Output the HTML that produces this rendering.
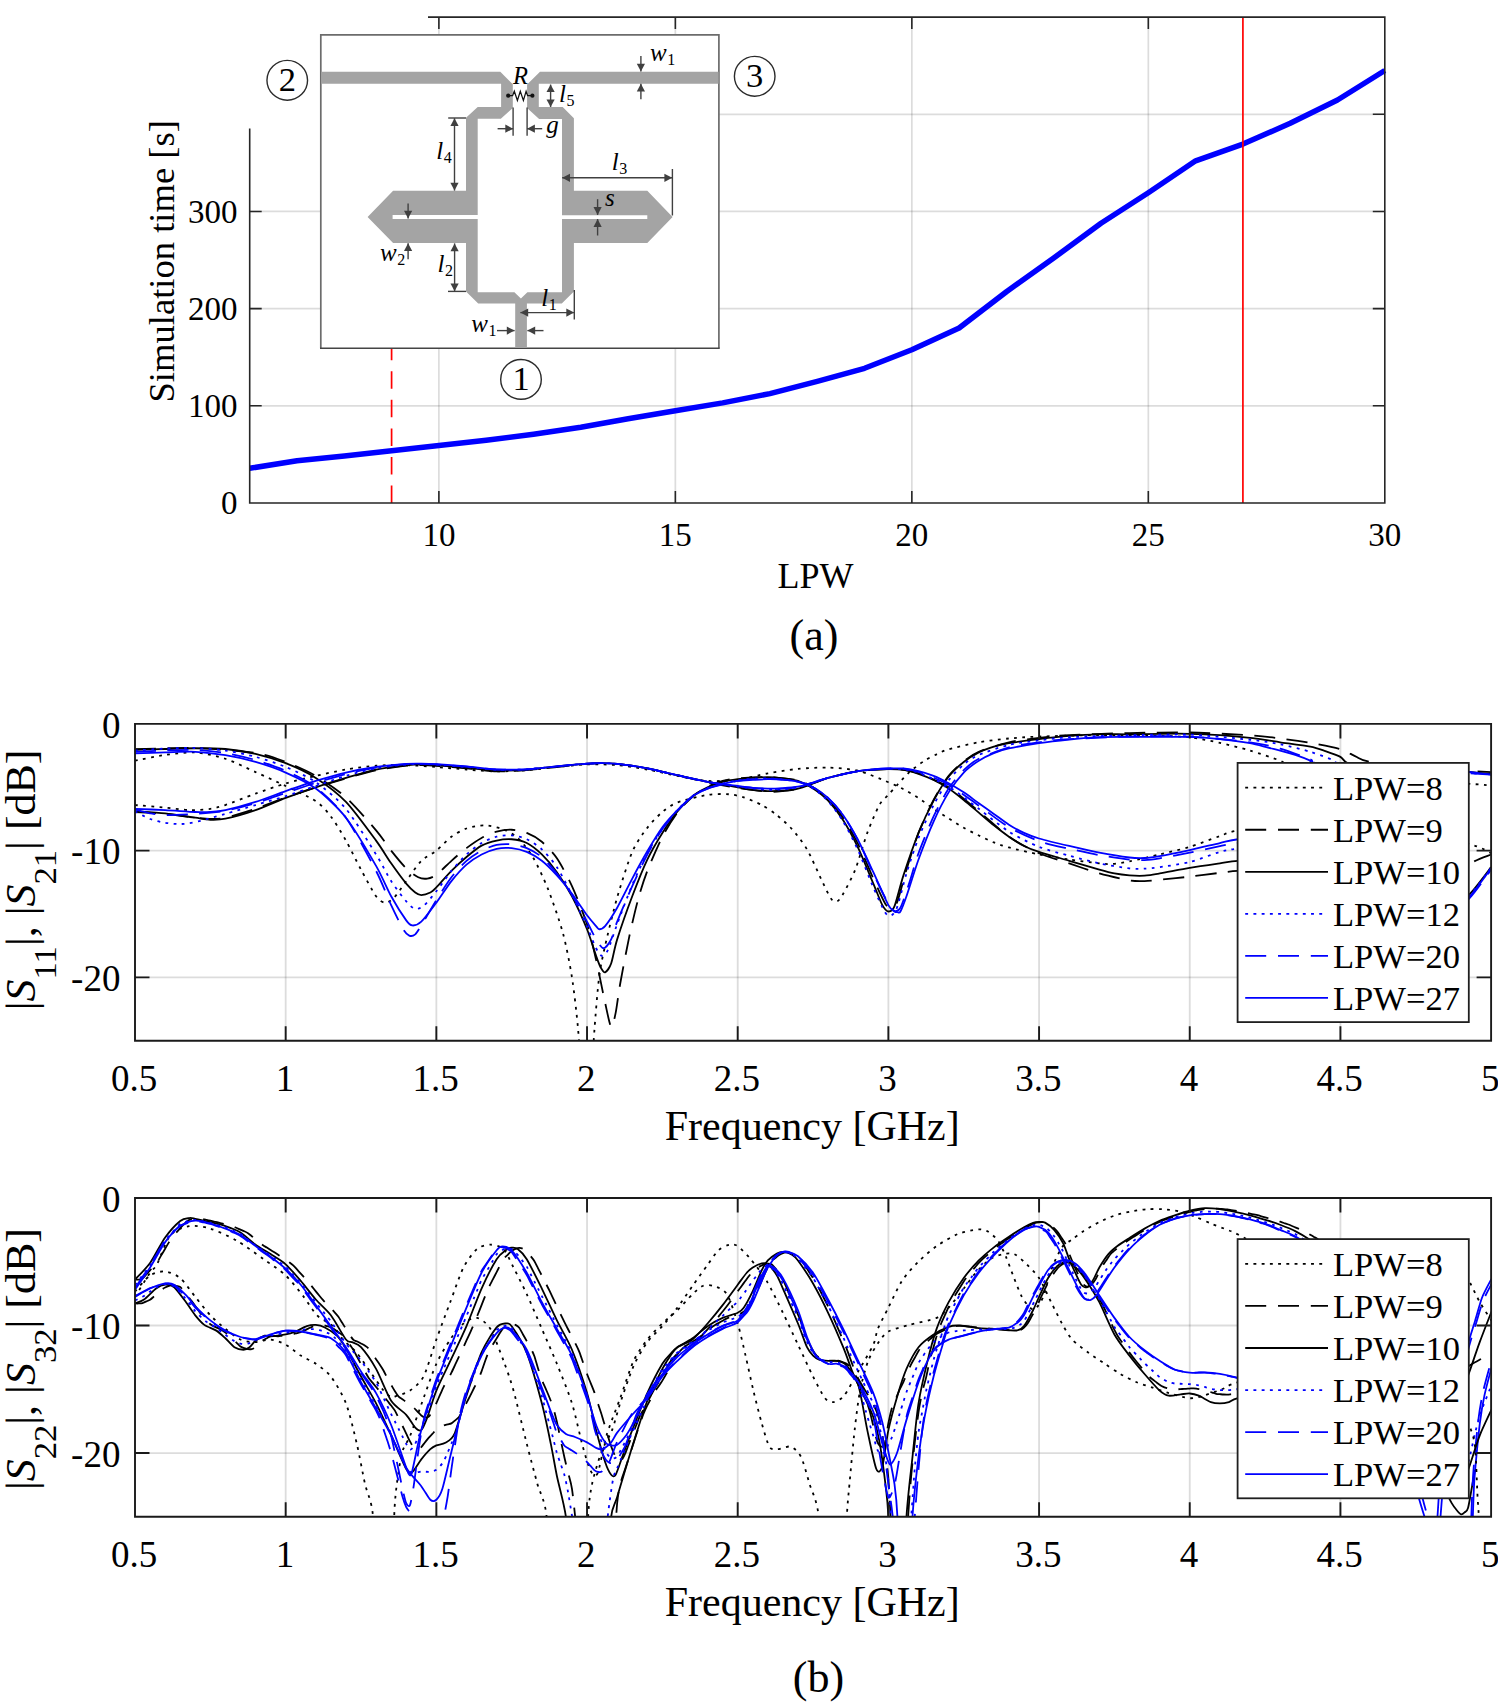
<!DOCTYPE html>
<html><head><meta charset="utf-8"><title>figure</title>
<style>html,body{margin:0;padding:0;background:#fff;}body{width:1498px;height:1707px;overflow:hidden;font-family:"Liberation Serif", serif;}svg{display:block;position:absolute;left:0;top:0;}text{font-family:"Liberation Serif", serif;fill:#000;}</style></head><body>
<svg width="1498" height="1707" viewBox="0 0 1498 1707">
<rect x="0" y="0" width="1498" height="1707" fill="#fff"/>
<g id="top">
<path d="M438.88 17.1V503" stroke="#262626" stroke-opacity="0.16" stroke-width="1.7" fill="none"/>
<path d="M675.36 17.1V503" stroke="#262626" stroke-opacity="0.16" stroke-width="1.7" fill="none"/>
<path d="M911.84 17.1V503" stroke="#262626" stroke-opacity="0.16" stroke-width="1.7" fill="none"/>
<path d="M1148.32 17.1V503" stroke="#262626" stroke-opacity="0.16" stroke-width="1.7" fill="none"/>
<path d="M249.7 405.82H1384.8" stroke="#262626" stroke-opacity="0.16" stroke-width="1.7" fill="none"/>
<path d="M249.7 308.64H1384.8" stroke="#262626" stroke-opacity="0.16" stroke-width="1.7" fill="none"/>
<path d="M249.7 211.46H1384.8" stroke="#262626" stroke-opacity="0.16" stroke-width="1.7" fill="none"/>
<path d="M249.7 114.28H1384.8" stroke="#262626" stroke-opacity="0.16" stroke-width="1.7" fill="none"/>
<path d="M391.59 503V349" stroke="#ff0000" stroke-width="1.7" stroke-dasharray="17.5 11.05" fill="none"/>
<path d="M249.7 468.3L297 460.8L344.29 456L391.59 450.8L438.88 445.6L486.18 440.3L533.47 434.2L580.77 427.2L628.07 418.8L675.36 410.8L722.66 402.9L769.95 393.6L817.25 381.4L864.55 368.3L911.84 349.8L959.14 328L1006.43 291.7L1053.73 258L1101.02 223.3L1148.32 192.7L1195.62 160.8L1242.91 144.1L1290.21 123.3L1337.5 100L1384.8 70.5" stroke="#0000ff" stroke-width="5.5" fill="none" stroke-linejoin="round"/>
<path d="M1242.91 17.1V503" stroke="#ff0000" stroke-width="1.7" fill="none"/>
<path d="M249.7 17.1H1384.8V503H249.7ZM438.88 503v-12M438.88 17.1v12M675.36 503v-12M675.36 17.1v12M911.84 503v-12M911.84 17.1v12M1148.32 503v-12M1148.32 17.1v12M1384.8 503v-12M1384.8 17.1v12M249.7 503h12M1384.8 503h-12M249.7 405.82h12M1384.8 405.82h-12M249.7 308.64h12M1384.8 308.64h-12M249.7 211.46h12M1384.8 211.46h-12M249.7 114.28h12M1384.8 114.28h-12M249.7 17.1h12M1384.8 17.1h-12" stroke="#262626" stroke-width="1.6" fill="none"/>
<rect x="0" y="0" width="428" height="128.5" fill="#fff"/>
<text x="237.5" y="514.2" font-size="33" text-anchor="end"  >0</text>
<text x="237.5" y="417.02" font-size="33" text-anchor="end"  >100</text>
<text x="237.5" y="319.84" font-size="33" text-anchor="end"  >200</text>
<text x="237.5" y="222.66" font-size="33" text-anchor="end"  >300</text>
<text x="438.88" y="546.2" font-size="33" text-anchor="middle"  >10</text>
<text x="675.36" y="546.2" font-size="33" text-anchor="middle"  >15</text>
<text x="911.84" y="546.2" font-size="33" text-anchor="middle"  >20</text>
<text x="1148.32" y="546.2" font-size="33" text-anchor="middle"  >25</text>
<text x="1384.8" y="546.2" font-size="33" text-anchor="middle"  >30</text>
<text x="815.6" y="588.3" font-size="36" text-anchor="middle"  >LPW</text>
<text transform="translate(173.9,261.3) rotate(-90)" font-size="36.6" text-anchor="middle">Simulation time [s]</text>
<text x="814" y="649.6" font-size="44" text-anchor="middle"  >(a)</text>
</g>
<g id="inset">
<rect x="320.8" y="34.8" width="398.1" height="313.5" fill="#fff"/>
<path d="M320.8 348.3V34.8H718.9V348.3" stroke="#6c6c6c" stroke-width="1.7" fill="none" stroke-linejoin="miter"/>
<path d="M320 348.3H719.7" stroke="#444" stroke-width="1.45" fill="none"/>
<path d="M321.5 71.7L500.3 71.7L512.8 84.2L512.8 108L500.8 118.8L477.7 118.8L477.7 215.1L392.6 215.1L392.6 219L477.7 219L477.7 292.2L514.4 292.2L520.9 298.4L527.4 292.2L562 292.2L562 218.9L647.3 218.9L647.3 215.2L562 215.2L562 119.1L539.1 119.1L527.1 108L527.1 84.4L540 71.7L718.6 71.7L718.6 83.75L538.8 83.75L538.8 107.1L562.7 107.1L573.9 118.3L573.9 190.8L647.3 190.8L672.6 216.9L647.3 243.1L573.9 243.1L573.9 291.6L561.8 303.6L526.9 303.6L526.9 348L515.2 348L515.2 303.6L478.2 303.6L466 291.6L466 243.1L393.1 243.1L367.6 216.9L393.1 190.7L466 190.7L466 117.8L477.7 107.1L501.1 107.1L501.1 83.75L321.5 83.75Z" fill="#a4a4a4"/>
<path d="M640.9 56L640.9 71.6" stroke="#404040" stroke-width="1.4" fill="none"/>
<path d="M640.9 71.6L636.8 63.8L645 63.8Z" fill="#404040"/>
<path d="M640.9 99.3L640.9 83.8" stroke="#404040" stroke-width="1.4" fill="none"/>
<path d="M640.9 83.8L645 91.6L636.8 91.6Z" fill="#404040"/>
<text x="650" y="61.2" font-size="25" font-style="italic" text-anchor="start">w<tspan font-style="normal" font-size="16" dx="0.5" dy="4">1</tspan></text>
<text x="512.9" y="83.6" font-size="24.5" font-style="italic" text-anchor="start">R</text>
<circle cx="508.2" cy="95.7" r="2.1" fill="#111"/><circle cx="532.4" cy="95.7" r="2.1" fill="#111"/>
<path d="M508.2 95.7H512.6L514.3 91.2L517.4 100.4L520.3 91.2L523.4 100.4L526.1 91.4L527.6 95.7H532.4" stroke="#111" stroke-width="1.25" fill="none" stroke-linejoin="miter"/>
<path d="M550.6 84.6L550.6 107" stroke="#404040" stroke-width="1.4" fill="none"/>
<path d="M550.6 107L546.5 99.6L554.7 99.6Z" fill="#404040"/>
<path d="M550.6 84.6L546.5 92L554.7 92Z" fill="#404040"/>
<text x="559" y="102.4" font-size="25" font-style="italic" text-anchor="start">l<tspan font-style="normal" font-size="16" dx="0.5" dy="4">5</tspan></text>
<path d="M513.1 107.5L513.1 135.8" stroke="#404040" stroke-width="1.4" fill="none"/>
<path d="M527.1 107.5L527.1 135.8" stroke="#404040" stroke-width="1.4" fill="none"/>
<path d="M497.6 128.7L513.1 128.7" stroke="#404040" stroke-width="1.4" fill="none"/>
<path d="M513.1 128.7L505.3 132.8L505.3 124.6Z" fill="#404040"/>
<path d="M542.2 128.7L527.1 128.7" stroke="#404040" stroke-width="1.4" fill="none"/>
<path d="M527.1 128.7L534.9 124.6L534.9 132.8Z" fill="#404040"/>
<text x="546.2" y="133" font-size="25" font-style="italic" text-anchor="start">g</text>
<path d="M448.2 118L466 118" stroke="#404040" stroke-width="1.4" fill="none"/>
<path d="M454.5 118.2L454.5 190.6" stroke="#404040" stroke-width="1.4" fill="none"/>
<path d="M454.5 190.6L450.4 182.8L458.6 182.8Z" fill="#404040"/>
<path d="M454.5 118.2L450.4 126L458.6 126Z" fill="#404040"/>
<text x="436.2" y="159.2" font-size="25" font-style="italic" text-anchor="start">l<tspan font-style="normal" font-size="16" dx="0.5" dy="4">4</tspan></text>
<path d="M672.4 169L672.4 215.5" stroke="#404040" stroke-width="1.4" fill="none"/>
<path d="M562.2 177.8L672.2 177.8" stroke="#404040" stroke-width="1.4" fill="none"/>
<path d="M672.2 177.8L664.4 181.9L664.4 173.7Z" fill="#404040"/>
<path d="M562.2 177.8L570 181.9L570 173.7Z" fill="#404040"/>
<text x="611.8" y="170.2" font-size="25" font-style="italic" text-anchor="start">l<tspan font-style="normal" font-size="16" dx="0.5" dy="4">3</tspan></text>
<path d="M597.6 199.2L597.6 214.9" stroke="#404040" stroke-width="1.4" fill="none"/>
<path d="M597.6 214.9L593.5 207.1L601.7 207.1Z" fill="#404040"/>
<path d="M597.6 235.5L597.6 219.1" stroke="#404040" stroke-width="1.4" fill="none"/>
<path d="M597.6 219.1L601.7 226.9L593.5 226.9Z" fill="#404040"/>
<text x="605" y="206.3" font-size="25" font-style="italic" text-anchor="start">s</text>
<path d="M408.1 203.4L408.1 218.6" stroke="#404040" stroke-width="1.4" fill="none"/>
<path d="M408.1 218.6L404 210.8L412.2 210.8Z" fill="#404040"/>
<path d="M408.1 259.3L408.1 243.2" stroke="#404040" stroke-width="1.4" fill="none"/>
<path d="M408.1 243.2L412.2 251L404 251Z" fill="#404040"/>
<text x="380" y="261.2" font-size="25" font-style="italic" text-anchor="start">w<tspan font-style="normal" font-size="16" dx="0.5" dy="4">2</tspan></text>
<path d="M448 291.4L466 291.4" stroke="#404040" stroke-width="1.4" fill="none"/>
<path d="M454.6 243.4L454.6 291.2" stroke="#404040" stroke-width="1.4" fill="none"/>
<path d="M454.6 291.2L450.5 283.4L458.7 283.4Z" fill="#404040"/>
<path d="M454.6 243.4L450.5 251.2L458.7 251.2Z" fill="#404040"/>
<text x="437.6" y="271.8" font-size="25" font-style="italic" text-anchor="start">l<tspan font-style="normal" font-size="16" dx="0.5" dy="4">2</tspan></text>
<path d="M574.3 290L574.3 319.4" stroke="#404040" stroke-width="1.4" fill="none"/>
<path d="M520.4 312.6L574.1 312.6" stroke="#404040" stroke-width="1.4" fill="none"/>
<path d="M574.1 312.6L566.3 316.7L566.3 308.5Z" fill="#404040"/>
<path d="M520.4 312.6L528.2 316.7L528.2 308.5Z" fill="#404040"/>
<text x="541.3" y="305.9" font-size="25" font-style="italic" text-anchor="start">l<tspan font-style="normal" font-size="16" dx="0.5" dy="4">1</tspan></text>
<path d="M497 330.6L514.6 330.6" stroke="#404040" stroke-width="1.4" fill="none"/>
<path d="M514.6 330.6L506.8 334.7L506.8 326.5Z" fill="#404040"/>
<path d="M543.5 330.6L527.4 330.6" stroke="#404040" stroke-width="1.4" fill="none"/>
<path d="M527.4 330.6L535.2 326.5L535.2 334.7Z" fill="#404040"/>
<text x="471.2" y="331.9" font-size="25" font-style="italic" text-anchor="start">w<tspan font-style="normal" font-size="16" dx="0.5" dy="4">1</tspan></text>
<ellipse cx="287.25" cy="80.3" rx="20.3" ry="19.9" fill="#fff" stroke="#2b2b2b" stroke-width="1.4"/>
<text x="287.25" y="91.2" font-size="34.5" text-anchor="middle"  >2</text>
<ellipse cx="754.7" cy="76.3" rx="20.3" ry="19.9" fill="#fff" stroke="#2b2b2b" stroke-width="1.4"/>
<text x="754.7" y="87.2" font-size="34.5" text-anchor="middle"  >3</text>
<ellipse cx="521" cy="379.4" rx="20.3" ry="19.9" fill="#fff" stroke="#2b2b2b" stroke-width="1.4"/>
<text x="521" y="390.3" font-size="34.5" text-anchor="middle"  >1</text>
</g>
<g id="mid">
<path d="M285.68 723.9V1040.8M436.36 723.9V1040.8M587.03 723.9V1040.8M737.71 723.9V1040.8M888.39 723.9V1040.8M1039.07 723.9V1040.8M1189.74 723.9V1040.8M1340.42 723.9V1040.8" stroke="#262626" stroke-opacity="0.16" stroke-width="1.8" fill="none"/>
<path d="M135 850.66H1491.1M135 977.42H1491.1" stroke="#262626" stroke-opacity="0.16" stroke-width="1.8" fill="none"/>
<svg x="135" y="723.9" width="1356.1" height="316.9" viewBox="135 723.9 1356.1 316.9" overflow="hidden"><g fill="none" stroke-width="1.8" stroke-linejoin="round">
<path d="M135 760.66C139.02 759.9 157.1 756.05 165.14 754.96C173.17 753.86 187.23 751.91 195.27 752.42C203.31 752.93 217.37 756.14 225.41 758.76C233.44 761.38 247.51 768.44 255.54 772.07C263.58 775.7 277.64 782.13 285.68 786.01C293.71 789.9 309.79 797.17 315.81 801.22C321.84 805.28 326.86 811.2 330.88 816.43C334.9 821.67 341.93 833.42 345.95 840.52C349.97 847.62 357 862.24 361.02 869.67C365.03 877.11 372.87 891.9 376.08 896.29C379.3 900.69 382.71 902.46 385.13 902.63C387.54 902.8 391.35 900.43 394.17 897.56C396.98 894.69 402.6 885.98 406.22 881.08C409.84 876.18 417.27 864.86 421.29 860.8C425.31 856.74 432.34 853.87 436.36 850.66C440.37 847.45 447.41 839.67 451.42 836.72C455.44 833.76 462.07 830 466.49 828.48C470.91 826.96 479.75 825.22 484.57 825.31C489.39 825.39 498.23 827.42 502.65 829.11C507.07 830.8 513.7 834.27 517.72 837.98C521.74 841.7 528.77 850.24 532.79 857C536.81 863.76 543.84 878.55 547.86 888.69C551.88 898.83 559.71 921.22 562.92 933.05C566.14 944.88 569.96 964.74 571.97 977.42C573.97 990.1 576.79 1014.6 577.99 1028.12C579.2 1041.65 580.2 1061.93 581.01 1078.83C581.81 1095.73 583.02 1144.74 584.02 1154.88C585.02 1165.02 587.54 1165.02 588.54 1154.88C589.54 1144.74 590.75 1095.73 591.55 1078.83C592.36 1061.93 593.56 1041.65 594.57 1028.12C595.57 1014.6 597.68 988.41 599.09 977.42C600.49 966.43 602.7 956.38 605.11 945.73C607.53 935.08 613.55 910.07 617.17 897.56C620.79 885.05 628.22 861.22 632.24 851.93C636.25 842.63 643.29 833.17 647.3 827.84C651.32 822.52 658.35 815.38 662.37 812C666.39 808.62 671.41 804.77 677.44 802.49C683.47 800.21 700.74 795.98 707.58 794.89C714.41 793.79 723.85 793.91 728.67 794.25C733.49 794.59 739.32 795.98 743.74 797.42C748.16 798.86 757.4 802.66 761.82 805.03C766.24 807.39 772.87 811.96 776.89 815.17C780.91 818.38 787.94 824.55 791.96 829.11C795.97 833.67 803 842.46 807.02 849.39C811.04 856.32 818.88 874.49 822.09 881.08C825.31 887.67 829.12 896.12 831.13 898.83C833.14 901.53 835.55 902.04 837.16 901.36C838.77 900.69 840.77 897.98 843.19 893.76C845.6 889.53 852.03 877.79 855.24 869.67C858.45 861.56 864.08 841.53 867.29 832.91C870.51 824.29 876.54 810.1 879.35 805.03C882.16 799.96 885.98 797.59 888.39 794.89C890.8 792.18 894.62 787.79 897.43 784.74C900.24 781.7 905.87 775.28 909.48 772.07C913.1 768.86 920.94 763.03 924.55 760.66C928.17 758.29 933.39 755.84 936.61 754.32C939.82 752.8 943.03 750.86 948.66 749.25C954.29 747.65 970.76 743.72 978.8 742.28C986.83 740.84 1000.89 739.24 1008.93 738.48C1016.97 737.72 1027.01 737.03 1039.07 736.58C1051.12 736.12 1083.27 735.14 1099.34 735.05C1115.41 734.97 1147.55 735.65 1159.61 735.94C1171.66 736.23 1181.71 736.28 1189.74 737.21C1197.78 738.14 1211.84 741.14 1219.88 742.91C1227.92 744.69 1241.98 748.15 1250.02 750.52C1258.05 752.89 1274.53 758.46 1280.15 760.66C1285.78 762.86 1284.17 765.14 1292.21 767C1300.24 768.86 1321.94 772.74 1340.42 774.6C1358.91 776.46 1410.74 779.51 1430.83 780.94C1450.92 782.38 1483.06 784.79 1491.1 785.38" stroke="#000" stroke-dasharray="2.8 5.4"/>
<path d="M135 805.03C139.02 805.36 157.9 806.89 165.14 807.56C172.37 808.24 183.22 809.93 189.24 810.1C195.27 810.27 205.52 809.51 210.34 808.83C215.16 808.15 219.38 807.05 225.41 805.03C231.43 803 247.51 796.49 255.54 793.62C263.58 790.74 277.64 785.84 285.68 783.48C293.71 781.11 307.78 777.73 315.81 775.87C323.85 774.01 337.91 770.89 345.95 769.53C353.99 768.18 368.05 766.32 376.08 765.73C384.12 765.14 398.18 764.93 406.22 765.1C414.26 765.27 428.32 766.41 436.36 767C444.39 767.59 458.45 768.94 466.49 769.53C474.53 770.13 488.59 771.35 496.63 771.43C504.66 771.52 518.73 770.76 526.76 770.17C534.8 769.58 548.86 767.76 556.9 767C564.93 766.24 579 764.72 587.03 764.46C595.07 764.21 609.13 764.42 617.17 765.1C625.21 765.77 639.27 768.1 647.3 769.53C655.34 770.97 669.4 774.35 677.44 775.87C685.48 777.39 699.54 780.43 707.58 780.94C715.61 781.45 729.67 780.69 737.71 779.67C745.75 778.66 759.81 774.77 767.85 773.34C775.88 771.9 789.95 769.66 797.98 768.9C806.02 768.14 820.08 767.38 828.12 767.63C836.15 767.89 850.22 768.86 858.25 770.8C866.29 772.74 882.36 779.76 888.39 782.21C894.42 784.66 899.44 787.07 903.46 789.18C907.47 791.29 914.51 795.43 918.52 798.05C922.54 800.67 929.57 806.12 933.59 808.83C937.61 811.53 944.64 815.8 948.66 818.34C952.68 820.87 959.71 825.56 963.73 827.84C967.75 830.12 974.78 833.51 978.8 835.45C982.81 837.39 989.85 840.81 993.86 842.42C997.88 844.03 1002.9 845.89 1008.93 847.49C1014.96 849.1 1031.03 852.86 1039.07 854.46C1047.1 856.07 1061.17 858.35 1069.2 859.53C1077.24 860.72 1093.71 862.74 1099.34 863.34C1104.96 863.93 1107.37 864.22 1111.39 863.97C1115.41 863.72 1123.04 862.7 1129.47 861.43C1135.9 860.17 1151.57 856.41 1159.61 854.46C1167.65 852.52 1181.71 849.31 1189.74 846.86C1197.78 844.41 1213.45 838.28 1219.88 836.08C1226.31 833.89 1225.91 832.66 1237.96 830.38C1250.02 828.1 1288.59 818.8 1310.29 818.97C1331.98 819.14 1379.4 828.27 1400.69 831.65C1421.99 835.03 1457.95 841.45 1470.01 844.32C1482.06 847.2 1488.29 852.01 1491.1 853.2" stroke="#000" stroke-dasharray="2.8 5.4"/>
<path d="M135 749.25C143.04 749.08 179.2 747.48 195.27 747.98C211.34 748.49 243.49 751.2 255.54 753.05C267.6 754.91 277.64 758.89 285.68 761.93C293.71 764.97 307.78 771.14 315.81 775.87C323.85 780.6 337.91 790.15 345.95 797.42C353.99 804.69 370.06 823.28 376.08 830.38C382.11 837.48 387.13 845.59 391.15 850.66C395.17 855.73 402.6 864.86 406.22 868.41C409.84 871.96 415.46 875.93 418.27 877.28C421.09 878.63 424.9 878.89 427.31 878.55C429.73 878.21 433.14 877.11 436.36 874.74C439.57 872.38 447.41 864.35 451.42 860.8C455.44 857.25 462.47 851.17 466.49 848.12C470.51 845.08 477.54 840.18 481.56 837.98C485.58 835.79 492.61 832.74 496.63 831.65C500.64 830.55 507.68 829.58 511.69 829.74C515.71 829.91 522.74 831.31 526.76 832.91C530.78 834.52 537.81 838.41 541.83 841.79C545.85 845.17 552.88 852.35 556.9 858.27C560.92 864.18 567.95 877.36 571.97 886.15C575.98 894.94 583.82 914.38 587.03 924.18C590.25 933.98 593.66 949.19 596.07 959.67C598.48 970.15 603.11 993.81 605.11 1002.77C607.12 1011.73 609.74 1025.5 611.14 1026.86C612.55 1028.21 614.46 1018.66 615.66 1012.91C616.87 1007.17 618.37 993.9 620.18 983.76C621.99 973.62 626.81 948.18 629.22 936.86C631.63 925.53 635.85 907.62 638.26 898.83C640.67 890.04 644.09 879.22 647.3 870.94C650.52 862.66 658.35 844.49 662.37 836.72C666.39 828.94 673.42 817.96 677.44 812.63C681.46 807.31 688.49 800.25 692.51 796.79C696.53 793.32 703.56 788.76 707.58 786.65C711.59 784.53 718.63 782.04 722.64 780.94C726.66 779.84 731.68 778.91 737.71 778.41C743.74 777.9 759.81 776.89 767.85 777.14C775.88 777.39 791.96 778.96 797.98 780.31C804.01 781.66 809.03 784.83 813.05 787.28C817.07 789.73 824.1 794.63 828.12 798.69C832.14 802.74 839.17 811.62 843.19 817.7C847.2 823.79 854.24 836.21 858.25 844.32C862.27 852.43 869.7 870.6 873.32 878.55C876.94 886.49 882.96 900.01 885.38 903.9C887.79 907.79 889.8 908.04 891.4 907.7C893.01 907.36 895.42 906.43 897.43 901.36C899.44 896.29 903.66 878.8 906.47 869.67C909.28 860.55 914.91 842.21 918.52 832.91C922.14 823.62 929.57 807.56 933.59 799.96C937.61 792.35 944.64 781.03 948.66 775.87C952.68 770.72 959.71 764.51 963.73 761.29C967.75 758.08 972.77 754.32 978.8 751.79C984.82 749.25 1000.89 744.14 1008.93 742.28C1016.97 740.42 1031.03 738.81 1039.07 737.84C1047.1 736.88 1057.15 735.7 1069.2 735.05C1081.26 734.41 1113.4 733.36 1129.47 733.03C1145.55 732.69 1173.67 732.22 1189.74 732.52C1205.82 732.82 1237.96 734.51 1250.02 735.31C1262.07 736.1 1272.11 737.46 1280.15 738.48C1288.19 739.49 1302.25 741.48 1310.29 742.91C1318.32 744.35 1334.4 747.46 1340.42 749.25C1346.45 751.04 1351.47 754.66 1355.49 756.35C1359.51 758.04 1360.51 760.34 1370.56 761.93C1380.6 763.52 1414.76 766.91 1430.83 768.27C1446.9 769.62 1483.06 771.56 1491.1 772.07" stroke="#000" stroke-dasharray="21 11.5"/>
<path d="M135 812C139.02 812.25 157.1 813.14 165.14 813.9C173.17 814.66 189.24 817.03 195.27 817.7C201.3 818.38 206.32 818.97 210.34 818.97C214.36 818.97 219.38 819.05 225.41 817.7C231.43 816.35 247.51 811.53 255.54 808.83C263.58 806.12 277.64 800.29 285.68 797.42C293.71 794.55 307.78 789.82 315.81 787.28C323.85 784.74 337.91 780.69 345.95 778.41C353.99 776.13 368.05 771.86 376.08 770.17C384.12 768.48 400.19 766.41 406.22 765.73C412.25 765.05 417.27 765.1 421.29 765.1C425.31 765.1 430.33 765.31 436.36 765.73C442.38 766.15 458.45 767.51 466.49 768.27C474.53 769.03 488.59 771.18 496.63 771.43C504.66 771.69 518.73 770.76 526.76 770.17C534.8 769.58 548.86 767.84 556.9 767C564.93 766.15 581.01 764.34 587.03 763.83C593.06 763.32 598.08 763.18 602.1 763.2C606.12 763.21 611.14 763.28 617.17 763.96C623.2 764.63 639.27 766.76 647.3 768.27C655.34 769.77 669.4 773.38 677.44 775.24C685.48 777.1 699.54 780.52 707.58 782.21C715.61 783.9 729.67 786.65 737.71 787.91C745.75 789.18 761.82 791.29 767.85 791.72C773.87 792.14 778.9 791.51 782.91 791.08C786.93 790.66 791.96 790.31 797.98 788.55C804.01 786.79 820.08 780.22 828.12 777.9C836.15 775.58 850.22 772.36 858.25 771.18C866.29 770 882.36 769.21 888.39 769.03C894.42 768.84 899.44 769.21 903.46 769.79C907.47 770.36 912.5 771 918.52 773.34C924.55 775.67 940.62 782.21 948.66 787.28C956.7 792.35 970.76 804.77 978.8 811.36C986.83 817.96 1000.89 831.14 1008.93 836.72C1016.97 842.29 1031.03 849.65 1039.07 853.2C1047.1 856.74 1061.17 860.63 1069.2 863.34C1077.24 866.04 1091.3 871.2 1099.34 873.48C1107.37 875.76 1123.45 879.43 1129.47 880.45C1135.5 881.46 1140.52 881.17 1144.54 881.08C1148.56 881 1153.58 880.41 1159.61 879.81C1165.64 879.22 1181.71 877.58 1189.74 876.65C1197.78 875.72 1213.45 873.6 1219.88 872.84C1226.31 872.08 1229.93 871.36 1237.96 870.94C1246 870.52 1266.49 869 1280.15 869.67C1293.81 870.35 1324.35 873.48 1340.42 876.01C1356.49 878.55 1386.63 887 1400.69 888.69C1414.76 890.38 1436.66 891.98 1445.9 888.69C1455.14 885.39 1463.98 868.53 1470.01 863.97C1476.03 859.41 1488.29 855.73 1491.1 854.46" stroke="#000" stroke-dasharray="21 11.5"/>
<path d="M135 749.76C139.02 749.66 157.1 749.2 165.14 749C173.17 748.8 187.23 748.24 195.27 748.24C203.31 748.24 217.37 748.25 225.41 749C233.44 749.74 247.51 751.92 255.54 753.82C263.58 755.71 277.64 759.98 285.68 763.2C293.71 766.41 307.78 772.74 315.81 777.9C323.85 783.05 337.91 793.49 345.95 801.86C353.99 810.22 370.06 832.45 376.08 840.65C382.11 848.84 387.13 857.61 391.15 863.34C395.17 869.07 403.01 879.73 406.22 883.62C409.43 887.5 413.25 890.97 415.26 892.49C417.27 894.01 419.28 895.03 421.29 895.03C423.3 895.03 428.32 893.5 430.33 892.49C432.34 891.48 433.54 890.29 436.36 887.42C439.17 884.55 447.41 875 451.42 870.94C455.44 866.89 462.47 860.38 466.49 857C470.51 853.62 477.54 847.79 481.56 845.59C485.58 843.39 492.61 841.36 496.63 840.52C500.64 839.67 507.68 838.91 511.69 839.25C515.71 839.59 522.74 841.03 526.76 843.05C530.78 845.08 537.81 850.58 541.83 854.46C545.85 858.35 552.88 866.63 556.9 872.21C560.92 877.79 567.95 888.69 571.97 896.29C575.98 903.9 583.82 921.31 587.03 929.25C590.25 937.19 594.27 950.8 596.07 955.87C597.88 960.94 599.39 965.08 600.59 967.28C601.8 969.48 603.71 972.86 605.11 972.35C606.52 971.84 609.53 967.87 611.14 963.48C612.75 959.08 614.36 948.35 617.17 939.39C619.98 930.43 628.22 906.94 632.24 896.29C636.25 885.65 643.29 867.98 647.3 859.53C651.32 851.08 658.35 839.34 662.37 832.91C666.39 826.49 673.42 816.27 677.44 811.36C681.46 806.46 688.49 799.36 692.51 796.15C696.53 792.94 703.56 789.19 707.58 787.28C711.59 785.37 718.63 782.91 722.64 781.83C726.66 780.75 733.69 779.69 737.71 779.17C741.73 778.64 748.76 778.17 752.78 777.9C756.8 777.63 763.83 777.07 767.85 777.14C771.86 777.21 778.9 777.9 782.91 778.41C786.93 778.91 793.96 779.59 797.98 780.94C802 782.29 809.03 785.93 813.05 788.55C817.07 791.17 824.1 796.36 828.12 800.59C832.14 804.82 839.17 813.9 843.19 820.24C847.2 826.58 854.24 839.67 858.25 848.12C862.27 856.58 870.11 876.01 873.32 883.62C876.54 891.22 880.35 901.45 882.36 905.17C884.37 908.89 886.78 911.34 888.39 911.5C890 911.67 892.41 911.25 894.42 906.43C896.43 901.62 900.24 885.18 903.46 875.38C906.67 865.58 914.51 842.89 918.52 832.91C922.54 822.94 929.57 808.11 933.59 800.59C937.61 793.07 944.64 781.66 948.66 776.51C952.68 771.35 959.71 765.14 963.73 761.93C967.75 758.72 974.78 754.45 978.8 752.42C982.81 750.39 989.85 747.95 993.86 746.72C997.88 745.48 1002.9 744.18 1008.93 743.17C1014.96 742.15 1031.03 740.07 1039.07 739.11C1047.1 738.15 1061.17 736.58 1069.2 735.94C1077.24 735.3 1091.3 734.51 1099.34 734.29C1107.37 734.07 1121.44 734.36 1129.47 734.29C1137.51 734.23 1151.57 733.85 1159.61 733.79C1167.65 733.72 1181.71 733.6 1189.74 733.79C1197.78 733.97 1211.84 734.64 1219.88 735.18C1227.92 735.72 1243.59 737.15 1250.02 737.84C1256.44 738.54 1264.08 739.79 1268.1 740.38C1272.11 740.97 1274.53 741.44 1280.15 742.28C1285.78 743.13 1304.26 745.53 1310.29 746.72C1316.31 747.9 1321.34 749.8 1325.35 751.15C1329.37 752.51 1337.45 755.25 1340.42 756.86C1343.4 758.46 1343.64 761.84 1347.65 763.2C1351.67 764.55 1363.49 766.24 1370.56 767C1377.63 767.76 1388.64 768.31 1400.69 768.9C1412.75 769.49 1448.91 770.76 1460.96 771.43C1473.02 772.11 1487.08 773.63 1491.1 773.97" stroke="#000"/>
<path d="M135 811.36C139.02 811.63 157.1 812.55 165.14 813.39C173.17 814.24 189.24 816.86 195.27 817.7C201.3 818.55 206.32 819.6 210.34 819.73C214.36 819.87 219.38 820 225.41 818.72C231.43 817.43 247.51 812.87 255.54 810.1C263.58 807.32 277.64 800.97 285.68 797.93C293.71 794.89 307.78 789.95 315.81 787.28C323.85 784.61 337.91 780.27 345.95 777.9C353.99 775.53 368.05 771.21 376.08 769.53C384.12 767.86 400.19 766.03 406.22 765.35C412.25 764.67 417.27 764.46 421.29 764.46C425.31 764.46 430.33 764.91 436.36 765.35C442.38 765.79 458.45 767.05 466.49 767.76C474.53 768.47 488.59 770.44 496.63 770.67C504.66 770.91 518.73 770.11 526.76 769.53C534.8 768.96 548.86 767.14 556.9 766.36C564.93 765.59 581.01 764.13 587.03 763.7C593.06 763.28 598.08 763.16 602.1 763.2C606.12 763.23 611.14 763.28 617.17 763.96C623.2 764.63 639.27 766.76 647.3 768.27C655.34 769.77 669.4 773.43 677.44 775.24C685.48 777.05 699.54 780.22 707.58 781.83C715.61 783.43 731.68 786.22 737.71 787.28C743.74 788.34 748.76 789.31 752.78 789.82C756.8 790.32 763.83 790.96 767.85 791.08C771.86 791.2 778.9 791.04 782.91 790.7C786.93 790.36 793.96 789.51 797.98 788.55C802 787.58 809.03 784.9 813.05 783.48C817.07 782.06 822.09 779.54 828.12 777.9C834.14 776.26 852.23 772.3 858.25 771.18C864.28 770.07 869.3 769.82 873.32 769.53C877.34 769.25 884.37 768.99 888.39 769.03C892.41 769.06 899.44 769.14 903.46 769.79C907.47 770.43 914.51 772.47 918.52 773.84C922.54 775.21 929.57 778.09 933.59 780.05C937.61 782.02 944.64 785.89 948.66 788.55C952.68 791.2 959.71 796.74 963.73 799.96C967.75 803.17 974.78 809.25 978.8 812.63C982.81 816.01 989.85 822.1 993.86 825.31C997.88 828.52 1004.91 833.96 1008.93 836.72C1012.95 839.47 1019.98 843.94 1024 845.97C1028.02 848 1033.04 849.95 1039.07 851.93C1045.09 853.91 1061.17 858.43 1069.2 860.8C1077.24 863.17 1093.31 867.98 1099.34 869.67C1105.36 871.36 1110.39 872.72 1114.41 873.48C1118.42 874.24 1125.46 875.09 1129.47 875.38C1133.49 875.67 1140.52 875.89 1144.54 875.63C1148.56 875.38 1153.58 874.51 1159.61 873.48C1165.64 872.45 1181.71 869.25 1189.74 867.9C1197.78 866.55 1213.45 864.28 1219.88 863.34C1226.31 862.39 1229.93 861.31 1237.96 860.8C1246 860.29 1266.49 858.35 1280.15 859.53C1293.81 860.72 1324.35 864.94 1340.42 869.67C1356.49 874.41 1386.63 889.11 1400.69 895.03C1414.76 900.94 1436.66 914.21 1445.9 914.04C1455.14 913.87 1463.98 900.01 1470.01 893.76C1476.03 887.5 1488.29 870.69 1491.1 867.14" stroke="#000"/>
<path d="M135 750.52C139.02 750.27 157.1 748.96 165.14 748.62C173.17 748.28 187.23 747.73 195.27 747.98C203.31 748.24 217.37 749.34 225.41 750.52C233.44 751.7 247.51 754.66 255.54 756.86C263.58 759.05 277.64 763.62 285.68 767C293.71 770.38 307.78 776.63 315.81 782.21C323.85 787.79 337.91 799.2 345.95 808.83C353.99 818.46 370.06 844.83 376.08 854.46C382.11 864.1 387.13 874.83 391.15 881.08C395.17 887.34 403.01 897.65 406.22 901.36C409.43 905.08 412.85 908.46 415.26 908.97C417.67 909.48 421.49 907.53 424.3 905.17C427.11 902.8 432.74 895.79 436.36 891.22C439.97 886.66 447.41 875.84 451.42 870.94C455.44 866.04 462.47 858.18 466.49 854.46C470.51 850.74 477.54 845.42 481.56 843.05C485.58 840.69 492.61 837.73 496.63 836.72C500.64 835.7 507.68 835.11 511.69 835.45C515.71 835.79 522.74 837.39 526.76 839.25C530.78 841.11 537.81 845.67 541.83 849.39C545.85 853.11 552.88 861.05 556.9 867.14C560.92 873.22 567.95 887.08 571.97 895.03C575.98 902.97 583.82 919.62 587.03 926.72C590.25 933.81 594.06 944.38 596.07 948.27C598.08 952.15 600.49 955.7 602.1 955.87C603.71 956.04 606.12 953.76 608.13 949.53C610.14 945.31 613.95 932.8 617.17 924.18C620.38 915.56 628.22 894.35 632.24 884.89C636.25 875.42 643.29 860.63 647.3 853.2C651.32 845.76 658.35 834.86 662.37 829.11C666.39 823.36 673.42 814.49 677.44 810.1C681.46 805.7 688.49 799.11 692.51 796.15C696.53 793.2 701.55 790.03 707.58 787.91C713.6 785.8 729.67 781.58 737.71 780.31C745.75 779.04 759.81 778.24 767.85 778.41C775.88 778.58 791.96 780.22 797.98 781.58C804.01 782.93 809.03 785.93 813.05 788.55C817.07 791.17 824.1 796.83 828.12 801.22C832.14 805.62 839.17 814.91 843.19 821.51C847.2 828.1 854.24 841.87 858.25 850.66C862.27 859.45 869.7 879.14 873.32 887.42C876.94 895.7 882.96 909.05 885.38 912.77C887.79 916.49 889.8 916.15 891.4 915.31C893.01 914.46 895.42 912.01 897.43 906.43C899.44 900.86 903.66 882.6 906.47 873.48C909.28 864.35 914.91 847.11 918.52 837.98C922.14 828.86 929.57 812.72 933.59 805.03C937.61 797.34 944.64 785.72 948.66 780.31C952.68 774.9 959.71 767.84 963.73 764.46C967.75 761.08 972.77 757.58 978.8 754.96C984.82 752.34 1000.89 746.76 1008.93 744.82C1016.97 742.87 1031.03 741.39 1039.07 740.38C1047.1 739.36 1057.15 737.89 1069.2 737.21C1081.26 736.53 1113.4 735.65 1129.47 735.31C1145.55 734.97 1173.67 734.08 1189.74 734.67C1205.82 735.27 1237.96 738.48 1250.02 739.75C1262.07 741.01 1272.11 742.58 1280.15 744.18C1288.19 745.79 1303.46 749.76 1310.29 751.79C1317.12 753.82 1327.36 757.87 1331.38 759.39C1335.4 760.91 1331.18 762.01 1340.42 763.2C1349.66 764.38 1380.6 766.74 1400.69 768.27C1420.78 769.79 1479.05 773.76 1491.1 774.6" stroke="#0000ff" stroke-dasharray="2.8 5.4"/>
<path d="M135 811.36C137.01 812.38 146.05 817.45 150.07 818.97C154.09 820.49 161.12 822.1 165.14 822.77C169.15 823.45 176.19 824.12 180.2 824.04C184.22 823.96 189.24 823.49 195.27 822.14C201.3 820.79 217.37 816.18 225.41 813.9C233.44 811.62 247.51 807.39 255.54 805.03C263.58 802.66 277.64 798.69 285.68 796.15C293.71 793.62 307.78 788.72 315.81 786.01C323.85 783.31 337.91 778.24 345.95 775.87C353.99 773.51 368.05 769.79 376.08 768.27C384.12 766.74 400.19 765.04 406.22 764.46C412.25 763.89 417.27 763.92 421.29 763.96C425.31 763.99 430.33 764.31 436.36 764.72C442.38 765.12 458.45 766.32 466.49 767C474.53 767.67 488.59 769.48 496.63 769.79C504.66 770.09 518.73 769.74 526.76 769.28C534.8 768.82 548.86 767.11 556.9 766.36C564.93 765.62 581.01 764.13 587.03 763.7C593.06 763.28 598.08 763.16 602.1 763.2C606.12 763.23 611.14 763.28 617.17 763.96C623.2 764.63 639.27 766.76 647.3 768.27C655.34 769.77 669.4 773.43 677.44 775.24C685.48 777.05 699.54 780.31 707.58 781.83C715.61 783.35 729.67 785.58 737.71 786.65C745.75 787.71 761.82 789.48 767.85 789.82C773.87 790.15 778.9 789.52 782.91 789.18C786.93 788.84 791.96 788.78 797.98 787.28C804.01 785.78 820.08 780.05 828.12 777.9C836.15 775.75 850.22 772.4 858.25 771.18C866.29 769.96 882.36 769.03 888.39 768.77C894.42 768.52 899.44 768.76 903.46 769.28C907.47 769.8 912.5 770.39 918.52 772.7C924.55 775.02 940.62 781.83 948.66 786.65C956.7 791.46 970.76 802.83 978.8 808.83C986.83 814.83 1000.89 826.58 1008.93 831.65C1016.97 836.72 1031.03 843.65 1039.07 846.86C1047.1 850.07 1061.17 853.53 1069.2 855.73C1077.24 857.93 1091.3 861.65 1099.34 863.34C1107.37 865.03 1123.45 867.7 1129.47 868.41C1135.5 869.12 1140.52 868.83 1144.54 868.66C1148.56 868.49 1153.58 868.02 1159.61 867.14C1165.64 866.26 1181.71 864.1 1189.74 862.07C1197.78 860.04 1213.45 853.7 1219.88 851.93C1226.31 850.15 1229.93 849.27 1237.96 848.76C1246 848.25 1266.49 847.03 1280.15 848.12C1293.81 849.22 1324.35 851.59 1340.42 857C1356.49 862.41 1386.63 880.74 1400.69 888.69C1414.76 896.63 1436.66 915.73 1445.9 916.58C1455.14 917.42 1463.98 901.53 1470.01 895.03C1476.03 888.52 1488.29 871.41 1491.1 867.77" stroke="#0000ff" stroke-dasharray="2.8 5.4"/>
<path d="M135 751.79C139.02 751.62 157.1 750.77 165.14 750.52C173.17 750.27 187.23 749.55 195.27 749.89C203.31 750.22 217.37 751.7 225.41 753.05C233.44 754.41 247.51 757.66 255.54 760.03C263.58 762.39 277.64 767.17 285.68 770.8C293.71 774.43 307.78 781.03 315.81 787.28C323.85 793.53 337.91 806.55 345.95 817.7C353.99 828.86 370.06 859.28 376.08 870.94C382.11 882.6 387.54 897.39 391.15 905.17C394.77 912.94 400.8 925.19 403.21 929.25C405.62 933.31 407.63 934.91 409.23 935.59C410.84 936.27 413.65 935.67 415.26 934.32C416.87 932.97 418.48 930.01 421.29 925.45C424.1 920.89 432.34 906.52 436.36 900.1C440.37 893.67 447.41 882.52 451.42 877.28C455.44 872.04 462.47 864.35 466.49 860.8C470.51 857.25 477.54 852.77 481.56 850.66C485.58 848.55 492.61 845.8 496.63 844.96C500.64 844.11 507.68 843.9 511.69 844.32C515.71 844.74 522.74 846.43 526.76 848.12C530.78 849.81 537.81 853.62 541.83 857C545.85 860.38 552.88 868.41 556.9 873.48C560.92 878.55 567.95 888.6 571.97 895.03C575.98 901.45 583.82 915.73 587.03 921.65C590.25 927.56 593.86 935.84 596.07 939.39C598.28 942.94 601.6 948.27 603.61 948.27C605.62 948.27 609.33 942.94 611.14 939.39C612.95 935.84 614.36 928.74 617.17 921.65C619.98 914.55 628.22 895.11 632.24 886.15C636.25 877.2 643.29 862.07 647.3 854.46C651.32 846.86 658.35 834.94 662.37 829.11C666.39 823.28 673.42 815.04 677.44 810.73C681.46 806.42 688.49 799.74 692.51 796.79C696.53 793.83 701.55 790.66 707.58 788.55C713.6 786.43 729.67 782.24 737.71 780.94C745.75 779.64 759.81 778.7 767.85 778.79C775.88 778.87 791.96 780.44 797.98 781.58C804.01 782.71 809.03 785.08 813.05 787.28C817.07 789.48 824.1 794.34 828.12 798.05C832.14 801.77 839.17 809.51 843.19 815.17C847.2 820.83 854.24 832.74 858.25 840.52C862.27 848.29 869.3 865.03 873.32 873.48C877.34 881.93 885.58 898.91 888.39 903.9C891.2 908.89 892.81 910.36 894.42 910.87C896.02 911.38 898.43 911.5 900.44 907.7C902.45 903.9 907.07 889.62 909.48 882.35C911.89 875.08 915.31 861.98 918.52 853.2C921.74 844.41 929.57 825.05 933.59 816.43C937.61 807.82 944.64 794.72 948.66 788.55C952.68 782.38 959.71 774.14 963.73 770.17C967.75 766.2 972.77 761.8 978.8 758.76C984.82 755.72 1000.89 749.55 1008.93 747.35C1016.97 745.15 1031.03 743.38 1039.07 742.28C1047.1 741.18 1057.15 739.87 1069.2 739.11C1081.26 738.35 1113.4 736.91 1129.47 736.58C1145.55 736.24 1173.67 735.82 1189.74 736.58C1205.82 737.34 1237.96 740.67 1250.02 742.28C1262.07 743.89 1272.11 746.34 1280.15 748.62C1288.19 750.9 1305.46 757.45 1310.29 759.39C1315.11 761.34 1308.28 762.18 1316.31 763.2C1324.35 764.21 1347.25 765.48 1370.56 767C1393.86 768.52 1475.03 773.59 1491.1 774.6" stroke="#0000ff" stroke-dasharray="21 11.5"/>
<path d="M135 809.46C137.01 809.97 146.05 812.51 150.07 813.27C154.09 814.03 159.11 815.08 165.14 815.17C171.16 815.25 187.23 814.49 195.27 813.9C203.31 813.31 217.37 812.17 225.41 810.73C233.44 809.29 247.51 805.49 255.54 803.12C263.58 800.76 277.64 795.69 285.68 792.98C293.71 790.28 307.78 785.38 315.81 782.84C323.85 780.31 337.91 776 345.95 773.97C353.99 771.94 368.05 768.93 376.08 767.63C384.12 766.33 400.19 764.72 406.22 764.21C412.25 763.7 417.27 763.8 421.29 763.83C425.31 763.86 430.33 764.09 436.36 764.46C442.38 764.84 458.45 765.94 466.49 766.62C474.53 767.29 488.59 769.18 496.63 769.53C504.66 769.89 518.73 769.7 526.76 769.28C534.8 768.86 548.86 767.11 556.9 766.36C564.93 765.62 581.01 764.13 587.03 763.7C593.06 763.28 598.08 763.16 602.1 763.2C606.12 763.23 611.14 763.28 617.17 763.96C623.2 764.63 639.27 766.76 647.3 768.27C655.34 769.77 669.4 773.43 677.44 775.24C685.48 777.05 699.54 780.36 707.58 781.83C715.61 783.3 729.67 785.32 737.71 786.27C745.75 787.21 761.82 788.62 767.85 788.93C773.87 789.23 778.9 788.82 782.91 788.55C786.93 788.28 791.96 788.32 797.98 786.9C804.01 785.48 820.08 780 828.12 777.9C836.15 775.8 850.22 772.43 858.25 771.18C866.29 769.93 882.36 768.84 888.39 768.52C894.42 768.2 899.44 768.33 903.46 768.77C907.47 769.21 912.5 769.69 918.52 771.82C924.55 773.94 940.62 780.23 948.66 784.74C956.7 789.26 970.76 800 978.8 805.66C986.83 811.32 1000.89 822.48 1008.93 827.21C1016.97 831.94 1031.03 838.28 1039.07 841.15C1047.1 844.03 1061.17 846.9 1069.2 848.76C1077.24 850.62 1091.3 853.66 1099.34 855.1C1107.37 856.53 1123.45 858.87 1129.47 859.53C1135.5 860.19 1140.52 860.21 1144.54 860.04C1148.56 859.87 1153.58 859.26 1159.61 858.27C1165.64 857.27 1181.71 854.17 1189.74 852.56C1197.78 850.96 1213.45 847.49 1219.88 846.22C1226.31 844.96 1229.93 843.81 1237.96 843.05C1246 842.29 1266.49 839.17 1280.15 840.52C1293.81 841.87 1324.35 846.77 1340.42 853.2C1356.49 859.62 1386.63 879.9 1400.69 888.69C1414.76 897.48 1436.66 917.93 1445.9 919.11C1455.14 920.29 1463.98 904.15 1470.01 897.56C1476.03 890.97 1488.29 873.39 1491.1 869.67" stroke="#0000ff" stroke-dasharray="21 11.5"/>
<path d="M135 753.31C139.02 753.19 157.1 752.62 165.14 752.42C173.17 752.22 187.23 751.42 195.27 751.79C203.31 752.16 217.37 753.86 225.41 755.21C233.44 756.56 247.51 759.61 255.54 761.93C263.58 764.24 277.64 769.03 285.68 772.58C293.71 776.13 307.78 782.53 315.81 788.55C323.85 794.56 337.91 807.39 345.95 817.7C353.99 828.01 370.06 855.39 376.08 865.87C382.11 876.35 387.13 889.03 391.15 896.29C395.17 903.56 403.41 916.49 406.22 920.38C409.03 924.27 410.24 925.28 412.25 925.45C414.26 925.62 418.07 924.69 421.29 921.65C424.5 918.6 432.34 908.04 436.36 902.63C440.37 897.22 447.41 886.15 451.42 881.08C455.44 876.01 462.47 868.15 466.49 864.6C470.51 861.05 477.54 856.58 481.56 854.46C485.58 852.35 492.61 849.6 496.63 848.76C500.64 847.91 507.68 847.7 511.69 848.12C515.71 848.55 522.74 850.24 526.76 851.93C530.78 853.62 537.81 857.67 541.83 860.8C545.85 863.93 552.88 870.98 556.9 875.38C560.92 879.77 567.95 888.43 571.97 893.76C575.98 899.08 583.82 911 587.03 915.31C590.25 919.62 594.47 924.22 596.07 926.08C597.68 927.94 597.88 929.25 599.09 929.25C600.29 929.25 602.7 928.96 605.11 926.08C607.53 923.21 613.55 914.04 617.17 907.7C620.79 901.36 628.22 886.07 632.24 878.55C636.25 871.03 643.29 858.14 647.3 851.29C651.32 844.45 658.35 832.7 662.37 827.21C666.39 821.72 673.42 814.24 677.44 810.1C681.46 805.96 688.49 799.03 692.51 796.15C696.53 793.28 703.56 790.17 707.58 788.55C711.59 786.93 718.63 785 722.64 783.98C726.66 782.97 733.69 781.48 737.71 780.94C741.73 780.4 748.76 780.16 752.78 779.93C756.8 779.69 763.83 779.2 767.85 779.17C771.86 779.13 778.9 779.32 782.91 779.67C786.93 780.03 793.96 780.82 797.98 781.83C802 782.84 809.03 785.13 813.05 787.28C817.07 789.43 824.1 794.21 828.12 797.93C832.14 801.65 839.17 809.49 843.19 815.17C847.2 820.85 854.24 832.91 858.25 840.52C862.27 848.12 869.3 863.59 873.32 872.21C877.34 880.83 885.58 899.93 888.39 905.17C891.2 910.41 893.21 910.58 894.42 911.5C895.62 912.43 896.63 912.14 897.43 912.14C898.23 912.14 899.24 913.62 900.44 911.5C901.65 909.39 904.06 903.22 906.47 896.29C908.88 889.36 914.91 869.5 918.52 859.53C922.14 849.56 929.57 830.46 933.59 821.51C937.61 812.55 944.64 798.87 948.66 792.35C952.68 785.83 959.71 776.8 963.73 772.58C967.75 768.35 974.78 763.26 978.8 760.66C982.81 758.06 989.85 754.68 993.86 753.05C997.88 751.43 1002.9 749.81 1008.93 748.49C1014.96 747.17 1031.03 744.35 1039.07 743.17C1047.1 741.98 1061.17 740.41 1069.2 739.62C1077.24 738.82 1091.3 737.56 1099.34 737.21C1107.37 736.85 1121.44 736.99 1129.47 736.96C1137.51 736.92 1151.57 736.96 1159.61 736.96C1167.65 736.96 1181.71 736.67 1189.74 736.96C1197.78 737.24 1211.84 738.28 1219.88 739.11C1227.92 739.94 1243.59 742.02 1250.02 743.17C1256.44 744.32 1264.08 746.75 1268.1 747.73C1272.11 748.71 1276.53 749.56 1280.15 750.52C1283.77 751.48 1291.2 753.6 1295.22 754.96C1299.24 756.31 1307.72 759.56 1310.29 760.66C1312.86 761.76 1306.47 762.35 1314.51 763.2C1322.54 764.04 1355.05 766.32 1370.56 767C1386.07 767.67 1414.76 767.25 1430.83 768.27C1446.9 769.28 1483.06 773.76 1491.1 774.6" stroke="#0000ff"/>
<path d="M135 808.83C139.02 809 157.1 809.67 165.14 810.1C173.17 810.52 189.24 811.74 195.27 812C201.3 812.25 206.32 812.25 210.34 812C214.36 811.74 219.38 811.45 225.41 810.1C231.43 808.74 247.51 804.39 255.54 801.86C263.58 799.32 277.64 793.87 285.68 791.08C293.71 788.29 307.78 783.41 315.81 780.94C323.85 778.47 337.91 774.43 345.95 772.58C353.99 770.72 368.05 768.15 376.08 767C384.12 765.85 400.19 764.4 406.22 763.96C412.25 763.52 417.27 763.67 421.29 763.7C425.31 763.74 430.33 763.85 436.36 764.21C442.38 764.56 458.45 765.69 466.49 766.36C474.53 767.04 488.59 768.89 496.63 769.28C504.66 769.67 518.73 769.67 526.76 769.28C534.8 768.89 548.86 767.11 556.9 766.36C564.93 765.62 581.01 764.13 587.03 763.7C593.06 763.28 598.08 763.16 602.1 763.2C606.12 763.23 611.14 763.28 617.17 763.96C623.2 764.63 639.27 766.76 647.3 768.27C655.34 769.77 669.4 773.43 677.44 775.24C685.48 777.05 699.54 780.39 707.58 781.83C715.61 783.27 731.68 785.22 737.71 786.01C743.74 786.81 748.76 787.45 752.78 787.79C756.8 788.13 763.83 788.51 767.85 788.55C771.86 788.58 778.9 788.29 782.91 788.04C786.93 787.79 793.96 787.34 797.98 786.65C802 785.95 809.03 784.01 813.05 782.84C817.07 781.68 822.09 779.45 828.12 777.9C834.14 776.34 852.23 772.33 858.25 771.18C864.28 770.03 869.3 769.64 873.32 769.28C877.34 768.93 884.37 768.62 888.39 768.52C892.41 768.42 899.44 768.16 903.46 768.52C907.47 768.87 914.51 770.2 918.52 771.18C922.54 772.16 929.57 774.27 933.59 775.87C937.61 777.48 944.64 781.03 948.66 783.22C952.68 785.42 959.71 789.68 963.73 792.35C967.75 795.02 974.78 800.38 978.8 803.25C982.81 806.12 989.85 811.04 993.86 813.9C997.88 816.76 1004.91 822.14 1008.93 824.67C1012.95 827.21 1019.98 831.07 1024 832.91C1028.02 834.76 1033.04 836.75 1039.07 838.49C1045.09 840.23 1061.17 844.08 1069.2 845.97C1077.24 847.86 1091.3 851.15 1099.34 852.69C1107.37 854.23 1123.45 856.8 1129.47 857.51C1135.5 858.21 1140.52 858.2 1144.54 858.01C1148.56 857.83 1153.58 857.18 1159.61 856.11C1165.64 855.05 1181.71 851.77 1189.74 850.03C1197.78 848.29 1213.45 844.49 1219.88 843.05C1226.31 841.62 1229.93 840.1 1237.96 839.25C1246 838.41 1266.49 835.2 1280.15 836.72C1293.81 838.24 1324.35 843.73 1340.42 850.66C1356.49 857.59 1386.63 879.39 1400.69 888.69C1414.76 897.98 1436.66 919.36 1445.9 920.38C1455.14 921.39 1463.98 903.22 1470.01 896.29C1476.03 889.36 1488.29 872.12 1491.1 868.41" stroke="#0000ff"/>
</g></svg>
<path d="M135 723.9H1491.1V1040.8H135ZM285.68 1040.8v-14.5M285.68 723.9v14.5M436.36 1040.8v-14.5M436.36 723.9v14.5M587.03 1040.8v-14.5M587.03 723.9v14.5M737.71 1040.8v-14.5M737.71 723.9v14.5M888.39 1040.8v-14.5M888.39 723.9v14.5M1039.07 1040.8v-14.5M1039.07 723.9v14.5M1189.74 1040.8v-14.5M1189.74 723.9v14.5M1340.42 1040.8v-14.5M1340.42 723.9v14.5M135 850.66h14.5M1491.1 850.66h-14.5M135 977.42h14.5M1491.1 977.42h-14.5" stroke="#1a1a1a" stroke-width="1.9" fill="none"/>
<text x="120.4" y="737.6" font-size="37" text-anchor="end"  >0</text>
<text x="120.4" y="864.36" font-size="37" text-anchor="end"  >-10</text>
<text x="120.4" y="991.12" font-size="37" text-anchor="end"  >-20</text>
<text x="134.2" y="1090.7" font-size="37" text-anchor="middle"  >0.5</text>
<text x="284.88" y="1090.7" font-size="37" text-anchor="middle"  >1</text>
<text x="435.56" y="1090.7" font-size="37" text-anchor="middle"  >1.5</text>
<text x="586.23" y="1090.7" font-size="37" text-anchor="middle"  >2</text>
<text x="736.91" y="1090.7" font-size="37" text-anchor="middle"  >2.5</text>
<text x="887.59" y="1090.7" font-size="37" text-anchor="middle"  >3</text>
<text x="1038.27" y="1090.7" font-size="37" text-anchor="middle"  >3.5</text>
<text x="1188.94" y="1090.7" font-size="37" text-anchor="middle"  >4</text>
<text x="1339.62" y="1090.7" font-size="37" text-anchor="middle"  >4.5</text>
<text x="1490.3" y="1090.7" font-size="37" text-anchor="middle"  >5</text>
<text x="812.2" y="1139.9" font-size="42" text-anchor="middle"  >Frequency [GHz]</text>
<text transform="translate(35.0,879.85) rotate(-90) scale(1.065,1)" font-size="41.3" text-anchor="middle">|<tspan font-style="italic">S</tspan><tspan font-size="32.5" dy="20.5">11</tspan><tspan dy="-20.5">|, |</tspan><tspan font-style="italic">S</tspan><tspan font-size="32.5" dy="20.5">21</tspan><tspan dy="-20.5">| [dB]</tspan></text>
<rect x="1237.6" y="762.9" width="231.2" height="259.2" fill="#fff" stroke="#1f1f1f" stroke-width="1.8"/>
<path d="M1245.2 787.7H1322.3" stroke="#000" stroke-width="1.8" fill="none" stroke-dasharray="2.9 5.33"/>
<text x="1333" y="799.6" font-size="34.6" text-anchor="start"  >LPW=8</text>
<path d="M1245.2 829.75H1328" stroke="#000" stroke-width="1.8" fill="none" stroke-dasharray="21 11.8"/>
<text x="1333" y="841.65" font-size="34.6" text-anchor="start"  >LPW=9</text>
<path d="M1245.2 871.8H1328" stroke="#000" stroke-width="1.8" fill="none"/>
<text x="1333" y="883.7" font-size="34.6" text-anchor="start"  >LPW=10</text>
<path d="M1245.2 913.85H1322.3" stroke="#0000ff" stroke-width="1.8" fill="none" stroke-dasharray="2.9 5.33"/>
<text x="1333" y="925.75" font-size="34.6" text-anchor="start"  >LPW=12</text>
<path d="M1245.2 955.9H1328" stroke="#0000ff" stroke-width="1.8" fill="none" stroke-dasharray="21 11.8"/>
<text x="1333" y="967.8" font-size="34.6" text-anchor="start"  >LPW=20</text>
<path d="M1245.2 997.95H1328" stroke="#0000ff" stroke-width="1.8" fill="none"/>
<text x="1333" y="1009.85" font-size="34.6" text-anchor="start"  >LPW=27</text>
</g>
<g id="bot">
<path d="M285.68 1198V1516.8M436.36 1198V1516.8M587.03 1198V1516.8M737.71 1198V1516.8M888.39 1198V1516.8M1039.07 1198V1516.8M1189.74 1198V1516.8M1340.42 1198V1516.8" stroke="#262626" stroke-opacity="0.16" stroke-width="1.8" fill="none"/>
<path d="M135 1325.52H1491.1M135 1453.04H1491.1" stroke="#262626" stroke-opacity="0.16" stroke-width="1.8" fill="none"/>
<svg x="135" y="1198" width="1356.1" height="318.8" viewBox="135 1198 1356.1 318.8" overflow="hidden"><g fill="none" stroke-width="1.8" stroke-linejoin="round">
<path d="M135 1296.83C137.01 1293.61 147.13 1277.06 150.07 1272.73C153 1268.39 154.31 1269.29 157 1264.31C159.69 1259.33 165.96 1240.46 170.26 1235.36C174.56 1230.26 183.9 1226.96 189.24 1226.05C194.59 1225.15 203.99 1226.65 210.34 1228.6C216.69 1230.56 229.75 1236.64 236.86 1240.72C243.97 1244.8 257.17 1254.58 263.68 1259.21C270.19 1263.83 280.33 1270.39 285.68 1275.4C291.02 1280.42 299.58 1291.51 303.76 1296.83C307.94 1302.15 313.12 1311.41 317.02 1315.32C320.92 1319.23 329.54 1322.93 332.99 1326.16C336.45 1329.39 339.76 1335.98 342.94 1339.55C346.11 1343.12 353.18 1348.69 356.8 1352.94C360.41 1357.19 366.48 1366.41 370.06 1371.43C373.63 1376.44 380.81 1387.15 383.62 1390.56C386.43 1393.96 389.34 1396.25 391.15 1396.93C392.96 1397.61 394.65 1396.51 397.18 1395.66C399.71 1394.81 406.62 1393.11 410.14 1390.56C413.65 1388 420.05 1383.33 423.55 1376.53C427.04 1369.73 432.8 1349.46 436.36 1339.55C439.91 1329.63 446.6 1311.79 450.22 1302.18C453.83 1292.58 459.9 1274.59 463.48 1267.5C467.05 1260.41 473.46 1252.05 477.04 1249.01C480.61 1245.96 486.76 1244.67 490.3 1244.67C493.83 1244.67 500.46 1245.96 503.56 1249.01C506.65 1252.05 510.41 1261.48 513.5 1267.5C516.6 1273.52 522.99 1285.97 526.76 1294.15C530.54 1302.33 537.81 1319.55 541.83 1328.84C545.85 1338.12 552.88 1353.85 556.9 1363.78C560.92 1373.71 568.51 1392.26 571.97 1403.31C575.42 1414.36 580.32 1437.65 582.81 1446.66C585.31 1455.68 588.68 1467.32 590.65 1470.89C592.62 1474.46 595.45 1478.2 597.58 1473.44C599.71 1468.68 603.61 1445.22 606.62 1435.19C609.63 1425.16 616.61 1408.07 620.18 1398.21C623.76 1388.34 629.83 1369.05 633.44 1361.23C637.06 1353.4 643.45 1344.58 647.3 1339.55C651.16 1334.51 658.35 1327.39 662.37 1323.48C666.39 1319.57 673.42 1314.13 677.44 1310.22C681.46 1306.31 689.13 1297.38 692.51 1294.15C695.88 1290.92 699.94 1287.08 702.75 1285.99C705.57 1284.9 710.39 1284.9 713.6 1285.99C716.82 1287.08 723.65 1289.15 726.86 1294.15C730.08 1299.15 735.22 1315.28 737.71 1323.48C740.2 1331.67 743.46 1346.67 745.55 1355.61C747.64 1364.56 751.25 1381.65 753.38 1390.56C755.51 1399.46 759.39 1414.95 761.52 1422.44C763.65 1429.92 767.22 1443.09 769.35 1446.66C771.48 1450.23 774.64 1449.21 777.49 1449.21C780.34 1449.21 787.62 1445.64 790.75 1446.66C793.88 1447.68 798.5 1451.93 801 1456.87C803.49 1461.8 807.06 1475.65 809.43 1483.64C811.8 1491.64 816.69 1498.78 818.78 1516.8C820.87 1534.82 822.05 1605.21 825.1 1618.82C828.16 1632.42 838.79 1632.42 841.68 1618.82C844.57 1605.21 845.76 1534.82 846.8 1516.8C847.85 1498.78 848.47 1495.21 849.51 1483.64C850.56 1472.08 853.23 1442.5 854.64 1430.09C856.04 1417.67 858.25 1399.79 860.06 1390.56C861.87 1381.32 865.71 1367.3 868.2 1360.84C870.69 1354.38 876.05 1346.01 878.75 1342.1C881.44 1338.19 884.29 1333.81 888.39 1331.51C892.49 1329.22 903.05 1326.7 909.48 1324.88C915.91 1323.06 931.38 1320.16 936.61 1317.87C941.83 1315.57 945.04 1311.58 948.66 1307.67C952.28 1303.76 960.11 1293.2 963.73 1288.54C967.34 1283.88 972.29 1276.64 975.78 1272.73C979.28 1268.82 986.33 1261.69 989.95 1259.21C993.56 1256.73 999.69 1254.79 1002.9 1254.11C1006.12 1253.43 1011.24 1253.09 1014.05 1254.11C1016.87 1255.13 1020.66 1258.56 1024 1261.76C1027.33 1264.96 1035.45 1272.69 1039.07 1278.08C1042.68 1283.47 1048.07 1296.13 1051.12 1302.18C1054.17 1308.24 1059.16 1318.5 1061.97 1323.48C1064.78 1328.46 1068.64 1335.62 1072.22 1339.55C1075.79 1343.47 1084.45 1349.71 1088.79 1352.94C1093.13 1356.17 1100.54 1360.97 1104.76 1363.78C1108.98 1366.58 1116.17 1371.51 1120.43 1373.98C1124.69 1376.44 1132.41 1380.45 1136.71 1382.27C1141.01 1384.09 1148.42 1386.18 1152.68 1387.62C1156.94 1389.07 1163.71 1391.69 1168.65 1393.11C1173.59 1394.52 1185.12 1397.87 1189.74 1398.21C1194.37 1398.55 1199.01 1396.85 1203.31 1395.66C1207.6 1394.47 1217.37 1391.07 1221.99 1389.28C1226.61 1387.49 1226.19 1385.67 1237.96 1382.27C1249.73 1378.87 1300.64 1366.24 1310.29 1363.78" stroke="#000" stroke-dasharray="2.8 5.4"/>
<path d="M135 1291.47C137.01 1289.33 146.05 1278.07 150.07 1275.4C154.09 1272.74 161.12 1271.09 165.14 1271.45C169.15 1271.81 176.19 1274.7 180.2 1278.08C184.22 1281.47 191.25 1291.86 195.27 1296.83C199.29 1301.79 206.32 1311.05 210.34 1315.32C214.36 1319.59 221.39 1325.61 225.41 1328.84C229.42 1332.07 236.46 1337.78 240.47 1339.55C244.49 1341.32 251.52 1342.1 255.54 1342.1C259.56 1342.1 266.59 1339.21 270.61 1339.55C274.63 1339.89 281.66 1342.51 285.68 1344.65C289.7 1346.79 296.73 1353.06 300.75 1355.61C304.76 1358.17 311.8 1360.99 315.81 1363.78C319.83 1366.56 326.86 1371.26 330.88 1376.53C334.9 1381.8 342.49 1394.35 345.95 1403.31C349.4 1412.27 354.27 1433.02 356.8 1443.73C359.33 1454.44 362.76 1473.9 364.93 1483.64C367.1 1493.39 371.38 1498.78 373.07 1516.8C374.76 1534.82 375.18 1605.21 377.59 1618.82C380 1632.42 388.94 1632.42 391.15 1618.82C393.36 1605.21 393.4 1534.82 394.17 1516.8C394.93 1498.78 395.79 1492.32 396.88 1483.64C397.96 1474.97 400.53 1458.16 402.3 1451.76C404.07 1445.37 407.3 1442.84 410.14 1435.7C412.97 1428.56 420.05 1407.8 423.55 1398.21C427.04 1388.62 432.8 1371.6 436.36 1363.78C439.91 1355.95 446.6 1344.92 450.22 1339.55C453.83 1334.17 459.9 1326.37 463.48 1323.48C467.05 1320.59 473.46 1317.15 477.04 1317.87C480.61 1318.58 486.76 1323.11 490.3 1328.84C493.83 1334.57 500.46 1352.61 503.56 1360.84C506.65 1369.07 510.41 1379.5 513.5 1390.56C516.6 1401.61 523.59 1431.32 526.76 1443.73C529.94 1456.14 534.66 1473.9 537.31 1483.64C539.96 1493.39 544.64 1498.78 546.65 1516.8C548.66 1534.82 547.4 1605.21 552.38 1618.82C557.36 1632.42 579.26 1632.42 584.02 1618.82C588.78 1605.21 587 1534.82 588.09 1516.8C589.17 1498.78 590.37 1492.32 592.16 1483.64C593.94 1474.97 598.85 1458.91 601.5 1451.76C604.15 1444.62 609.55 1436.55 612.05 1430.09C614.54 1423.63 617.33 1411.81 620.18 1403.31C623.04 1394.81 629.83 1374.49 633.44 1366.33C637.06 1358.17 643.45 1347.45 647.3 1342.1C651.16 1336.74 658.35 1330.75 662.37 1326.16C666.39 1321.57 673.42 1313.02 677.44 1307.67C681.46 1302.31 688.49 1291.7 692.51 1285.99C696.53 1280.28 704.08 1269.62 707.58 1264.82C711.07 1260.03 715.81 1252.71 718.73 1250.03C721.64 1247.34 726.92 1245.2 729.45 1244.67C731.99 1244.15 734.88 1244.14 737.71 1246.08C740.54 1248.01 746.81 1254.57 750.67 1259.21C754.53 1263.85 762.34 1273.75 766.64 1280.89C770.94 1288.03 778.74 1304.27 782.91 1312.77C787.09 1321.27 793.96 1336.15 797.98 1344.65C802 1353.15 809.43 1369.39 813.05 1376.53C816.67 1383.67 822.37 1394.81 825.1 1398.21C827.84 1401.61 831.01 1402.37 833.54 1402.03C836.07 1401.69 840.79 1399.74 844.09 1395.66C847.38 1391.58 854.36 1378.23 858.25 1371.43C862.15 1364.63 870.71 1350.33 873.32 1344.65C875.93 1338.97 875.83 1333.77 877.84 1328.84C879.85 1323.9 885.17 1314.06 888.39 1307.67C891.6 1301.27 898.01 1286.96 901.95 1280.89C905.89 1274.82 913.3 1266.78 917.92 1262.14C922.54 1257.5 931.3 1249.82 936.61 1246.08C941.91 1242.33 952.36 1236.3 957.7 1234.09C963.04 1231.88 972.75 1229.89 976.69 1229.5C980.62 1229.11 984.38 1229.66 987.23 1231.16C990.09 1232.65 995.59 1237.32 998.08 1240.72C1000.57 1244.12 1003.79 1251.68 1005.92 1256.66C1008.05 1261.64 1011.92 1272.73 1014.05 1278.08C1016.18 1283.44 1019.76 1292.88 1021.89 1296.83C1024.02 1300.77 1028.23 1306.05 1030.03 1307.67C1031.82 1309.28 1033.56 1310.39 1035.33 1308.94C1037.1 1307.5 1041.18 1302.01 1043.29 1296.83C1045.39 1291.64 1048.63 1276.65 1051.12 1270.05C1053.61 1263.45 1059.16 1251.43 1061.97 1247.35C1064.78 1243.27 1069.36 1241.6 1072.22 1239.44C1075.07 1237.28 1079.75 1233.48 1083.37 1231.16C1086.98 1228.83 1095.08 1224.08 1099.34 1221.97C1103.6 1219.87 1111.05 1216.75 1115.31 1215.34C1119.57 1213.93 1126.98 1212.21 1131.28 1211.39C1135.58 1210.57 1143.38 1209.51 1147.55 1209.22C1151.73 1208.93 1158.38 1208.93 1162.62 1209.22C1166.86 1209.51 1174.98 1210.39 1179.35 1211.39C1183.71 1212.39 1191.15 1215.13 1195.35 1216.75C1199.55 1218.36 1206.56 1221.75 1210.84 1223.5C1215.11 1225.26 1223.9 1228.47 1227.41 1229.88C1230.93 1231.29 1230.18 1230.69 1237.21 1234.09C1244.24 1237.49 1262.37 1248.29 1280.15 1255.38C1297.93 1262.47 1358.5 1283.01 1370.56 1287.26" stroke="#000" stroke-dasharray="2.8 5.4"/>
<path d="M135 1279.61C135.5 1279.61 137.76 1279.75 138.77 1279.61C139.77 1279.48 141.53 1279.3 142.53 1278.62C143.54 1277.93 145.3 1275.58 146.3 1274.47C147.31 1273.37 149.06 1271.43 150.07 1270.33C151.07 1269.22 152.83 1267.36 153.83 1266.18C154.84 1265.01 156.6 1262.98 157.6 1261.5C158.61 1260.03 160.36 1256.83 161.37 1255.13C162.37 1253.43 164.13 1250.45 165.14 1248.75C166.14 1247.05 167.9 1244.01 168.9 1242.38C169.91 1240.75 171.66 1237.87 172.67 1236.54C173.67 1235.21 175.43 1233.5 176.44 1232.39C177.44 1231.29 179.2 1229.35 180.2 1228.25C181.21 1227.14 182.97 1225.12 183.97 1224.1C184.97 1223.09 186.73 1221.28 187.74 1220.66C188.74 1220.04 190.5 1219.76 191.5 1219.44C192.51 1219.11 194.27 1218.35 195.27 1218.22C196.28 1218.08 198.03 1218.32 199.04 1218.42C200.04 1218.53 201.8 1218.8 202.81 1218.99C203.81 1219.18 205.57 1219.62 206.57 1219.85C207.58 1220.08 209.33 1220.48 210.34 1220.71C211.34 1220.94 213.1 1221.34 214.11 1221.57C215.11 1221.81 216.87 1222.21 217.87 1222.46C218.88 1222.7 220.64 1223.16 221.64 1223.41C222.64 1223.67 224.4 1224.12 225.41 1224.37C226.41 1224.63 228.17 1225.05 229.17 1225.33C230.18 1225.6 231.94 1226.08 232.94 1226.44C233.95 1226.8 235.7 1227.61 236.71 1228.03C237.71 1228.46 239.47 1229.2 240.47 1229.62C241.48 1230.05 243.24 1230.75 244.24 1231.22C245.25 1231.69 247 1232.5 248.01 1233.16C249.01 1233.83 250.77 1235.41 251.78 1236.23C252.78 1237.04 254.54 1238.47 255.54 1239.29C256.55 1240.1 258.3 1241.55 259.31 1242.35C260.31 1243.14 262.07 1244.54 263.08 1245.24C264.08 1245.94 265.84 1246.97 266.84 1247.6C267.85 1248.23 269.61 1249.33 270.61 1249.96C271.61 1250.59 273.37 1251.68 274.38 1252.32C275.38 1252.95 277.14 1254.06 278.14 1254.72C279.15 1255.38 280.91 1256.59 281.91 1257.27C282.92 1257.95 284.67 1259.14 285.68 1259.82C286.68 1260.5 288.44 1261.64 289.44 1262.37C290.45 1263.1 292.21 1264.36 293.21 1265.31C294.22 1266.25 295.97 1268.34 296.98 1269.45C297.98 1270.55 299.74 1272.49 300.75 1273.59C301.75 1274.7 303.51 1276.62 304.51 1277.74C305.52 1278.86 307.27 1280.82 308.28 1282.01C309.28 1283.19 311.04 1285.42 312.05 1286.66C313.05 1287.9 314.81 1290.07 315.81 1291.31C316.82 1292.56 318.58 1294.75 319.58 1295.97C320.58 1297.19 322.34 1299.33 323.35 1300.45C324.35 1301.58 326.11 1303.35 327.11 1304.41C328.12 1305.46 329.88 1307.31 330.88 1308.36C331.89 1309.42 333.64 1311.19 334.65 1312.31C335.65 1313.44 337.41 1315.37 338.41 1316.77C339.42 1318.17 341.18 1321.21 342.18 1322.83C343.19 1324.44 344.94 1327.27 345.95 1328.89C346.95 1330.5 348.71 1333.47 349.72 1334.94C350.72 1336.42 352.48 1339.05 353.48 1339.93C354.49 1340.81 356.25 1341.05 357.25 1341.52C358.25 1341.99 360.01 1342.92 361.02 1343.46C362.02 1344 363.78 1344.91 364.78 1345.58C365.79 1346.26 367.55 1347.39 368.55 1348.5C369.56 1349.61 371.31 1352.47 372.32 1353.92C373.32 1355.36 375.08 1357.89 376.08 1359.34C377.09 1360.78 378.85 1363.23 379.85 1364.76C380.86 1366.28 382.61 1368.98 383.62 1370.79C384.62 1372.6 386.38 1376.49 387.39 1378.36C388.39 1380.24 390.15 1383.13 391.15 1384.84C392.16 1386.55 393.91 1389.63 394.92 1391.2C395.92 1392.76 397.68 1395.51 398.69 1396.6C399.69 1397.68 401.45 1398.58 402.45 1399.3C403.46 1400.02 405.22 1401.28 406.22 1401.99C407.22 1402.7 408.98 1403.9 409.99 1404.65C410.99 1405.4 412.75 1406.69 413.75 1407.61C414.76 1408.53 416.52 1410.51 417.52 1411.55C418.53 1412.6 420.28 1414.67 421.29 1415.44C422.29 1416.21 424.05 1417.17 425.05 1417.33C426.06 1417.49 427.82 1417.55 428.82 1416.66C429.83 1415.78 431.58 1412.49 432.59 1410.69C433.59 1408.89 435.35 1405.34 436.36 1403.19C437.36 1401.05 439.12 1396.84 440.12 1394.6C441.13 1392.36 442.88 1388.33 443.89 1386.38C444.89 1384.42 446.65 1381.75 447.66 1379.93C448.66 1378.11 450.42 1374.73 451.42 1372.7C452.43 1370.68 454.19 1366.86 455.19 1364.73C456.19 1362.6 457.95 1358.88 458.96 1356.72C459.96 1354.57 461.72 1350.76 462.72 1348.59C463.73 1346.43 465.49 1342.63 466.49 1340.47C467.5 1338.3 469.25 1334.54 470.26 1332.34C471.26 1330.13 473.02 1326.28 474.02 1323.9C475.03 1321.52 476.79 1317 477.79 1314.5C478.8 1311.99 480.55 1307.6 481.56 1305.09C482.56 1302.58 484.32 1298.13 485.33 1295.69C486.33 1293.25 488.09 1288.94 489.09 1286.78C490.1 1284.61 491.86 1281.4 492.86 1279.45C493.86 1277.49 495.62 1274.07 496.63 1272.11C497.63 1270.16 499.39 1266.62 500.39 1264.78C501.4 1262.94 503.16 1259.67 504.16 1258.32C505.17 1256.96 506.92 1255.59 507.93 1254.6C508.93 1253.61 510.69 1251.63 511.69 1250.88C512.7 1250.12 514.46 1249.34 515.46 1248.94C516.47 1248.55 518.22 1247.95 519.23 1247.92C520.23 1247.89 521.99 1248.21 523 1248.72C524 1249.23 525.76 1250.76 526.76 1251.73C527.77 1252.7 529.52 1254.75 530.53 1255.98C531.53 1257.21 533.29 1259.33 534.3 1260.97C535.3 1262.61 537.06 1266.35 538.06 1268.3C539.07 1270.26 540.83 1273.68 541.83 1275.63C542.83 1277.59 544.59 1280.99 545.6 1282.97C546.6 1284.94 548.36 1288.39 549.36 1290.45C550.37 1292.51 552.13 1296.3 553.13 1298.42C554.14 1300.55 555.89 1304.27 556.9 1306.39C557.9 1308.52 559.66 1312.26 560.66 1314.36C561.67 1316.47 563.43 1320.16 564.43 1322.18C565.44 1324.2 567.19 1327.56 568.2 1329.51C569.2 1331.47 570.96 1334.89 571.97 1336.84C572.97 1338.8 574.73 1342.11 575.73 1344.18C576.74 1346.24 578.49 1349.82 579.5 1352.35C580.5 1354.89 582.26 1360.3 583.27 1363.19C584.27 1366.08 586.03 1371.34 587.03 1374.03C588.04 1376.72 589.8 1380.83 590.8 1383.34C591.8 1385.85 593.56 1390 594.57 1392.85C595.57 1395.7 597.33 1401.61 598.33 1404.72C599.34 1407.82 601.1 1412.89 602.1 1416.14C603.11 1419.39 604.86 1425.67 605.87 1429.08C606.87 1432.49 608.63 1438.63 609.63 1441.7C610.64 1444.77 612.4 1449.7 613.4 1452.1C614.41 1454.5 616.16 1458.5 617.17 1459.67C618.17 1460.84 619.93 1461.55 620.94 1460.88C621.94 1460.22 623.7 1456.8 624.7 1454.68C625.71 1452.56 627.47 1447.56 628.47 1444.99C629.47 1442.41 631.23 1437.92 632.24 1435.36C633.24 1432.8 635 1428.3 636 1425.77C637.01 1423.24 638.77 1418.54 639.77 1416.37C640.78 1414.21 642.53 1411.36 643.54 1409.52C644.54 1407.68 646.3 1404.46 647.3 1402.57C648.31 1400.68 650.07 1397.22 651.07 1395.32C652.08 1393.42 653.83 1390.05 654.84 1388.32C655.84 1386.58 657.6 1383.94 658.61 1382.31C659.61 1380.69 661.37 1377.95 662.37 1376.13C663.38 1374.31 665.13 1370.52 666.14 1368.66C667.14 1366.8 668.9 1363.66 669.91 1362.18C670.91 1360.71 672.67 1358.81 673.67 1357.58C674.68 1356.36 676.44 1354.08 677.44 1352.98C678.44 1351.88 680.2 1350.22 681.21 1349.32C682.21 1348.42 683.97 1346.96 684.97 1346.24C685.98 1345.53 687.74 1344.58 688.74 1343.97C689.75 1343.36 691.5 1342.3 692.51 1341.7C693.51 1341.09 695.27 1340.08 696.27 1339.42C697.28 1338.76 699.04 1337.52 700.04 1336.75C701.05 1335.98 702.8 1334.49 703.81 1333.66C704.81 1332.84 706.57 1331.4 707.58 1330.58C708.58 1329.76 710.34 1328.24 711.34 1327.49C712.35 1326.74 714.1 1325.58 715.11 1324.96C716.11 1324.34 717.87 1323.41 718.88 1322.85C719.88 1322.29 721.64 1321.3 722.64 1320.74C723.65 1320.18 725.41 1319.12 726.41 1318.63C727.41 1318.13 729.17 1317.42 730.18 1317.04C731.18 1316.65 732.94 1316.08 733.94 1315.74C734.95 1315.39 736.71 1314.78 737.71 1314.44C738.72 1314.09 740.47 1313.67 741.48 1313.14C742.48 1312.61 744.24 1311.31 745.24 1310.45C746.25 1309.58 748.01 1308.1 749.01 1306.66C750.02 1305.21 751.77 1301.5 752.78 1299.62C753.78 1297.74 755.54 1294.66 756.55 1292.58C757.55 1290.51 759.31 1286.38 760.31 1284.05C761.32 1281.73 763.08 1277.34 764.08 1275.12C765.08 1272.9 766.84 1269.26 767.85 1267.42C768.85 1265.58 770.61 1262.59 771.61 1261.33C772.62 1260.07 774.38 1258.81 775.38 1257.97C776.39 1257.13 778.14 1255.7 779.15 1255.04C780.15 1254.39 781.91 1253.47 782.91 1253.07C783.92 1252.66 785.68 1252.02 786.68 1252.01C787.69 1252 789.44 1252.72 790.45 1253C791.45 1253.29 793.21 1253.64 794.22 1254.14C795.22 1254.64 796.98 1255.93 797.98 1256.78C798.99 1257.63 800.74 1259.26 801.75 1260.54C802.75 1261.81 804.51 1264.82 805.52 1266.38C806.52 1267.94 808.28 1270.67 809.28 1272.23C810.29 1273.79 812.05 1276.5 813.05 1278.07C814.05 1279.65 815.81 1282.26 816.82 1284.05C817.82 1285.85 819.58 1289.53 820.58 1291.52C821.59 1293.51 823.35 1297 824.35 1298.99C825.36 1300.98 827.11 1304.44 828.12 1306.46C829.12 1308.48 830.88 1311.94 831.88 1314.13C832.89 1316.33 834.65 1320.57 835.65 1322.9C836.66 1325.24 838.41 1329.33 839.42 1331.67C840.42 1334.01 842.18 1338.06 843.19 1340.44C844.19 1342.83 845.95 1346.97 846.95 1349.56C847.96 1352.15 849.71 1357.1 850.72 1359.84C851.72 1362.59 853.48 1367.64 854.49 1370.13C855.49 1372.62 857.25 1376.49 858.25 1378.52C859.26 1380.54 861.02 1383.57 862.02 1385.31C863.02 1387.04 864.78 1389.87 865.79 1391.51C866.79 1393.15 868.55 1395.88 869.55 1397.6C870.56 1399.32 872.32 1402.36 873.32 1404.38C874.33 1406.41 876.08 1409.87 877.09 1412.77C878.09 1415.67 879.85 1421.2 880.86 1426.12C881.86 1431.04 883.62 1442.64 884.62 1449.67C885.63 1456.69 887.38 1466.06 888.39 1478.81C889.39 1491.56 891.15 1529.42 892.16 1545.28C893.16 1561.14 894.92 1590.78 895.92 1597.78C896.93 1604.77 898.69 1597.78 899.69 1597.78C900.69 1597.78 902.45 1606.82 903.46 1597.78C904.46 1588.73 906.22 1545.89 907.22 1529.93C908.23 1513.98 909.99 1489.72 910.99 1478.08C912 1466.45 913.75 1451.45 914.76 1442.65C915.76 1433.85 917.52 1418.83 918.52 1412.05C919.53 1405.28 921.29 1396.44 922.29 1391.84C923.3 1387.25 925.05 1381.8 926.06 1377.6C927.06 1373.39 928.82 1364.39 929.83 1360.31C930.83 1356.23 932.59 1350.53 933.59 1346.97C934.6 1343.42 936.35 1336.77 937.36 1333.64C938.36 1330.51 940.12 1325.97 941.13 1323.51C942.13 1321.04 943.89 1317.4 944.89 1315.18C945.9 1312.96 947.66 1308.93 948.66 1306.85C949.66 1304.76 951.42 1301.31 952.43 1299.53C953.43 1297.75 955.19 1295.11 956.19 1293.51C957.2 1291.9 958.96 1289.09 959.96 1287.48C960.97 1285.88 962.72 1282.97 963.73 1281.46C964.73 1279.95 966.49 1277.44 967.49 1276.15C968.5 1274.85 970.26 1272.92 971.26 1271.75C972.27 1270.57 974.02 1268.52 975.03 1267.35C976.03 1266.17 977.79 1264.06 978.8 1262.95C979.8 1261.84 981.56 1260 982.56 1259.04C983.57 1258.08 985.32 1256.63 986.33 1255.76C987.33 1254.88 989.09 1253.35 990.1 1252.47C991.1 1251.6 992.86 1250.03 993.86 1249.19C994.87 1248.35 996.63 1246.94 997.63 1246.19C998.63 1245.43 1000.39 1244.25 1001.4 1243.54C1002.4 1242.83 1004.16 1241.6 1005.16 1240.89C1006.17 1240.19 1007.93 1238.94 1008.93 1238.25C1009.94 1237.56 1011.69 1236.38 1012.7 1235.73C1013.7 1235.08 1015.46 1234 1016.46 1233.37C1017.47 1232.74 1019.23 1231.64 1020.23 1231.01C1021.24 1230.38 1022.99 1229.25 1024 1228.65C1025 1228.05 1026.76 1227.04 1027.77 1226.51C1028.77 1225.98 1030.53 1225.14 1031.53 1224.65C1032.54 1224.16 1034.3 1223.16 1035.3 1222.84C1036.3 1222.53 1038.06 1222.38 1039.07 1222.29C1040.07 1222.19 1041.83 1222.11 1042.83 1222.15C1043.84 1222.18 1045.6 1222.15 1046.6 1222.55C1047.61 1222.95 1049.36 1224.4 1050.37 1225.16C1051.37 1225.91 1053.13 1227.22 1054.13 1228.18C1055.14 1229.14 1056.9 1231.05 1057.9 1232.36C1058.91 1233.67 1060.66 1236.47 1061.67 1237.99C1062.67 1239.51 1064.43 1241.7 1065.44 1243.79C1066.44 1245.88 1068.2 1251.12 1069.2 1253.68C1070.21 1256.23 1071.96 1260.57 1072.97 1262.93C1073.97 1265.29 1075.73 1269.23 1076.74 1271.38C1077.74 1273.52 1079.5 1277.19 1080.5 1279.02C1081.51 1280.85 1083.27 1284.07 1084.27 1285.1C1085.27 1286.12 1087.03 1286.81 1088.04 1286.69C1089.04 1286.57 1090.8 1285.19 1091.8 1284.2C1092.81 1283.22 1094.57 1280.97 1095.57 1279.31C1096.58 1277.65 1098.33 1273.64 1099.34 1271.74C1100.34 1269.84 1102.1 1266.68 1103.1 1265.04C1104.11 1263.41 1105.87 1260.94 1106.87 1259.46C1107.88 1257.99 1109.63 1255.15 1110.64 1253.97C1111.64 1252.8 1113.4 1251.52 1114.41 1250.63C1115.41 1249.73 1117.17 1248.1 1118.17 1247.28C1119.18 1246.46 1120.93 1245.18 1121.94 1244.47C1122.94 1243.76 1124.7 1242.63 1125.71 1241.96C1126.71 1241.29 1128.47 1240.11 1129.47 1239.45C1130.48 1238.79 1132.24 1237.64 1133.24 1237C1134.24 1236.36 1136 1235.27 1137.01 1234.64C1138.01 1234.02 1139.77 1232.91 1140.77 1232.29C1141.78 1231.66 1143.54 1230.53 1144.54 1229.93C1145.55 1229.32 1147.3 1228.29 1148.31 1227.74C1149.31 1227.18 1151.07 1226.29 1152.07 1225.76C1153.08 1225.23 1154.84 1224.31 1155.84 1223.78C1156.85 1223.25 1158.6 1222.28 1159.61 1221.81C1160.61 1221.33 1162.37 1220.57 1163.38 1220.19C1164.38 1219.81 1166.14 1219.27 1167.14 1218.93C1168.15 1218.6 1169.91 1218.01 1170.91 1217.67C1171.91 1217.34 1173.67 1216.75 1174.68 1216.41C1175.68 1216.08 1177.44 1215.49 1178.44 1215.18C1179.45 1214.87 1181.21 1214.39 1182.21 1214.1C1183.22 1213.82 1184.97 1213.31 1185.98 1213.02C1186.98 1212.74 1188.74 1212.23 1189.74 1211.95C1190.75 1211.66 1192.51 1211.1 1193.51 1210.87C1194.52 1210.64 1196.27 1210.38 1197.28 1210.22C1198.28 1210.05 1200.04 1209.78 1201.05 1209.62C1202.05 1209.46 1203.81 1209.18 1204.81 1209.02C1205.82 1208.86 1207.57 1208.51 1208.58 1208.42C1209.58 1208.33 1211.34 1208.33 1212.35 1208.35C1213.35 1208.38 1215.11 1208.53 1216.11 1208.59C1217.12 1208.66 1218.88 1208.77 1219.88 1208.83C1220.88 1208.9 1222.64 1208.99 1223.65 1209.07C1224.65 1209.16 1226.41 1209.33 1227.41 1209.46C1228.42 1209.6 1230.18 1209.92 1231.18 1210.09C1232.19 1210.26 1233.94 1210.55 1234.95 1210.72C1235.95 1210.89 1237.71 1211.18 1238.71 1211.35C1239.72 1211.52 1241.48 1211.81 1242.48 1212C1243.49 1212.2 1245.24 1212.6 1246.25 1212.81C1247.25 1213.03 1249.01 1213.41 1250.02 1213.62C1251.02 1213.84 1252.78 1214.21 1253.78 1214.43C1254.79 1214.65 1256.54 1215 1257.55 1215.24C1258.55 1215.48 1260.31 1215.98 1261.32 1216.26C1262.32 1216.53 1264.08 1217.03 1265.08 1217.31C1266.09 1217.59 1267.85 1218.08 1268.85 1218.36C1269.85 1218.64 1271.61 1219.12 1272.62 1219.4C1273.62 1219.69 1275.38 1220.17 1276.38 1220.48C1277.39 1220.78 1279.15 1221.38 1280.15 1221.72C1281.16 1222.05 1282.91 1222.65 1283.92 1222.99C1284.92 1223.33 1286.68 1223.9 1287.68 1224.27C1288.69 1224.63 1290.45 1225.33 1291.45 1225.74C1292.46 1226.14 1294.21 1226.9 1295.22 1227.33C1296.22 1227.75 1297.98 1228.5 1298.99 1228.92C1299.99 1229.35 1301.75 1230.04 1302.75 1230.52C1303.76 1230.99 1305.52 1231.93 1306.52 1232.49C1307.52 1233.06 1309.28 1234.13 1310.29 1234.73C1311.29 1235.32 1313.05 1236.36 1314.05 1236.96C1315.06 1237.55 1316.82 1238.56 1317.82 1239.19C1318.83 1239.82 1320.58 1241.01 1321.59 1241.71C1322.59 1242.4 1324.35 1243.69 1325.35 1244.42C1326.36 1245.14 1328.12 1246.4 1329.12 1247.13C1330.13 1247.85 1331.88 1249.11 1332.89 1249.84C1333.89 1250.56 1335.65 1251.82 1336.66 1252.55C1337.66 1253.27 1339.42 1254.53 1340.42 1255.26C1341.43 1255.98 1343.18 1257.24 1344.19 1257.97C1345.19 1258.69 1346.95 1259.85 1347.96 1260.68C1348.96 1261.5 1350.72 1263.16 1351.72 1264.15C1352.73 1265.15 1354.49 1267.07 1355.49 1268.14C1356.49 1269.2 1358.25 1271.06 1359.26 1272.12C1360.26 1273.18 1362.02 1275.04 1363.02 1276.11C1364.03 1277.17 1365.79 1279.03 1366.79 1280.09C1367.8 1281.15 1369.55 1283.01 1370.56 1284.08C1371.56 1285.14 1373.82 1287.53 1374.32 1288.06" stroke="#000" stroke-dasharray="21 11.5"/>
<path d="M135 1303.46C135.5 1303.46 137.76 1303.51 138.77 1303.46C139.77 1303.41 141.53 1303.34 142.53 1303.06C143.54 1302.79 145.3 1301.86 146.3 1301.42C147.31 1300.98 149.06 1300.41 150.07 1299.77C151.07 1299.13 152.83 1297.5 153.83 1296.63C154.84 1295.75 156.6 1294.11 157.6 1293.2C158.61 1292.29 160.36 1290.53 161.37 1289.77C162.37 1289.02 164.13 1288.03 165.14 1287.52C166.14 1287.01 167.9 1286.27 168.9 1285.93C169.91 1285.58 171.66 1284.95 172.67 1284.97C173.67 1284.98 175.43 1285.75 176.44 1286.03C177.44 1286.31 179.2 1286.39 180.2 1287.09C181.21 1287.79 182.97 1290.09 183.97 1291.28C184.97 1292.48 186.73 1294.79 187.74 1296.06C188.74 1297.34 190.5 1299.52 191.5 1300.84C192.51 1302.17 194.27 1304.58 195.27 1305.97C196.28 1307.36 198.03 1309.91 199.04 1311.28C200.04 1312.65 201.8 1315.08 202.81 1316.27C203.81 1317.47 205.57 1319.2 206.57 1320.26C207.58 1321.32 209.33 1323.43 210.34 1324.24C211.34 1325.06 213.1 1325.86 214.11 1326.39C215.11 1326.91 216.87 1327.7 217.87 1328.18C218.88 1328.66 220.64 1329.38 221.64 1329.98C222.64 1330.57 224.4 1331.88 225.41 1332.66C226.41 1333.44 228.17 1334.98 229.17 1335.85C230.18 1336.72 231.94 1338.23 232.94 1339.16C233.95 1340.1 235.7 1341.89 236.71 1342.88C237.71 1343.88 239.47 1345.91 240.47 1346.6C241.48 1347.3 243.24 1347.75 244.24 1348.09C245.25 1348.43 247 1349.03 248.01 1349.15C249.01 1349.28 250.77 1349.27 251.78 1349.05C252.78 1348.82 254.54 1348.15 255.54 1347.45C256.55 1346.76 258.3 1344.8 259.31 1343.85C260.31 1342.9 262.07 1341.07 263.08 1340.31C264.08 1339.56 265.84 1338.75 266.84 1338.19C267.85 1337.62 269.61 1336.35 270.61 1336.06C271.61 1335.78 273.37 1336.03 274.38 1336.06C275.38 1336.08 277.14 1336.28 278.14 1336.24C279.15 1336.21 280.91 1335.89 281.91 1335.77C282.92 1335.64 284.67 1335.42 285.68 1335.29C286.68 1335.16 288.44 1334.96 289.44 1334.81C290.45 1334.66 292.21 1334.42 293.21 1334.19C294.22 1333.97 295.97 1333.41 296.98 1333.13C297.98 1332.85 299.74 1332.43 300.75 1332.07C301.75 1331.7 303.51 1330.85 304.51 1330.39C305.52 1329.93 307.27 1329.07 308.28 1328.6C309.28 1328.12 311.04 1327.17 312.05 1326.8C313.05 1326.43 314.81 1326.02 315.81 1325.82C316.82 1325.62 318.58 1325.38 319.58 1325.29C320.58 1325.2 322.34 1325.02 323.35 1325.14C324.35 1325.26 326.11 1325.92 327.11 1326.2C328.12 1326.48 329.88 1326.81 330.88 1327.26C331.89 1327.72 333.64 1328.95 334.65 1329.61C335.65 1330.27 337.41 1331.51 338.41 1332.2C339.42 1332.89 341.18 1333.87 342.18 1334.79C343.19 1335.71 344.94 1337.84 345.95 1339.12C346.95 1340.41 348.71 1342.96 349.72 1344.44C350.72 1345.91 352.48 1348.46 353.48 1350.16C354.49 1351.85 356.25 1355.3 357.25 1357.17C358.25 1359.04 360.01 1362.31 361.02 1364.18C362.02 1366.05 363.78 1369.4 364.78 1371.2C365.79 1373 367.55 1376.19 368.55 1377.68C369.56 1379.17 371.31 1381.16 372.32 1382.4C373.32 1383.64 375.08 1385.77 376.08 1386.97C377.09 1388.17 378.85 1390.22 379.85 1391.41C380.86 1392.6 382.61 1394.64 383.62 1395.9C384.62 1397.15 386.38 1399.53 387.39 1400.82C388.39 1402.1 390.15 1404.23 391.15 1405.54C392.16 1406.85 393.91 1408.97 394.92 1410.64C395.92 1412.31 397.68 1416.05 398.69 1418.08C399.69 1420.11 401.45 1423.78 402.45 1425.85C403.46 1427.92 405.22 1431.55 406.22 1433.62C407.22 1435.69 408.98 1439.51 409.99 1441.39C410.99 1443.28 412.75 1446.65 413.75 1447.74C414.76 1448.83 416.52 1449.66 417.52 1449.57C418.53 1449.49 420.28 1448.09 421.29 1447.11C422.29 1446.13 424.05 1443.49 425.05 1442.22C426.06 1440.95 427.82 1438.71 428.82 1437.56C429.83 1436.42 431.58 1434.7 432.59 1433.65C433.59 1432.61 435.35 1430.59 436.36 1429.74C437.36 1428.89 439.12 1427.85 440.12 1427.27C441.13 1426.69 442.88 1425.75 443.89 1425.36C444.89 1424.98 446.65 1424.65 447.66 1424.39C448.66 1424.12 450.42 1423.94 451.42 1423.41C452.43 1422.87 454.19 1421.24 455.19 1420.38C456.19 1419.52 457.95 1418.31 458.96 1416.96C459.96 1415.6 461.72 1412.07 462.72 1410.2C463.73 1408.33 465.49 1404.87 466.49 1402.92C467.5 1400.97 469.25 1397.58 470.26 1395.59C471.26 1393.6 473.02 1390 474.02 1388C475.03 1386 476.79 1382.79 477.79 1380.57C478.8 1378.36 480.55 1374.05 481.56 1371.38C482.56 1368.7 484.32 1363.28 485.33 1360.54C486.33 1357.79 488.09 1352.93 489.09 1350.81C490.1 1348.68 491.86 1346.25 492.86 1344.59C493.86 1342.93 495.62 1340.03 496.63 1338.37C497.63 1336.72 499.39 1333.67 500.39 1332.16C501.4 1330.65 503.16 1327.94 504.16 1327.04C505.17 1326.14 506.92 1325.83 507.93 1325.39C508.93 1324.95 510.69 1323.81 511.69 1323.74C512.7 1323.68 514.46 1324.35 515.46 1324.89C516.47 1325.42 518.22 1326.49 519.23 1327.76C520.23 1329.04 521.99 1332.67 523 1334.46C524 1336.24 525.76 1339.37 526.76 1341.15C527.77 1342.94 529.52 1345.87 530.53 1347.85C531.53 1349.82 533.29 1353.2 534.3 1355.96C535.3 1358.72 537.06 1365.37 538.06 1368.55C539.07 1371.73 540.83 1377.16 541.83 1379.82C542.83 1382.47 544.59 1386.13 545.6 1388.45C546.6 1390.78 548.36 1394.73 549.36 1397.25C550.37 1399.78 552.13 1404.11 553.13 1407.4C554.14 1410.69 555.89 1417.6 556.9 1421.92C557.9 1426.25 559.66 1435.08 560.66 1439.82C561.67 1444.57 563.43 1453.06 564.43 1457.51C565.44 1461.95 567.19 1468.98 568.2 1473.15C569.2 1477.32 570.96 1482.27 571.97 1488.79C572.97 1495.32 574.73 1513 575.73 1522.09C576.74 1531.19 578.49 1548.43 579.5 1556.99C580.5 1565.56 582.26 1581.01 583.27 1586.32C584.27 1591.64 586.03 1595.47 587.03 1596.88C588.04 1598.29 589.8 1596.88 590.8 1596.88C591.8 1596.88 593.56 1596.88 594.57 1596.88C595.57 1596.88 597.33 1596.88 598.33 1596.88C599.34 1596.88 601.1 1596.88 602.1 1596.88C603.11 1596.88 604.86 1597.82 605.87 1596.88C606.87 1595.94 608.63 1594.69 609.63 1589.84C610.64 1584.99 612.4 1572.09 613.4 1560.51C614.41 1548.94 616.16 1513.53 617.17 1503.03C618.17 1492.53 619.93 1486.11 620.94 1481.75C621.94 1477.39 623.7 1473.4 624.7 1470.33C625.71 1467.26 627.47 1461.84 628.47 1458.75C629.47 1455.66 631.23 1450.25 632.24 1447.16C633.24 1444.07 635 1438.63 636 1435.58C637.01 1432.52 638.77 1427.16 639.77 1424.24C640.78 1421.32 642.53 1416.19 643.54 1413.68C644.54 1411.17 646.3 1407.46 647.3 1405.42C648.31 1403.39 650.07 1400.26 651.07 1398.42C652.08 1396.58 653.83 1393.24 654.84 1391.62C655.84 1390 657.6 1387.7 658.61 1386.23C659.61 1384.77 661.37 1382.24 662.37 1380.64C663.38 1379.03 665.13 1376.04 666.14 1374.19C667.14 1372.33 668.9 1368.55 669.91 1366.72C670.91 1364.9 672.67 1362.16 673.67 1360.5C674.68 1358.84 676.44 1355.7 677.44 1354.27C678.44 1352.85 680.2 1350.84 681.21 1349.79C682.21 1348.74 683.97 1347.1 684.97 1346.38C685.98 1345.67 687.74 1344.95 688.74 1344.43C689.75 1343.91 691.5 1343 692.51 1342.48C693.51 1341.96 695.27 1341.2 696.27 1340.53C697.28 1339.87 699.04 1338.48 700.04 1337.53C701.05 1336.58 702.8 1334.53 703.81 1333.44C704.81 1332.35 706.57 1330.44 707.58 1329.34C708.58 1328.25 710.34 1326.39 711.34 1325.25C712.35 1324.12 714.1 1322.04 715.11 1320.83C716.11 1319.62 717.87 1317.4 718.88 1316.15C719.88 1314.9 721.64 1312.72 722.64 1311.47C723.65 1310.23 725.41 1308.09 726.41 1306.8C727.41 1305.51 729.17 1303.15 730.18 1301.79C731.18 1300.43 732.94 1297.98 733.94 1296.59C734.95 1295.21 736.71 1292.78 737.71 1291.4C738.72 1290.01 740.47 1287.57 741.48 1286.2C742.48 1284.82 744.24 1282.44 745.24 1281.08C746.25 1279.72 748.01 1277.26 749.01 1275.99C750.02 1274.72 751.77 1272.57 752.78 1271.53C753.78 1270.5 755.54 1268.93 756.55 1268.21C757.55 1267.49 759.31 1266.64 760.31 1266.13C761.32 1265.63 763.08 1264.73 764.08 1264.4C765.08 1264.07 766.84 1263.69 767.85 1263.66C768.85 1263.64 770.61 1263.6 771.61 1264.23C772.62 1264.86 774.38 1267.19 775.38 1268.37C776.39 1269.55 778.14 1271.57 779.15 1273.08C780.15 1274.58 781.91 1277.64 782.91 1279.63C783.92 1281.62 785.68 1285.7 786.68 1288C787.69 1290.29 789.44 1294.49 790.45 1296.86C791.45 1299.23 793.21 1303.39 794.22 1305.76C795.22 1308.13 796.98 1312.28 797.98 1314.66C798.99 1317.03 800.74 1321.04 801.75 1323.57C802.75 1326.1 804.51 1330.95 805.52 1333.63C806.52 1336.32 808.28 1341.43 809.28 1343.7C810.29 1345.98 812.05 1349.08 813.05 1350.7C814.05 1352.31 815.81 1354.8 816.82 1355.82C817.82 1356.84 819.58 1357.8 820.58 1358.34C821.59 1358.88 823.35 1359.57 824.35 1359.84C825.36 1360.12 827.11 1360.25 828.12 1360.39C829.12 1360.52 830.88 1360.78 831.88 1360.84C832.89 1360.9 834.65 1360.84 835.65 1360.84C836.66 1360.84 838.41 1360.65 839.42 1360.84C840.42 1361.03 842.18 1361.84 843.19 1362.27C844.19 1362.7 845.95 1363.31 846.95 1364.06C847.96 1364.8 849.71 1366.51 850.72 1367.86C851.72 1369.22 853.48 1372.66 854.49 1374.2C855.49 1375.73 857.25 1377.75 858.25 1379.38C859.26 1381.02 861.02 1383.86 862.02 1386.45C863.02 1389.04 864.78 1395.6 865.79 1398.82C866.79 1402.04 868.55 1406.98 869.55 1410.59C870.56 1414.2 872.32 1421.84 873.32 1425.91C874.33 1429.97 876.08 1438.36 877.09 1441.1C878.09 1443.83 879.85 1445.96 880.86 1446.42C881.86 1446.87 883.62 1447.6 884.62 1444.51C885.63 1441.42 887.38 1428.22 888.39 1423.22C889.39 1418.23 891.15 1410.34 892.16 1407.04C893.16 1403.75 894.92 1400.87 895.92 1398.52C896.93 1396.17 898.69 1391.65 899.69 1389.43C900.69 1387.21 902.45 1384.06 903.46 1381.86C904.46 1379.65 906.22 1375.2 907.22 1372.89C908.23 1370.58 909.99 1366.56 910.99 1364.54C912 1362.52 913.75 1359.57 914.76 1357.77C915.76 1355.96 917.52 1352.59 918.52 1350.99C919.53 1349.4 921.29 1346.91 922.29 1345.8C923.3 1344.68 925.05 1343.46 926.06 1342.61C927.06 1341.76 928.82 1340.27 929.83 1339.42C930.83 1338.57 932.59 1337.01 933.59 1336.23C934.6 1335.46 936.35 1334.21 937.36 1333.6C938.36 1333 940.12 1332.2 941.13 1331.69C942.13 1331.18 943.89 1330.29 944.89 1329.78C945.9 1329.27 947.66 1328.3 948.66 1327.87C949.66 1327.44 951.42 1326.81 952.43 1326.56C953.43 1326.32 955.19 1326.17 956.19 1326.03C957.2 1325.89 958.96 1325.55 959.96 1325.54C960.97 1325.52 962.72 1325.83 963.73 1325.93C964.73 1326.04 966.49 1326.23 967.49 1326.33C968.5 1326.44 970.26 1326.61 971.26 1326.73C972.27 1326.85 974.02 1327.1 975.03 1327.24C976.03 1327.38 977.79 1327.65 978.8 1327.77C979.8 1327.9 981.56 1328.09 982.56 1328.17C983.57 1328.25 985.32 1328.33 986.33 1328.39C987.33 1328.45 989.09 1328.56 990.1 1328.61C991.1 1328.67 992.86 1328.77 993.86 1328.84C994.87 1328.9 996.63 1329.03 997.63 1329.1C998.63 1329.18 1000.39 1329.34 1001.4 1329.42C1002.4 1329.51 1004.16 1329.66 1005.16 1329.74C1006.17 1329.83 1007.93 1329.99 1008.93 1330.06C1009.94 1330.13 1011.69 1330.21 1012.7 1330.24C1013.7 1330.26 1015.46 1330.25 1016.46 1330.24C1017.47 1330.22 1019.23 1330.49 1020.23 1330.14C1021.24 1329.78 1022.99 1328.51 1024 1327.59C1025 1326.67 1026.76 1324.7 1027.77 1323.24C1028.77 1321.77 1030.53 1318.37 1031.53 1316.59C1032.54 1314.81 1034.3 1311.89 1035.3 1309.88C1036.3 1307.87 1038.06 1303.71 1039.07 1301.51C1040.07 1299.32 1041.83 1295.52 1042.83 1293.39C1043.84 1291.27 1045.6 1287.65 1046.6 1285.58C1047.61 1283.51 1049.36 1279.58 1050.37 1277.88C1051.37 1276.19 1053.13 1274.22 1054.13 1272.89C1055.14 1271.56 1056.9 1268.98 1057.9 1267.89C1058.91 1266.8 1060.66 1265.42 1061.67 1264.72C1062.67 1264.02 1064.43 1262.93 1065.44 1262.65C1066.44 1262.38 1068.2 1262.47 1069.2 1262.65C1070.21 1262.83 1071.96 1263.42 1072.97 1264.01C1073.97 1264.6 1075.73 1266.26 1076.74 1267.09C1077.74 1267.92 1079.5 1269.16 1080.5 1270.25C1081.51 1271.35 1083.27 1273.95 1084.27 1275.3C1085.27 1276.64 1087.03 1278.9 1088.04 1280.35C1089.04 1281.8 1090.8 1284.56 1091.8 1286.17C1092.81 1287.78 1094.57 1290.76 1095.57 1292.42C1096.58 1294.09 1098.33 1296.91 1099.34 1298.68C1100.34 1300.45 1102.1 1303.72 1103.1 1305.73C1104.11 1307.75 1105.87 1311.65 1106.87 1313.8C1107.88 1315.95 1109.63 1319.71 1110.64 1321.86C1111.64 1324.01 1113.4 1327.94 1114.41 1329.93C1115.41 1331.92 1117.17 1335.16 1118.17 1336.77C1119.18 1338.39 1120.93 1340.66 1121.94 1342.07C1122.94 1343.48 1124.7 1345.95 1125.71 1347.36C1126.71 1348.77 1128.47 1351.28 1129.47 1352.65C1130.48 1354.02 1132.24 1356.36 1133.24 1357.63C1134.24 1358.91 1136 1361 1137.01 1362.23C1138.01 1363.45 1139.77 1365.59 1140.77 1366.82C1141.78 1368.04 1143.54 1370.21 1144.54 1371.41C1145.55 1372.6 1147.3 1374.79 1148.31 1375.8C1149.31 1376.81 1151.07 1378.16 1152.07 1378.97C1153.08 1379.78 1154.84 1381.11 1155.84 1381.88C1156.85 1382.65 1158.6 1384.08 1159.61 1384.74C1160.61 1385.41 1162.37 1386.4 1163.38 1386.86C1164.38 1387.33 1166.14 1387.85 1167.14 1388.2C1168.15 1388.56 1169.91 1389.35 1170.91 1389.53C1171.91 1389.7 1173.67 1389.55 1174.68 1389.52C1175.68 1389.48 1177.44 1389.33 1178.44 1389.27C1179.45 1389.2 1181.21 1389.08 1182.21 1389.02C1183.22 1388.95 1184.97 1388.84 1185.98 1388.78C1186.98 1388.72 1188.74 1388.61 1189.74 1388.55C1190.75 1388.48 1192.51 1388.28 1193.51 1388.31C1194.52 1388.35 1196.27 1388.65 1197.28 1388.79C1198.28 1388.93 1200.04 1389.18 1201.05 1389.36C1202.05 1389.54 1203.81 1389.88 1204.81 1390.15C1205.82 1390.42 1207.57 1391.05 1208.58 1391.37C1209.58 1391.7 1211.34 1392.27 1212.35 1392.59C1213.35 1392.91 1215.11 1393.58 1216.11 1393.79C1217.12 1394 1218.88 1394.08 1219.88 1394.17C1220.88 1394.26 1222.64 1394.44 1223.65 1394.49C1224.65 1394.54 1226.41 1394.6 1227.41 1394.56C1228.42 1394.53 1230.18 1394.33 1231.18 1394.24C1232.19 1394.16 1233.94 1394.08 1234.95 1393.93C1235.95 1393.77 1237.71 1393.32 1238.71 1393.07C1239.72 1392.83 1241.48 1392.35 1242.48 1392.1C1243.49 1391.86 1245.24 1391.44 1246.25 1391.26C1247.25 1391.09 1249.01 1390.91 1250.02 1390.77C1251.02 1390.64 1252.78 1390.41 1253.78 1390.28C1254.79 1390.15 1256.54 1389.92 1257.55 1389.79C1258.55 1389.66 1260.31 1389.43 1261.32 1389.29C1262.32 1389.16 1264.08 1388.93 1265.08 1388.8C1266.09 1388.66 1267.85 1388.43 1268.85 1388.3C1269.85 1388.17 1271.61 1387.93 1272.62 1387.8C1273.62 1387.66 1275.38 1387.43 1276.38 1387.29C1277.39 1387.15 1279.15 1386.89 1280.15 1386.75C1281.16 1386.61 1282.91 1386.35 1283.92 1386.21C1284.92 1386.07 1286.68 1385.77 1287.68 1385.67C1288.69 1385.57 1290.45 1385.48 1291.45 1385.45C1292.46 1385.43 1294.21 1385.45 1295.22 1385.45C1296.22 1385.45 1297.98 1385.45 1298.99 1385.45C1299.99 1385.45 1301.75 1385.45 1302.75 1385.45C1303.76 1385.45 1305.52 1385.45 1306.52 1385.45C1307.52 1385.45 1309.28 1385.45 1310.29 1385.45C1311.29 1385.45 1313.05 1385.45 1314.05 1385.45C1315.06 1385.45 1316.82 1385.45 1317.82 1385.45C1318.83 1385.45 1320.58 1385.45 1321.59 1385.45C1322.59 1385.45 1324.35 1385.45 1325.35 1385.45C1326.36 1385.45 1328.12 1385.45 1329.12 1385.45C1330.13 1385.45 1331.88 1385.45 1332.89 1385.45C1333.89 1385.45 1335.65 1385.45 1336.66 1385.45C1337.66 1385.45 1339.42 1385.45 1340.42 1385.45C1341.43 1385.45 1343.18 1385.45 1344.19 1385.45C1345.19 1385.45 1346.95 1385.5 1347.96 1385.45C1348.96 1385.41 1350.72 1385.24 1351.72 1385.13C1352.73 1385.01 1354.49 1384.73 1355.49 1384.58C1356.49 1384.44 1358.25 1384.18 1359.26 1384.04C1360.26 1383.89 1362.02 1383.64 1363.02 1383.49C1364.03 1383.34 1365.79 1383.09 1366.79 1382.94C1367.8 1382.79 1369.55 1382.54 1370.56 1382.39C1371.56 1382.24 1373.82 1381.91 1374.32 1381.83" stroke="#000" stroke-dasharray="21 11.5"/>
<path d="M135 1279.61C137.01 1277.4 146.05 1268.65 150.07 1263.04C154.09 1257.42 161.12 1243.14 165.14 1237.53C169.15 1231.92 176.99 1223.56 180.2 1220.95C183.42 1218.35 187.23 1218.31 189.24 1218.02C191.25 1217.73 192.46 1218.22 195.27 1218.79C198.08 1219.35 206.32 1221.26 210.34 1222.23C214.36 1223.2 221.39 1224.69 225.41 1226.05C229.42 1227.41 236.46 1229.95 240.47 1232.43C244.49 1234.91 251.52 1241.78 255.54 1244.67C259.56 1247.56 266.59 1251.49 270.61 1254.11C274.63 1256.73 281.66 1260.74 285.68 1264.31C289.7 1267.88 296.73 1276.2 300.75 1280.89C304.76 1285.58 311.8 1294.92 315.81 1299.51C319.83 1304.1 326.86 1309.98 330.88 1315.32C334.9 1320.66 343.14 1335.98 345.95 1339.55C348.76 1343.12 349.97 1341.08 351.98 1342.1C353.99 1343.12 357.8 1343.63 361.02 1347.2C364.23 1350.77 372.07 1361.74 376.08 1368.88C380.1 1376.02 387.13 1394.64 391.15 1400.76C395.17 1406.88 403.01 1411.21 406.22 1414.78C409.43 1418.35 413.25 1425.5 415.26 1427.54C417.27 1429.58 419.68 1431.45 421.29 1430.09C422.9 1428.73 425.31 1422.61 427.31 1417.33C429.32 1412.06 433.14 1398.38 436.36 1390.56C439.57 1382.73 447.41 1367.26 451.42 1358.68C455.44 1350.09 462.47 1335.51 466.49 1326.16C470.51 1316.81 477.54 1297.47 481.56 1288.54C485.58 1279.61 493.41 1264.31 496.63 1259.21C499.84 1254.11 503.66 1251.81 505.67 1250.28C507.68 1248.75 510.09 1247.9 511.69 1247.73C513.3 1247.56 515.71 1247.48 517.72 1249.01C519.73 1250.54 523.55 1253.94 526.76 1259.21C529.98 1264.48 537.81 1280.38 541.83 1288.54C545.85 1296.7 552.88 1312.26 556.9 1320.42C560.92 1328.58 567.95 1340.06 571.97 1349.75C575.98 1359.44 583.82 1382.39 587.03 1393.11C590.25 1403.82 593.66 1420.9 596.07 1430.09C598.48 1439.27 603.11 1456.02 605.11 1461.97C607.12 1467.92 609.74 1473.02 611.14 1474.72C612.55 1476.42 614.05 1477.44 615.66 1474.72C617.27 1472 620.99 1460.27 623.2 1454.32C625.41 1448.36 629.02 1438.25 632.24 1430.09C635.45 1421.93 643.29 1401.95 647.3 1393.11C651.32 1384.26 659.16 1369.13 662.37 1363.78C665.59 1358.42 669.4 1355.15 671.41 1352.94C673.42 1350.73 674.63 1349.15 677.44 1347.2C680.25 1345.24 688.49 1341.08 692.51 1338.27C696.53 1335.47 703.56 1328.88 707.58 1326.16C711.59 1323.44 718.63 1319.65 722.64 1317.87C726.66 1316.08 734.9 1314.13 737.71 1312.77C740.52 1311.41 741.73 1310.56 743.74 1307.67C745.75 1304.78 750.37 1296.11 752.78 1291.09C755.19 1286.07 759.81 1274.13 761.82 1270.05C763.83 1265.97 765.84 1262.68 767.85 1260.48C769.86 1258.29 774.88 1254.74 776.89 1253.6C778.9 1252.46 780.91 1251.8 782.91 1251.94C784.92 1252.08 789.95 1253.48 791.96 1254.62C793.96 1255.76 795.17 1256.64 797.98 1260.48C800.79 1264.33 809.03 1276.47 813.05 1283.44C817.07 1290.41 824.1 1304.27 828.12 1312.77C832.14 1321.27 839.97 1339.38 843.19 1347.2C846.4 1355.02 850.22 1366.39 852.23 1371.43C854.24 1376.46 856.24 1380.69 858.25 1384.94C860.26 1389.19 865.28 1398.99 867.29 1403.31C869.3 1407.63 871.71 1412.3 873.32 1417.33C874.93 1422.37 877.74 1432.21 879.35 1441.05C880.96 1449.89 884.17 1473.55 885.38 1483.64C886.58 1493.74 887.5 1498.78 888.39 1516.8C889.27 1534.82 890.2 1605.21 892.01 1618.82C893.81 1632.42 900.02 1632.42 901.95 1618.82C903.88 1605.21 905.06 1538.39 906.47 1516.8C907.88 1495.21 910.89 1472 912.5 1456.87C914.1 1441.73 916.52 1416.11 918.52 1403.31C920.53 1390.5 925.15 1370.77 927.57 1360.84C929.98 1350.91 933.79 1336.66 936.61 1328.84C939.42 1321.01 945.04 1308.95 948.66 1302.18C952.28 1295.42 959.71 1283.64 963.73 1278.08C967.75 1272.52 974.78 1264.58 978.8 1260.48C982.81 1256.39 989.85 1250.51 993.86 1247.35C997.88 1244.19 1004.91 1239.44 1008.93 1236.77C1012.95 1234.1 1020.78 1229.18 1024 1227.33C1027.21 1225.48 1031.03 1223.58 1033.04 1222.87C1035.05 1222.15 1037.46 1222.01 1039.07 1221.97C1040.67 1221.94 1043.08 1221.56 1045.09 1222.61C1047.1 1223.67 1051.72 1227.11 1054.13 1229.88C1056.55 1232.65 1061.17 1239.49 1063.18 1243.4C1065.18 1247.31 1067.59 1255.3 1069.2 1259.21C1070.81 1263.12 1073.62 1269.33 1075.23 1272.73C1076.84 1276.13 1079.65 1282.78 1081.26 1284.71C1082.86 1286.65 1085.68 1287.94 1087.28 1287.26C1088.89 1286.58 1091.7 1282.25 1093.31 1279.61C1094.92 1276.98 1097.33 1270.9 1099.34 1267.5C1101.35 1264.1 1105.97 1256.97 1108.38 1254.11C1110.79 1251.25 1114.61 1248.22 1117.42 1246.08C1120.23 1243.93 1125.86 1240.37 1129.47 1238.04C1133.09 1235.71 1140.52 1230.92 1144.54 1228.6C1148.56 1226.29 1155.59 1222.47 1159.61 1220.7C1163.63 1218.93 1170.66 1216.67 1174.68 1215.34C1178.69 1214.02 1185.73 1211.7 1189.74 1210.75C1193.76 1209.8 1200.79 1208.41 1204.81 1208.2C1208.83 1208 1215.86 1208.73 1219.88 1209.22C1223.9 1209.71 1230.93 1211.08 1234.95 1211.9C1238.97 1212.72 1245.6 1214.17 1250.02 1215.34C1254.44 1216.52 1264.08 1219.44 1268.1 1220.7C1272.11 1221.96 1276.53 1223.38 1280.15 1224.78C1283.77 1226.17 1291.2 1229.11 1295.22 1231.16C1299.24 1233.2 1304.26 1236 1310.29 1240.08C1316.31 1244.16 1332.39 1254.62 1340.42 1261.76C1348.46 1268.9 1366.54 1289.39 1370.56 1293.64" stroke="#000"/>
<path d="M135 1303.46C136.21 1302.93 141.23 1301.5 144.04 1299.51C146.85 1297.52 153.28 1290.51 156.09 1288.54C158.91 1286.57 162.72 1284.88 165.14 1284.71C167.55 1284.54 171.36 1284.88 174.18 1287.26C176.99 1289.64 183.42 1298.83 186.23 1302.57C189.04 1306.31 192.86 1312.34 195.27 1315.32C197.68 1318.29 201.5 1322.84 204.31 1324.88C207.12 1326.92 213.55 1328.84 216.37 1330.62C219.18 1332.41 223 1336.06 225.41 1338.27C227.82 1340.48 232.04 1345.67 234.45 1347.2C236.86 1348.73 241.48 1349.75 243.49 1349.75C245.5 1349.75 247.91 1348.39 249.52 1347.2C251.12 1346.01 253.53 1342.35 255.54 1340.82C257.55 1339.29 262.57 1336.32 264.58 1335.72C266.59 1335.13 267.8 1336.53 270.61 1336.36C273.42 1336.19 282.46 1335.04 285.68 1334.45C288.89 1333.85 291.91 1333 294.72 1331.9C297.53 1330.79 303.96 1327.09 306.77 1326.16C309.59 1325.22 313.4 1324.71 315.81 1324.88C318.22 1325.05 322.04 1325.99 324.85 1327.43C327.67 1328.88 334.1 1332.92 336.91 1335.72C339.72 1338.53 342.73 1343.03 345.95 1348.47C349.16 1353.91 357 1369.22 361.02 1376.53C365.03 1383.84 372.07 1395.49 376.08 1403.31C380.1 1411.13 387.13 1426.43 391.15 1435.19C395.17 1443.94 403.41 1464.05 406.22 1468.98C409.03 1473.91 410.24 1473.44 412.25 1472.17C414.26 1470.89 418.88 1462.48 421.29 1459.42C423.7 1456.36 428.32 1451.08 430.33 1449.21C432.34 1447.34 434.35 1446.24 436.36 1445.39C438.36 1444.54 442.99 1444.37 445.4 1442.84C447.81 1441.31 451.62 1440.2 454.44 1433.91C457.25 1427.62 462.87 1406.54 466.49 1395.66C470.11 1384.77 477.54 1361.4 481.56 1352.3C485.58 1343.2 493.41 1331.28 496.63 1327.43C499.84 1323.59 503.66 1323.65 505.67 1323.48C507.68 1323.31 508.88 1322.23 511.69 1326.16C514.51 1330.09 522.74 1342.65 526.76 1352.94C530.78 1363.22 538.62 1391.15 541.83 1403.31C545.04 1415.46 548.86 1434.42 550.87 1444.11C552.88 1453.81 554.89 1466.3 556.9 1475.99C558.91 1485.69 563.93 1502.86 565.94 1516.8C567.95 1530.74 570.36 1565.26 571.97 1580.56C573.57 1595.86 573.97 1624.77 577.99 1631.57C582.01 1638.37 598.08 1638.37 602.1 1631.57C606.12 1624.77 606.92 1595.86 608.13 1580.56C609.33 1565.26 609.94 1527.94 611.14 1516.8C612.35 1505.66 614.36 1506.39 617.17 1497.03C619.98 1487.68 628.22 1459.5 632.24 1446.66C636.25 1433.83 643.29 1411.13 647.3 1400.76C651.32 1390.39 659.16 1375.08 662.37 1368.88C665.59 1362.67 669.4 1357.1 671.41 1354.21C673.42 1351.32 674.63 1349.15 677.44 1347.2C680.25 1345.24 688.49 1342.71 692.51 1339.55C696.53 1336.38 703.56 1328.07 707.58 1323.48C711.59 1318.89 718.63 1310.29 722.64 1305.12C726.66 1299.95 734.5 1289.03 737.71 1284.71C740.93 1280.39 744.74 1275.02 746.75 1272.73C748.76 1270.43 750.77 1268.74 752.78 1267.5C754.79 1266.26 759.81 1263.84 761.82 1263.42C763.83 1262.99 765.84 1262.71 767.85 1264.31C769.86 1265.91 774.88 1272.17 776.89 1275.4C778.9 1278.64 780.1 1282.13 782.91 1288.54C785.73 1294.95 794.77 1315.66 797.98 1323.48C801.2 1331.3 805.01 1342.91 807.02 1347.2C809.03 1351.48 811.44 1353.97 813.05 1355.61C814.66 1357.26 817.07 1358.87 819.08 1359.57C821.09 1360.26 825.71 1360.67 828.12 1360.84C830.53 1361.01 834.75 1360.28 837.16 1360.84C839.57 1361.4 843.39 1361.84 846.2 1365.05C849.01 1368.26 855.44 1376.27 858.25 1384.94C861.07 1393.62 864.88 1418.88 867.29 1430.09C869.7 1441.29 874.33 1464.13 876.33 1468.98C878.34 1473.83 880.75 1471.62 882.36 1466.43C883.97 1461.24 886.38 1439.52 888.39 1430.09C890.4 1420.65 895.02 1403.82 897.43 1395.66C899.84 1387.49 903.66 1375.34 906.47 1368.88C909.28 1362.42 914.91 1351.79 918.52 1347.2C922.14 1342.61 929.57 1337.17 933.59 1334.45C937.61 1331.73 945.45 1327.99 948.66 1326.8C951.87 1325.61 954.89 1325.52 957.7 1325.52C960.51 1325.52 966.94 1326.46 969.75 1326.8C972.57 1327.14 975.58 1327.78 978.8 1328.07C982.01 1328.36 989.85 1328.67 993.86 1328.96C997.88 1329.25 1005.72 1330.07 1008.93 1330.24C1012.15 1330.41 1015.96 1330.78 1017.97 1330.24C1019.98 1329.69 1021.99 1328.83 1024 1326.16C1026.01 1323.49 1031.03 1314.13 1033.04 1310.22C1035.05 1306.31 1037.06 1301.11 1039.07 1296.83C1041.08 1292.54 1045.7 1282.18 1048.11 1278.08C1050.52 1273.98 1055.14 1268.15 1057.15 1266.1C1059.16 1264.04 1061.57 1263.11 1063.18 1262.65C1064.78 1262.19 1067.19 1261.67 1069.2 1262.65C1071.21 1263.64 1075.83 1267.45 1078.24 1270.05C1080.65 1272.65 1084.47 1277.88 1087.28 1282.16C1090.1 1286.45 1095.72 1295.21 1099.34 1302.18C1102.95 1309.15 1110.39 1327.32 1114.41 1334.45C1118.42 1341.57 1125.46 1350.34 1129.47 1355.61C1133.49 1360.89 1140.52 1369.32 1144.54 1373.98C1148.56 1378.64 1156.39 1387.66 1159.61 1390.56C1162.82 1393.45 1165.84 1395.15 1168.65 1395.66C1171.46 1396.17 1177.89 1394.67 1180.7 1394.38C1183.52 1394.09 1187.33 1393.32 1189.74 1393.49C1192.16 1393.66 1195.97 1394.52 1198.79 1395.66C1201.6 1396.8 1208.03 1401.01 1210.84 1402.03C1213.65 1403.05 1217.47 1403.31 1219.88 1403.31C1222.29 1403.31 1226.51 1402.71 1228.92 1402.03C1231.33 1401.35 1231.13 1399.91 1237.96 1398.21C1244.79 1396.51 1266.49 1390.47 1280.15 1389.28C1293.81 1388.09 1332.39 1389.28 1340.42 1389.28" stroke="#000"/>
<path d="M135 1285.22C135.5 1284.57 137.76 1281.61 138.77 1280.29C139.77 1278.97 141.53 1276.67 142.53 1275.36C143.54 1274.04 145.3 1271.74 146.3 1270.42C147.31 1269.11 149.06 1267 150.07 1265.49C151.07 1263.98 152.83 1260.83 153.83 1259.13C154.84 1257.44 156.6 1254.47 157.6 1252.77C158.61 1251.08 160.36 1248.11 161.37 1246.41C162.37 1244.72 164.13 1241.45 165.14 1240.06C166.14 1238.67 167.9 1237.07 168.9 1235.98C169.91 1234.9 171.66 1232.99 172.67 1231.91C173.67 1230.82 175.43 1228.92 176.44 1227.83C177.44 1226.75 179.2 1224.47 180.2 1223.76C181.21 1223.04 182.97 1222.82 183.97 1222.47C184.97 1222.13 186.73 1221.47 187.74 1221.19C188.74 1220.9 190.5 1220.54 191.5 1220.36C192.51 1220.18 194.27 1219.8 195.27 1219.84C196.28 1219.87 198.03 1220.4 199.04 1220.61C200.04 1220.82 201.8 1221.18 202.81 1221.38C203.81 1221.59 205.57 1221.95 206.57 1222.16C207.58 1222.36 209.33 1222.68 210.34 1222.93C211.34 1223.18 213.1 1223.76 214.11 1224.06C215.11 1224.36 216.87 1224.89 217.87 1225.19C218.88 1225.5 220.64 1226.02 221.64 1226.33C222.64 1226.63 224.4 1227.09 225.41 1227.46C226.41 1227.82 228.17 1228.63 229.17 1229.05C230.18 1229.48 231.94 1230.22 232.94 1230.65C233.95 1231.07 235.7 1231.81 236.71 1232.24C237.71 1232.66 239.47 1233.23 240.47 1233.83C241.48 1234.43 243.24 1235.96 244.24 1236.74C245.25 1237.51 247 1238.86 248.01 1239.64C249.01 1240.41 250.77 1241.77 251.78 1242.54C252.78 1243.32 254.54 1244.72 255.54 1245.44C256.55 1246.17 258.3 1247.29 259.31 1247.96C260.31 1248.63 262.07 1249.81 263.08 1250.48C264.08 1251.15 265.84 1252.32 266.84 1252.99C267.85 1253.67 269.61 1254.8 270.61 1255.51C271.61 1256.22 273.37 1257.57 274.38 1258.32C275.38 1259.08 277.14 1260.39 278.14 1261.14C279.15 1261.89 280.91 1263.2 281.91 1263.95C282.92 1264.7 284.67 1265.85 285.68 1266.77C286.68 1267.68 288.44 1269.74 289.44 1270.82C290.45 1271.9 292.21 1273.8 293.21 1274.88C294.22 1275.96 295.97 1277.85 296.98 1278.94C297.98 1280.02 299.74 1281.8 300.75 1282.99C301.75 1284.19 303.51 1286.59 304.51 1287.89C305.52 1289.2 307.27 1291.49 308.28 1292.79C309.28 1294.1 311.04 1296.39 312.05 1297.69C313.05 1299 314.81 1301.32 315.81 1302.59C316.82 1303.87 318.58 1306.02 319.58 1307.26C320.58 1308.51 322.34 1310.69 323.35 1311.94C324.35 1313.18 326.11 1315.36 327.11 1316.61C328.12 1317.85 329.88 1319.91 330.88 1321.28C331.89 1322.65 333.64 1325.4 334.65 1326.9C335.65 1328.4 337.41 1331.02 338.41 1332.52C339.42 1334.02 341.18 1336.64 342.18 1338.14C343.19 1339.63 344.94 1342.47 345.95 1343.76C346.95 1345.04 348.71 1346.71 349.72 1347.8C350.72 1348.9 352.48 1350.82 353.48 1351.95C354.49 1353.07 356.25 1355.09 357.25 1356.24C358.25 1357.38 360.01 1359.23 361.02 1360.52C362.02 1361.82 363.78 1364.5 364.78 1365.94C365.79 1367.39 367.55 1369.92 368.55 1371.36C369.56 1372.81 371.31 1375.34 372.32 1376.78C373.32 1378.23 375.08 1380.42 376.08 1382.2C377.09 1383.99 378.85 1388.05 379.85 1390.17C380.86 1392.3 382.61 1396.02 383.62 1398.14C384.62 1400.27 386.38 1403.99 387.39 1406.11C388.39 1408.24 390.15 1412.03 391.15 1414.08C392.16 1416.14 393.91 1419.55 394.92 1421.53C395.92 1423.52 397.68 1427 398.69 1428.99C399.69 1430.97 401.45 1434.45 402.45 1436.44C403.46 1438.43 405.22 1442.13 406.22 1443.89C407.22 1445.65 408.98 1449.24 409.99 1449.61C410.99 1449.99 412.75 1448.14 413.75 1446.69C414.76 1445.23 416.52 1440.93 417.52 1438.72C418.53 1436.51 420.28 1432.59 421.29 1430.09C422.29 1427.58 424.05 1422.71 425.05 1419.92C426.06 1417.14 427.82 1412.17 428.82 1409.19C429.83 1406.21 431.58 1400.69 432.59 1397.59C433.59 1394.5 435.35 1388.71 436.36 1386C437.36 1383.28 439.12 1379.57 440.12 1377.24C441.13 1374.9 442.88 1370.81 443.89 1368.48C444.89 1366.14 446.65 1362.06 447.66 1359.72C448.66 1357.38 450.42 1353.29 451.42 1350.96C452.43 1348.63 454.19 1344.55 455.19 1342.22C456.19 1339.89 457.95 1335.81 458.96 1333.47C459.96 1331.14 461.72 1327.06 462.72 1324.73C463.73 1322.4 465.49 1318.36 466.49 1315.99C467.5 1313.62 469.25 1309.36 470.26 1306.95C471.26 1304.54 473.02 1300.32 474.02 1297.92C475.03 1295.51 476.79 1291.29 477.79 1288.88C478.8 1286.47 480.55 1281.9 481.56 1279.84C482.56 1277.79 484.32 1275.16 485.33 1273.46C486.33 1271.75 488.09 1268.77 489.09 1267.07C490.1 1265.37 491.86 1262.39 492.86 1260.69C493.86 1258.98 495.62 1255.55 496.63 1254.3C497.63 1253.05 499.39 1251.99 500.39 1251.31C501.4 1250.63 503.16 1249.51 504.16 1249.2C505.17 1248.89 506.92 1248.98 507.93 1248.98C508.93 1248.97 510.69 1248.65 511.69 1249.14C512.7 1249.62 514.46 1251.58 515.46 1252.58C516.47 1253.58 518.22 1255.44 519.23 1256.65C520.23 1257.86 521.99 1260.31 523 1261.65C524 1262.98 525.76 1265 526.76 1266.64C527.77 1268.29 529.52 1272.03 530.53 1273.99C531.53 1275.95 533.29 1279.38 534.3 1281.34C535.3 1283.3 537.06 1286.73 538.06 1288.69C539.07 1290.65 540.83 1294.1 541.83 1296.04C542.83 1297.99 544.59 1301.36 545.6 1303.29C546.6 1305.23 548.36 1308.61 549.36 1310.55C550.37 1312.48 552.13 1315.86 553.13 1317.8C554.14 1319.73 555.89 1323.15 556.9 1325.05C557.9 1326.95 559.66 1330.17 560.66 1332.03C561.67 1333.89 563.43 1337.15 564.43 1339.01C565.44 1340.87 567.19 1344.13 568.2 1345.99C569.2 1347.86 570.96 1350.66 571.97 1352.98C572.97 1355.29 574.73 1360.59 575.73 1363.36C576.74 1366.13 578.49 1370.97 579.5 1373.74C580.5 1376.51 582.26 1381.36 583.27 1384.13C584.27 1386.89 586.03 1391.3 587.03 1394.51C588.04 1397.71 589.8 1404.52 590.8 1408.16C591.8 1411.8 593.56 1418.47 594.57 1421.82C595.57 1425.16 597.33 1430.4 598.33 1433.25C599.34 1436.1 601.1 1440.69 602.1 1443.2C603.11 1445.72 604.86 1450.29 605.87 1452.09C606.87 1453.9 608.63 1455.88 609.63 1456.73C610.64 1457.58 612.4 1458.5 613.4 1458.46C614.41 1458.41 616.16 1457.58 617.17 1456.4C618.17 1455.22 619.93 1451.42 620.94 1449.62C621.94 1447.81 623.7 1444.76 624.7 1442.85C625.71 1440.95 627.47 1437.41 628.47 1435.33C629.47 1433.25 631.23 1429.45 632.24 1427.28C633.24 1425.12 635 1421.27 636 1419.09C637.01 1416.9 638.77 1413.08 639.77 1410.89C640.78 1408.71 642.53 1404.89 643.54 1402.7C644.54 1400.52 646.3 1396.44 647.3 1394.51C648.31 1392.58 650.07 1389.9 651.07 1388.23C652.08 1386.55 653.83 1383.62 654.84 1381.95C655.84 1380.27 657.6 1377.34 658.61 1375.67C659.61 1373.99 661.37 1370.81 662.37 1369.39C663.38 1367.97 665.13 1366.17 666.14 1365C667.14 1363.84 668.9 1361.76 669.91 1360.62C670.91 1359.49 672.67 1357.57 673.67 1356.49C674.68 1355.41 676.44 1353.42 677.44 1352.53C678.44 1351.64 680.2 1350.56 681.21 1349.84C682.21 1349.12 683.97 1347.87 684.97 1347.15C685.98 1346.44 687.74 1345.18 688.74 1344.47C689.75 1343.75 691.5 1342.51 692.51 1341.78C693.51 1341.05 695.27 1339.75 696.27 1339.01C697.28 1338.28 699.04 1336.99 700.04 1336.25C701.05 1335.51 702.8 1334.22 703.81 1333.48C704.81 1332.74 706.57 1331.36 707.58 1330.72C708.58 1330.07 710.34 1329.2 711.34 1328.64C712.35 1328.09 714.1 1327.12 715.11 1326.57C716.11 1326.02 717.87 1325.05 718.88 1324.5C719.88 1323.95 721.64 1322.88 722.64 1322.43C723.65 1321.98 725.41 1321.47 726.41 1321.12C727.41 1320.77 729.17 1320.16 730.18 1319.81C731.18 1319.46 732.94 1318.85 733.94 1318.5C734.95 1318.15 736.71 1317.8 737.71 1317.19C738.72 1316.58 740.47 1314.87 741.48 1313.91C742.48 1312.95 744.24 1311.3 745.24 1309.97C746.25 1308.64 748.01 1305.64 749.01 1303.94C750.02 1302.23 751.77 1299.27 752.78 1297.19C753.78 1295.12 755.54 1290.72 756.55 1288.37C757.55 1286.01 759.31 1281.77 760.31 1279.54C761.32 1277.31 763.08 1273.66 764.08 1271.63C765.08 1269.61 766.84 1265.86 767.85 1264.34C768.85 1262.83 770.61 1261.36 771.61 1260.27C772.62 1259.19 774.38 1257.1 775.38 1256.21C776.39 1255.32 778.14 1254.16 779.15 1253.59C780.15 1253.02 781.91 1252.09 782.91 1251.94C783.92 1251.79 785.68 1252.26 786.68 1252.44C787.69 1252.63 789.44 1252.93 790.45 1253.34C791.45 1253.75 793.21 1254.88 794.22 1255.53C795.22 1256.17 796.98 1257.17 797.98 1258.17C798.99 1259.17 800.74 1261.72 801.75 1263.01C802.75 1264.31 804.51 1266.57 805.52 1267.86C806.52 1269.15 808.28 1271.41 809.28 1272.7C810.29 1273.99 812.05 1275.97 813.05 1277.55C814.05 1279.12 815.81 1282.67 816.82 1284.53C817.82 1286.39 819.58 1289.65 820.58 1291.51C821.59 1293.37 823.35 1296.63 824.35 1298.49C825.36 1300.35 827.11 1303.49 828.12 1305.47C829.12 1307.46 830.88 1311.27 831.88 1313.38C832.89 1315.49 834.65 1319.18 835.65 1321.29C836.66 1323.39 838.41 1327.08 839.42 1329.19C840.42 1331.3 842.18 1334.85 843.19 1337.1C844.19 1339.35 845.95 1343.66 846.95 1346.04C847.96 1348.43 849.71 1352.66 850.72 1354.99C851.72 1357.31 853.48 1361.26 854.49 1363.49C855.49 1365.71 857.25 1369.54 858.25 1371.69C859.26 1373.83 861.02 1377.47 862.02 1379.57C863.02 1381.67 864.78 1385.31 865.79 1387.45C866.79 1389.59 868.55 1393.42 869.55 1395.63C870.56 1397.84 872.32 1401.11 873.32 1404.01C874.33 1406.91 876.08 1413.55 877.09 1417.4C878.09 1421.26 879.85 1428.09 880.86 1432.92C881.86 1437.75 883.62 1447.22 884.62 1453.63C885.63 1460.05 887.38 1469.8 888.39 1481.03C889.39 1492.27 891.15 1528.22 892.16 1537.9C893.16 1547.57 894.92 1545.61 895.92 1553.59C896.93 1561.57 898.69 1591.12 899.69 1597.78C900.69 1604.43 902.45 1607.28 903.46 1603.51C904.46 1599.75 906.22 1580.68 907.22 1569.54C908.23 1558.4 909.99 1533.43 910.99 1519.95C912 1506.47 913.75 1480.05 914.76 1468.43C915.76 1456.81 917.52 1440.39 918.52 1432.76C919.53 1425.14 921.29 1416.73 922.29 1411.21C923.3 1405.69 925.05 1396.16 926.06 1391.36C927.06 1386.56 928.82 1379.42 929.83 1375.22C930.83 1371.02 932.59 1363.63 933.59 1359.87C934.6 1356.11 936.35 1350.2 937.36 1347.01C938.36 1343.82 940.12 1338.83 941.13 1335.96C942.13 1333.09 943.89 1328.22 944.89 1325.47C945.9 1322.73 947.66 1317.64 948.66 1315.37C949.66 1313.1 951.42 1310.28 952.43 1308.43C953.43 1306.58 955.19 1303.35 956.19 1301.5C957.2 1299.65 958.96 1296.41 959.96 1294.56C960.97 1292.71 962.72 1289.23 963.73 1287.62C964.73 1286.02 966.49 1283.88 967.49 1282.52C968.5 1281.16 970.26 1278.78 971.26 1277.42C972.27 1276.06 974.02 1273.68 975.03 1272.32C976.03 1270.96 977.79 1268.41 978.8 1267.22C979.8 1266.02 981.56 1264.39 982.56 1263.36C983.57 1262.33 985.32 1260.52 986.33 1259.49C987.33 1258.46 989.09 1256.66 990.1 1255.63C991.1 1254.6 992.86 1252.71 993.86 1251.77C994.87 1250.83 996.63 1249.42 997.63 1248.56C998.63 1247.71 1000.39 1246.21 1001.4 1245.35C1002.4 1244.5 1004.16 1243 1005.16 1242.15C1006.17 1241.29 1007.93 1239.71 1008.93 1238.94C1009.94 1238.17 1011.69 1237.07 1012.7 1236.39C1013.7 1235.71 1015.46 1234.52 1016.46 1233.84C1017.47 1233.16 1019.23 1231.96 1020.23 1231.28C1021.24 1230.6 1022.99 1229.28 1024 1228.73C1025 1228.19 1026.76 1227.6 1027.77 1227.19C1028.77 1226.78 1030.53 1225.96 1031.53 1225.66C1032.54 1225.35 1034.3 1225.03 1035.3 1224.89C1036.3 1224.75 1038.06 1224.48 1039.07 1224.64C1040.07 1224.8 1041.83 1225.65 1042.83 1226.1C1043.84 1226.56 1045.6 1227.28 1046.6 1228.04C1047.61 1228.8 1049.36 1230.7 1050.37 1231.8C1051.37 1232.9 1053.13 1234.91 1054.13 1236.29C1055.14 1237.67 1056.9 1240.48 1057.9 1242.15C1058.91 1243.81 1060.66 1246.87 1061.67 1248.8C1062.67 1250.73 1064.43 1254.42 1065.44 1256.6C1066.44 1258.79 1068.2 1262.96 1069.2 1265.17C1070.21 1267.39 1071.96 1271.09 1072.97 1273.21C1073.97 1275.33 1075.73 1279.09 1076.74 1281.08C1077.74 1283.06 1079.5 1286.57 1080.5 1288.12C1081.51 1289.66 1083.27 1291.94 1084.27 1292.65C1085.27 1293.36 1087.03 1293.66 1088.04 1293.45C1089.04 1293.24 1090.8 1291.98 1091.8 1291.06C1092.81 1290.15 1094.57 1288.02 1095.57 1286.58C1096.58 1285.14 1098.33 1281.87 1099.34 1280.26C1100.34 1278.66 1102.1 1276.05 1103.1 1274.52C1104.11 1273 1105.87 1270.27 1106.87 1268.83C1107.88 1267.4 1109.63 1265.05 1110.64 1263.75C1111.64 1262.44 1113.4 1260.22 1114.41 1259.06C1115.41 1257.91 1117.17 1256.11 1118.17 1255.09C1119.18 1254.07 1120.93 1252.4 1121.94 1251.42C1122.94 1250.44 1124.7 1248.72 1125.71 1247.75C1126.71 1246.77 1128.47 1244.95 1129.47 1244.07C1130.48 1243.19 1132.24 1241.92 1133.24 1241.14C1134.24 1240.35 1136 1238.98 1137.01 1238.2C1138.01 1237.41 1139.77 1236.04 1140.77 1235.26C1141.78 1234.48 1143.54 1233.03 1144.54 1232.32C1145.55 1231.62 1147.3 1230.6 1148.31 1229.98C1149.31 1229.35 1151.07 1228.26 1152.07 1227.63C1153.08 1227.01 1154.84 1225.91 1155.84 1225.29C1156.85 1224.66 1158.6 1223.45 1159.61 1222.94C1160.61 1222.44 1162.37 1221.9 1163.38 1221.52C1164.38 1221.14 1166.14 1220.47 1167.14 1220.09C1168.15 1219.71 1169.91 1219.04 1170.91 1218.66C1171.91 1218.28 1173.67 1217.56 1174.68 1217.24C1175.68 1216.91 1177.44 1216.51 1178.44 1216.25C1179.45 1215.98 1181.21 1215.52 1182.21 1215.26C1183.22 1214.99 1184.97 1214.53 1185.98 1214.27C1186.98 1214 1188.74 1213.47 1189.74 1213.28C1190.75 1213.08 1192.51 1212.94 1193.51 1212.81C1194.52 1212.69 1196.27 1212.48 1197.28 1212.35C1198.28 1212.23 1200.04 1212.01 1201.05 1211.89C1202.05 1211.77 1203.81 1211.47 1204.81 1211.43C1205.82 1211.38 1207.57 1211.51 1208.58 1211.54C1209.58 1211.57 1211.34 1211.63 1212.35 1211.66C1213.35 1211.69 1215.11 1211.74 1216.11 1211.77C1217.12 1211.8 1218.88 1211.79 1219.88 1211.89C1220.88 1211.98 1222.64 1212.31 1223.65 1212.47C1224.65 1212.62 1226.41 1212.9 1227.41 1213.05C1228.42 1213.21 1230.18 1213.48 1231.18 1213.63C1232.19 1213.79 1233.94 1214.02 1234.95 1214.21C1235.95 1214.4 1237.71 1214.83 1238.71 1215.06C1239.72 1215.28 1241.48 1215.68 1242.48 1215.9C1243.49 1216.13 1245.24 1216.52 1246.25 1216.74C1247.25 1216.97 1249.01 1217.33 1250.02 1217.59C1251.02 1217.85 1252.78 1218.41 1253.78 1218.7C1254.79 1219 1256.54 1219.52 1257.55 1219.82C1258.55 1220.12 1260.31 1220.64 1261.32 1220.93C1262.32 1221.23 1264.08 1221.74 1265.08 1222.05C1266.09 1222.36 1267.85 1222.88 1268.85 1223.23C1269.85 1223.58 1271.61 1224.3 1272.62 1224.68C1273.62 1225.07 1275.38 1225.75 1276.38 1226.13C1277.39 1226.52 1279.15 1227.18 1280.15 1227.58C1281.16 1227.99 1282.91 1228.75 1283.92 1229.18C1284.92 1229.6 1286.68 1230.35 1287.68 1230.77C1288.69 1231.2 1290.45 1231.94 1291.45 1232.37C1292.46 1232.79 1294.21 1233.43 1295.22 1233.96C1296.22 1234.49 1297.98 1235.73 1298.99 1236.37C1299.99 1237.01 1301.75 1238.13 1302.75 1238.77C1303.76 1239.42 1305.52 1240.54 1306.52 1241.18C1307.52 1241.82 1309.28 1242.85 1310.29 1243.59C1311.29 1244.33 1313.05 1245.9 1314.05 1246.74C1315.06 1247.58 1316.82 1249.05 1317.82 1249.88C1318.83 1250.72 1320.58 1252.19 1321.59 1253.03C1322.59 1253.87 1324.35 1255.34 1325.35 1256.18C1326.36 1257.02 1328.12 1258.49 1329.12 1259.33C1330.13 1260.17 1331.88 1261.64 1332.89 1262.48C1333.89 1263.32 1335.65 1264.79 1336.66 1265.63C1337.66 1266.46 1339.42 1267.65 1340.42 1268.77C1341.43 1269.9 1343.18 1272.66 1344.19 1274.07C1345.19 1275.49 1346.95 1277.96 1347.96 1279.37C1348.96 1280.79 1350.72 1283.26 1351.72 1284.67C1352.73 1286.09 1354.49 1288.56 1355.49 1289.97C1356.49 1291.39 1358.25 1293.86 1359.26 1295.27C1360.26 1296.69 1362.02 1299.16 1363.02 1300.57C1364.03 1301.99 1365.79 1304.46 1366.79 1305.87C1367.8 1307.29 1369.55 1309.43 1370.56 1311.17C1371.56 1312.92 1373.82 1317.91 1374.32 1318.94" stroke="#0000ff" stroke-dasharray="2.8 5.4"/>
<path d="M135 1300.48C135.5 1300.23 137.76 1299.13 138.77 1298.64C139.77 1298.15 141.53 1297.37 142.53 1296.8C143.54 1296.23 145.3 1295.07 146.3 1294.37C147.31 1293.67 149.06 1292.26 150.07 1291.56C151.07 1290.85 152.83 1289.7 153.83 1289.1C154.84 1288.49 156.6 1287.51 157.6 1287.04C158.61 1286.57 160.36 1285.98 161.37 1285.59C162.37 1285.2 164.13 1284.22 165.14 1284.14C166.14 1284.06 167.9 1284.74 168.9 1284.96C169.91 1285.18 171.66 1285.3 172.67 1285.79C173.67 1286.27 175.43 1287.67 176.44 1288.6C177.44 1289.52 179.2 1291.63 180.2 1292.73C181.21 1293.84 182.97 1295.72 183.97 1296.87C184.97 1298.02 186.73 1300.08 187.74 1301.34C188.74 1302.6 190.5 1305 191.5 1306.32C192.51 1307.65 194.27 1310.14 195.27 1311.3C196.28 1312.47 198.03 1314.07 199.04 1315.07C200.04 1316.08 201.8 1317.93 202.81 1318.84C203.81 1319.75 205.57 1321.14 206.57 1321.89C207.58 1322.64 209.33 1323.83 210.34 1324.45C211.34 1325.08 213.1 1325.98 214.11 1326.59C215.11 1327.2 216.87 1328.31 217.87 1329.03C218.88 1329.74 220.64 1331.15 221.64 1331.93C222.64 1332.7 224.4 1334.07 225.41 1334.83C226.41 1335.58 228.17 1336.86 229.17 1337.59C230.18 1338.33 231.94 1339.73 232.94 1340.35C233.95 1340.97 235.7 1341.82 236.71 1342.24C237.71 1342.67 239.47 1343.29 240.47 1343.54C241.48 1343.79 243.24 1344.12 244.24 1344.12C245.25 1344.12 247 1343.79 248.01 1343.53C249.01 1343.27 250.77 1342.59 251.78 1342.15C252.78 1341.72 254.54 1340.73 255.54 1340.25C256.55 1339.76 258.3 1338.97 259.31 1338.51C260.31 1338.04 262.07 1337.12 263.08 1336.76C264.08 1336.41 265.84 1336.02 266.84 1335.85C267.85 1335.68 269.61 1335.64 270.61 1335.5C271.61 1335.36 273.37 1334.99 274.38 1334.81C275.38 1334.62 277.14 1334.3 278.14 1334.11C279.15 1333.93 280.91 1333.6 281.91 1333.42C282.92 1333.23 284.67 1332.88 285.68 1332.72C286.68 1332.57 288.44 1332.37 289.44 1332.24C290.45 1332.11 292.21 1331.92 293.21 1331.76C294.22 1331.6 295.97 1331.25 296.98 1331.03C297.98 1330.82 299.74 1330.35 300.75 1330.15C301.75 1329.94 303.51 1329.63 304.51 1329.49C305.52 1329.35 307.27 1329.16 308.28 1329.11C309.28 1329.07 311.04 1329.14 312.05 1329.15C313.05 1329.16 314.81 1329.05 315.81 1329.19C316.82 1329.33 318.58 1329.93 319.58 1330.2C320.58 1330.47 322.34 1330.88 323.35 1331.22C324.35 1331.55 326.11 1332.28 327.11 1332.73C328.12 1333.18 329.88 1333.93 330.88 1334.59C331.89 1335.25 333.64 1336.76 334.65 1337.66C335.65 1338.56 337.41 1340.24 338.41 1341.34C339.42 1342.44 341.18 1344.69 342.18 1345.91C343.19 1347.13 344.94 1348.92 345.95 1350.48C346.95 1352.05 348.71 1355.73 349.72 1357.64C350.72 1359.55 352.48 1362.89 353.48 1364.8C354.49 1366.7 356.25 1370.04 357.25 1371.95C358.25 1373.86 360.01 1377.27 361.02 1379.11C362.02 1380.95 363.78 1383.97 364.78 1385.73C365.79 1387.5 367.55 1390.59 368.55 1392.36C369.56 1394.12 371.31 1397.21 372.32 1398.98C373.32 1400.75 375.08 1403.73 376.08 1405.6C377.09 1407.47 378.85 1411.03 379.85 1413C380.86 1414.97 382.61 1418.42 383.62 1420.39C384.62 1422.37 386.38 1425.82 387.39 1427.79C388.39 1429.76 390.15 1433.09 391.15 1435.19C392.16 1437.28 393.91 1441.28 394.92 1443.49C395.92 1445.71 397.68 1449.58 398.69 1451.8C399.69 1454.01 401.45 1457.89 402.45 1460.1C403.46 1462.32 405.22 1466.88 406.22 1468.41C407.22 1469.94 408.98 1470.95 409.99 1471.58C410.99 1472.21 412.75 1473.05 413.75 1473.15C414.76 1473.25 416.52 1472.53 417.52 1472.31C418.53 1472.08 420.28 1471.55 421.29 1471.47C422.29 1471.38 424.05 1471.61 425.05 1471.66C426.06 1471.72 427.82 1471.93 428.82 1471.86C429.83 1471.79 431.58 1471.42 432.59 1471.15C433.59 1470.88 435.35 1470.5 436.36 1469.83C437.36 1469.17 439.12 1467.35 440.12 1466.17C441.13 1464.98 442.88 1462.77 443.89 1460.96C444.89 1459.14 446.65 1454.88 447.66 1452.56C448.66 1450.25 450.42 1446.05 451.42 1443.58C452.43 1441.11 454.19 1437.06 455.19 1434.03C456.19 1431 457.95 1424.37 458.96 1420.86C459.96 1417.34 461.72 1411.2 462.72 1407.68C463.73 1404.17 465.49 1397.62 466.49 1394.51C467.5 1391.39 469.25 1387.03 470.26 1384.31C471.26 1381.6 473.02 1376.84 474.02 1374.12C475.03 1371.4 476.79 1366.65 477.79 1363.93C478.8 1361.21 480.55 1355.88 481.56 1353.73C482.56 1351.58 484.32 1349.39 485.33 1347.8C486.33 1346.22 488.09 1343.46 489.09 1341.87C490.1 1340.29 491.86 1337.53 492.86 1335.94C493.86 1334.36 495.62 1331.07 496.63 1330.02C497.63 1328.96 499.39 1328.56 500.39 1328.03C501.4 1327.5 503.16 1326.28 504.16 1326.05C505.17 1325.82 506.92 1326.03 507.93 1326.28C508.93 1326.54 510.69 1326.98 511.69 1327.99C512.7 1329.01 514.46 1332.3 515.46 1333.87C516.47 1335.44 518.22 1338.18 519.23 1339.75C520.23 1341.32 521.99 1344.06 523 1345.63C524 1347.19 525.76 1349.23 526.76 1351.5C527.77 1353.78 529.52 1359.71 530.53 1362.69C531.53 1365.67 533.29 1370.89 534.3 1373.88C535.3 1376.86 537.06 1382.08 538.06 1385.06C539.07 1388.05 540.83 1392.91 541.83 1396.25C542.83 1399.59 544.59 1406.4 545.6 1410.1C546.6 1413.79 548.36 1420.18 549.36 1423.94C550.37 1427.7 552.13 1434.44 553.13 1438.32C554.14 1442.2 555.89 1449.61 556.9 1453.04C557.9 1456.47 559.66 1461.13 560.66 1464.07C561.67 1467.01 563.43 1471.23 564.43 1475.09C565.44 1478.95 567.19 1487.61 568.2 1493C569.2 1498.38 570.96 1510.07 571.97 1515.49C572.97 1520.9 574.73 1529.71 575.73 1533.63C576.74 1537.55 578.49 1543.3 579.5 1544.9C580.5 1546.51 582.26 1545.46 583.27 1545.66C584.27 1545.86 586.03 1546.17 587.03 1546.41C588.04 1546.65 589.8 1547.18 590.8 1547.46C591.8 1547.74 593.56 1548.29 594.57 1548.51C595.57 1548.74 597.33 1549.02 598.33 1549.15C599.34 1549.28 601.1 1551.97 602.1 1549.51C603.11 1547.05 604.86 1537.11 605.87 1530.68C606.87 1524.26 608.63 1508.42 609.63 1501.34C610.64 1494.26 612.4 1482.01 613.4 1477.58C614.41 1473.14 616.16 1470.52 617.17 1468.06C618.17 1465.59 619.93 1461.5 620.94 1459.12C621.94 1456.74 623.7 1452.57 624.7 1450.19C625.71 1447.8 627.47 1443.63 628.47 1441.25C629.47 1438.87 631.23 1434.6 632.24 1432.32C633.24 1430.04 635 1426.32 636 1424.14C637.01 1421.96 638.77 1418.14 639.77 1415.96C640.78 1413.78 642.53 1409.97 643.54 1407.79C644.54 1405.61 646.3 1401.61 647.3 1399.61C648.31 1397.61 650.07 1394.61 651.07 1392.79C652.08 1390.97 653.83 1387.78 654.84 1385.96C655.84 1384.15 657.6 1380.96 658.61 1379.14C659.61 1377.32 661.37 1373.91 662.37 1372.32C663.38 1370.73 665.13 1368.56 666.14 1367.19C667.14 1365.83 668.9 1363.36 669.91 1362.07C670.91 1360.78 672.67 1358.68 673.67 1357.51C674.68 1356.35 676.44 1354.24 677.44 1353.34C678.44 1352.44 680.2 1351.44 681.21 1350.75C682.21 1350.06 683.97 1348.85 684.97 1348.16C685.98 1347.47 687.74 1346.27 688.74 1345.58C689.75 1344.89 691.5 1343.78 692.51 1342.99C693.51 1342.2 695.27 1340.53 696.27 1339.63C697.28 1338.74 699.04 1337.17 700.04 1336.28C701.05 1335.38 702.8 1333.81 703.81 1332.92C704.81 1332.02 706.57 1330.47 707.58 1329.56C708.58 1328.66 710.34 1327.04 711.34 1326.12C712.35 1325.2 714.1 1323.59 715.11 1322.68C716.11 1321.76 717.87 1320.15 718.88 1319.23C719.88 1318.32 721.64 1316.72 722.64 1315.79C723.65 1314.86 725.41 1313.19 726.41 1312.24C727.41 1311.29 729.17 1309.63 730.18 1308.69C731.18 1307.74 732.94 1306.08 733.94 1305.14C734.95 1304.19 736.71 1302.72 737.71 1301.58C738.72 1300.45 740.47 1297.92 741.48 1296.59C742.48 1295.26 744.24 1292.97 745.24 1291.6C746.25 1290.22 748.01 1287.71 749.01 1286.26C750.02 1284.81 751.77 1282.1 752.78 1280.7C753.78 1279.29 755.54 1277.07 756.55 1275.74C757.55 1274.42 759.31 1271.9 760.31 1270.79C761.32 1269.68 763.08 1268.18 764.08 1267.43C765.08 1266.67 766.84 1265.03 767.85 1265.11C768.85 1265.2 770.61 1267.18 771.61 1268.05C772.62 1268.92 774.38 1270.39 775.38 1271.62C776.39 1272.86 778.14 1275.71 779.15 1277.33C780.15 1278.96 781.91 1281.84 782.91 1283.83C783.92 1285.82 785.68 1290.01 786.68 1292.25C787.69 1294.5 789.44 1298.43 790.45 1300.67C791.45 1302.92 793.21 1306.85 794.22 1309.09C795.22 1311.34 796.98 1314.99 797.98 1317.51C798.99 1320.03 800.74 1325.18 801.75 1327.97C802.75 1330.76 804.51 1335.96 805.52 1338.43C806.52 1340.89 808.28 1344.52 809.28 1346.44C810.29 1348.36 812.05 1351.39 813.05 1352.82C814.05 1354.26 815.81 1356.34 816.82 1357.2C817.82 1358.06 819.58 1358.81 820.58 1359.28C821.59 1359.75 823.35 1360.34 824.35 1360.72C825.36 1361.11 827.11 1361.97 828.12 1362.16C829.12 1362.35 830.88 1362.16 831.88 1362.16C832.89 1362.16 834.65 1362.03 835.65 1362.16C836.66 1362.3 838.41 1362.81 839.42 1363.17C840.42 1363.53 842.18 1364.3 843.19 1364.85C844.19 1365.4 845.95 1366.24 846.95 1367.3C847.96 1368.35 849.71 1371.31 850.72 1372.78C851.72 1374.24 853.48 1376.8 854.49 1378.26C855.49 1379.72 857.25 1381.19 858.25 1383.74C859.26 1386.29 861.02 1393.75 862.02 1397.38C863.02 1401.02 864.78 1407.5 865.79 1411.03C866.79 1414.55 868.55 1420.48 869.55 1423.81C870.56 1427.15 872.32 1432.67 873.32 1436.03C874.33 1439.39 876.08 1446.59 877.09 1449.01C878.09 1451.42 879.85 1453.78 880.86 1454.16C881.86 1454.53 883.62 1453.09 884.62 1451.8C885.63 1450.5 887.38 1446.45 888.39 1444.43C889.39 1442.42 891.15 1439.21 892.16 1436.67C893.16 1434.13 894.92 1428.48 895.92 1425.41C896.93 1422.34 898.69 1416.82 899.69 1413.64C900.69 1410.45 902.45 1404.67 903.46 1401.52C904.46 1398.37 906.22 1392.76 907.22 1390.03C908.23 1387.29 909.99 1383.42 910.99 1381.01C912 1378.61 913.75 1374.4 914.76 1372C915.76 1369.59 917.52 1364.95 918.52 1362.98C919.53 1361.01 921.29 1358.75 922.29 1357.21C923.3 1355.67 925.05 1352.86 926.06 1351.44C927.06 1350.02 928.82 1347.77 929.83 1346.54C930.83 1345.32 932.59 1343.25 933.59 1342.23C934.6 1341.21 936.35 1339.64 937.36 1338.92C938.36 1338.19 940.12 1337.36 941.13 1336.79C942.13 1336.22 943.89 1335.23 944.89 1334.66C945.9 1334.09 947.66 1332.91 948.66 1332.53C949.66 1332.15 951.42 1332 952.43 1331.81C953.43 1331.62 955.19 1331.24 956.19 1331.09C957.2 1330.94 958.96 1330.76 959.96 1330.67C960.97 1330.59 962.72 1330.52 963.73 1330.46C964.73 1330.4 966.49 1330.27 967.49 1330.21C968.5 1330.14 970.26 1330.04 971.26 1329.98C972.27 1329.93 974.02 1329.85 975.03 1329.8C976.03 1329.75 977.79 1329.66 978.8 1329.62C979.8 1329.58 981.56 1329.53 982.56 1329.5C983.57 1329.47 985.32 1329.41 986.33 1329.38C987.33 1329.35 989.09 1329.29 990.1 1329.26C991.1 1329.22 992.86 1329.15 993.86 1329.14C994.87 1329.12 996.63 1329.12 997.63 1329.11C998.63 1329.1 1000.39 1329.09 1001.4 1329.08C1002.4 1329.08 1004.16 1329.07 1005.16 1329.06C1006.17 1329.05 1007.93 1329.17 1008.93 1329.03C1009.94 1328.9 1011.69 1328.3 1012.7 1328.03C1013.7 1327.76 1015.46 1327.48 1016.46 1327.02C1017.47 1326.57 1019.23 1325.39 1020.23 1324.62C1021.24 1323.85 1022.99 1322.67 1024 1321.28C1025 1319.89 1026.76 1316.06 1027.77 1314.16C1028.77 1312.26 1030.53 1308.98 1031.53 1307.04C1032.54 1305.1 1034.3 1301.61 1035.3 1299.6C1036.3 1297.59 1038.06 1293.94 1039.07 1291.95C1040.07 1289.96 1041.83 1286.61 1042.83 1284.67C1043.84 1282.72 1045.6 1279.08 1046.6 1277.38C1047.61 1275.68 1049.36 1273.22 1050.37 1271.93C1051.37 1270.64 1053.13 1268.76 1054.13 1267.7C1055.14 1266.64 1056.9 1264.7 1057.9 1264C1058.91 1263.29 1060.66 1262.74 1061.67 1262.41C1062.67 1262.08 1064.43 1261.59 1065.44 1261.53C1066.44 1261.47 1068.2 1261.59 1069.2 1261.96C1070.21 1262.33 1071.96 1263.62 1072.97 1264.3C1073.97 1264.99 1075.73 1266.17 1076.74 1267.09C1077.74 1268 1079.5 1270.03 1080.5 1271.17C1081.51 1272.32 1083.27 1274.37 1084.27 1275.7C1085.27 1277.02 1087.03 1279.58 1088.04 1281.09C1089.04 1282.6 1090.8 1285.43 1091.8 1287.02C1092.81 1288.61 1094.57 1291.43 1095.57 1293.05C1096.58 1294.66 1098.33 1297.4 1099.34 1299.14C1100.34 1300.88 1102.1 1304.25 1103.1 1306.1C1104.11 1307.96 1105.87 1311.21 1106.87 1313.06C1107.88 1314.92 1109.63 1318.17 1110.64 1320.03C1111.64 1321.88 1113.4 1325.38 1114.41 1326.99C1115.41 1328.59 1117.17 1330.7 1118.17 1332.05C1119.18 1333.4 1120.93 1335.76 1121.94 1337.11C1122.94 1338.46 1124.7 1340.82 1125.71 1342.17C1126.71 1343.52 1128.47 1346.03 1129.47 1347.24C1130.48 1348.45 1132.24 1350.18 1133.24 1351.25C1134.24 1352.32 1136 1354.2 1137.01 1355.27C1138.01 1356.34 1139.77 1358.22 1140.77 1359.29C1141.78 1360.36 1143.54 1362.31 1144.54 1363.3C1145.55 1364.3 1147.3 1365.85 1148.31 1366.77C1149.31 1367.7 1151.07 1369.32 1152.07 1370.24C1153.08 1371.17 1154.84 1372.79 1155.84 1373.71C1156.85 1374.64 1158.6 1376.44 1159.61 1377.18C1160.61 1377.93 1162.37 1378.76 1163.38 1379.33C1164.38 1379.9 1166.14 1381.01 1167.14 1381.47C1168.15 1381.93 1169.91 1382.51 1170.91 1382.79C1171.91 1383.06 1173.67 1383.42 1174.68 1383.54C1175.68 1383.66 1177.44 1383.64 1178.44 1383.68C1179.45 1383.72 1181.21 1383.79 1182.21 1383.83C1183.22 1383.87 1184.97 1383.94 1185.98 1383.98C1186.98 1384.02 1188.74 1384.05 1189.74 1384.13C1190.75 1384.22 1192.51 1384.48 1193.51 1384.6C1194.52 1384.73 1196.27 1384.9 1197.28 1385.07C1198.28 1385.24 1200.04 1385.65 1201.05 1385.9C1202.05 1386.15 1203.81 1386.65 1204.81 1386.97C1205.82 1387.28 1207.57 1387.94 1208.58 1388.23C1209.58 1388.53 1211.34 1388.99 1212.35 1389.18C1213.35 1389.37 1215.11 1389.52 1216.11 1389.64C1217.12 1389.77 1218.88 1390.04 1219.88 1390.11C1220.88 1390.18 1222.64 1390.16 1223.65 1390.18C1224.65 1390.19 1226.41 1390.27 1227.41 1390.24C1228.42 1390.21 1230.18 1390.06 1231.18 1389.96C1232.19 1389.85 1233.94 1389.56 1234.95 1389.44C1235.95 1389.32 1237.71 1389.08 1238.71 1389.03C1239.72 1388.98 1241.48 1389.05 1242.48 1389.05C1243.49 1389.06 1245.24 1389.07 1246.25 1389.08C1247.25 1389.08 1249.01 1389.09 1250.02 1389.1C1251.02 1389.1 1252.78 1389.11 1253.78 1389.12C1254.79 1389.13 1256.54 1389.14 1257.55 1389.14C1258.55 1389.15 1260.31 1389.16 1261.32 1389.17C1262.32 1389.17 1264.08 1389.18 1265.08 1389.19C1266.09 1389.19 1267.85 1389.21 1268.85 1389.21C1269.85 1389.22 1271.61 1389.23 1272.62 1389.23C1273.62 1389.24 1275.38 1389.25 1276.38 1389.26C1277.39 1389.26 1279.15 1389.18 1280.15 1389.28C1281.16 1389.38 1282.91 1389.81 1283.92 1390C1284.92 1390.19 1286.68 1390.52 1287.68 1390.71C1288.69 1390.91 1290.45 1391.24 1291.45 1391.43C1292.46 1391.62 1294.21 1391.96 1295.22 1392.15C1296.22 1392.34 1297.98 1392.68 1298.99 1392.87C1299.99 1393.06 1301.75 1393.39 1302.75 1393.58C1303.76 1393.78 1305.52 1394.11 1306.52 1394.3C1307.52 1394.49 1309.28 1394.83 1310.29 1395.02C1311.29 1395.21 1313.05 1395.54 1314.05 1395.74C1315.06 1395.93 1316.82 1396.26 1317.82 1396.45C1318.83 1396.64 1320.58 1396.98 1321.59 1397.17C1322.59 1397.36 1324.35 1397.7 1325.35 1397.89C1326.36 1398.08 1328.12 1398.41 1329.12 1398.6C1330.13 1398.8 1331.88 1399.13 1332.89 1399.32C1333.89 1399.51 1335.65 1399.85 1336.66 1400.04C1337.66 1400.23 1339.42 1400.48 1340.42 1400.76C1341.43 1401.03 1343.18 1401.75 1344.19 1402.11C1345.19 1402.47 1346.95 1403.11 1347.96 1403.47C1348.96 1403.83 1350.72 1404.46 1351.72 1404.82C1352.73 1405.18 1354.49 1405.82 1355.49 1406.18C1356.49 1406.54 1358.25 1407.17 1359.26 1407.53C1360.26 1407.89 1362.02 1408.52 1363.02 1408.89C1364.03 1409.25 1365.79 1409.88 1366.79 1410.24C1367.8 1410.6 1369.55 1411.23 1370.56 1411.6C1371.56 1411.96 1373.82 1412.77 1374.32 1412.95" stroke="#0000ff" stroke-dasharray="2.8 5.4"/>
<path d="M135 1288.03C135.5 1287.29 137.76 1283.94 138.77 1282.45C139.77 1280.96 141.53 1278.36 142.53 1276.87C143.54 1275.38 145.3 1272.81 146.3 1271.29C147.31 1269.77 149.06 1267.09 150.07 1265.47C151.07 1263.85 152.83 1260.82 153.83 1259.12C154.84 1257.43 156.6 1254.47 157.6 1252.78C158.61 1251.09 160.36 1248.03 161.37 1246.44C162.37 1244.84 164.13 1242.12 165.14 1240.84C166.14 1239.55 167.9 1237.89 168.9 1236.82C169.91 1235.75 171.66 1233.87 172.67 1232.8C173.67 1231.73 175.43 1229.74 176.44 1228.79C177.44 1227.83 179.2 1226.23 180.2 1225.63C181.21 1225.03 182.97 1224.64 183.97 1224.29C184.97 1223.93 186.73 1223.31 187.74 1222.95C188.74 1222.59 190.5 1221.88 191.5 1221.61C192.51 1221.34 194.27 1220.92 195.27 1220.92C196.28 1220.93 198.03 1221.44 199.04 1221.62C200.04 1221.81 201.8 1222.14 202.81 1222.33C203.81 1222.51 205.57 1222.82 206.57 1223.03C207.58 1223.24 209.33 1223.62 210.34 1223.91C211.34 1224.2 213.1 1224.85 214.11 1225.19C215.11 1225.53 216.87 1226.12 217.87 1226.46C218.88 1226.8 220.64 1227.38 221.64 1227.74C222.64 1228.09 224.4 1228.72 225.41 1229.11C226.41 1229.51 228.17 1230.28 229.17 1230.71C230.18 1231.13 231.94 1231.88 232.94 1232.3C233.95 1232.73 235.7 1233.42 236.71 1233.9C237.71 1234.37 239.47 1235.24 240.47 1235.87C241.48 1236.5 243.24 1237.9 244.24 1238.64C245.25 1239.38 247 1240.68 248.01 1241.42C249.01 1242.16 250.77 1243.45 251.78 1244.19C252.78 1244.92 254.54 1246.2 255.54 1246.92C256.55 1247.64 258.3 1248.86 259.31 1249.57C260.31 1250.27 262.07 1251.51 263.08 1252.21C264.08 1252.92 265.84 1254.14 266.84 1254.86C267.85 1255.58 269.61 1256.86 270.61 1257.63C271.61 1258.4 273.37 1259.85 274.38 1260.66C275.38 1261.46 277.14 1262.88 278.14 1263.69C279.15 1264.49 280.91 1265.87 281.91 1266.71C282.92 1267.56 284.67 1269.07 285.68 1270.05C286.68 1271.02 288.44 1272.97 289.44 1274.03C290.45 1275.1 292.21 1276.96 293.21 1278.02C294.22 1279.08 295.97 1280.89 296.98 1282C297.98 1283.11 299.74 1285.09 300.75 1286.35C301.75 1287.6 303.51 1290.09 304.51 1291.45C305.52 1292.81 307.27 1295.19 308.28 1296.55C309.28 1297.91 311.04 1300.28 312.05 1301.65C313.05 1303.02 314.81 1305.41 315.81 1306.8C316.82 1308.19 318.58 1310.66 319.58 1312.06C320.58 1313.46 322.34 1315.92 323.35 1317.32C324.35 1318.72 326.11 1321.18 327.11 1322.58C328.12 1323.98 329.88 1326.44 330.88 1327.84C331.89 1329.24 333.64 1331.7 334.65 1333.1C335.65 1334.5 337.41 1336.96 338.41 1338.36C339.42 1339.76 341.18 1342.18 342.18 1343.62C343.19 1345.06 344.94 1347.59 345.95 1349.14C346.95 1350.68 348.71 1353.58 349.72 1355.19C350.72 1356.81 352.48 1359.64 353.48 1361.25C354.49 1362.87 356.25 1365.72 357.25 1367.31C358.25 1368.9 360.01 1371.66 361.02 1373.16C362.02 1374.66 363.78 1377.14 364.78 1378.58C365.79 1380.03 367.55 1382.56 368.55 1384C369.56 1385.45 371.31 1387.87 372.32 1389.42C373.32 1390.97 375.08 1393.76 376.08 1395.66C377.09 1397.55 378.85 1401.5 379.85 1403.63C380.86 1405.75 382.61 1409.14 383.62 1411.6C384.62 1414.05 386.38 1418.83 387.39 1422.06C388.39 1425.28 390.15 1431.68 391.15 1435.79C392.16 1439.89 393.91 1448.24 394.92 1452.86C395.92 1457.49 397.68 1465.71 398.69 1470.48C399.69 1475.25 401.45 1484.27 402.45 1488.63C403.46 1493 405.22 1501.01 406.22 1503.21C407.22 1505.41 408.98 1507.49 409.99 1505.14C410.99 1502.78 412.75 1491.96 413.75 1485.55C414.76 1479.14 416.52 1464.13 417.52 1457.05C418.53 1449.96 420.28 1438.12 421.29 1432.42C422.29 1426.73 424.05 1418.32 425.05 1414.31C426.06 1410.3 427.82 1405.54 428.82 1402.35C429.83 1399.16 431.58 1393.47 432.59 1390.4C433.59 1387.32 435.35 1382 436.36 1379.26C437.36 1376.52 439.12 1372.36 440.12 1369.85C441.13 1367.34 442.88 1362.96 443.89 1360.45C444.89 1357.94 446.65 1353.54 447.66 1351.04C448.66 1348.54 450.42 1344.17 451.42 1341.69C452.43 1339.21 454.19 1334.91 455.19 1332.44C456.19 1329.98 457.95 1325.66 458.96 1323.2C459.96 1320.73 461.72 1316.4 462.72 1313.95C463.73 1311.51 465.49 1307.25 466.49 1304.87C467.5 1302.5 469.25 1298.47 470.26 1296.14C471.26 1293.81 473.02 1289.73 474.02 1287.4C475.03 1285.07 476.79 1280.86 477.79 1278.67C478.8 1276.47 480.55 1272.71 481.56 1270.93C482.56 1269.15 484.32 1266.82 485.33 1265.32C486.33 1263.82 488.09 1261.21 489.09 1259.71C490.1 1258.21 491.86 1255.46 492.86 1254.1C493.86 1252.74 495.62 1250.45 496.63 1249.52C497.63 1248.59 499.39 1247.38 500.39 1247.13C501.4 1246.87 503.16 1247.33 504.16 1247.61C505.17 1247.88 506.92 1248.6 507.93 1249.2C508.93 1249.8 510.69 1250.95 511.69 1252.08C512.7 1253.21 514.46 1256.19 515.46 1257.69C516.47 1259.19 518.22 1261.8 519.23 1263.3C520.23 1264.8 521.99 1267.34 523 1268.91C524 1270.48 525.76 1273.28 526.76 1275.08C527.77 1276.89 529.52 1280.48 530.53 1282.45C531.53 1284.41 533.29 1287.85 534.3 1289.81C535.3 1291.78 537.06 1295.24 538.06 1297.18C539.07 1299.11 540.83 1302.48 541.83 1304.32C542.83 1306.16 544.59 1309.2 545.6 1310.98C546.6 1312.76 548.36 1315.87 549.36 1317.64C550.37 1319.42 552.13 1322.53 553.13 1324.3C554.14 1326.08 555.89 1329.2 556.9 1330.98C557.9 1332.76 559.66 1335.89 560.66 1337.67C561.67 1339.46 563.43 1342.58 564.43 1344.37C565.44 1346.15 567.19 1349.14 568.2 1351.06C569.2 1352.99 570.96 1356.45 571.97 1358.82C572.97 1361.19 574.73 1366.16 575.73 1368.83C576.74 1371.5 578.49 1376.17 579.5 1378.84C580.5 1381.51 582.26 1386.09 583.27 1388.85C584.27 1391.61 586.03 1396.51 587.03 1399.57C588.04 1402.63 589.8 1407.87 590.8 1411.79C591.8 1415.7 593.56 1425.03 594.57 1428.91C595.57 1432.79 597.33 1437.75 598.33 1440.89C599.34 1444.04 601.1 1449.98 602.1 1452.5C603.11 1455.02 604.86 1458.4 605.87 1459.79C606.87 1461.19 608.63 1462.57 609.63 1462.95C610.64 1463.32 612.4 1462.98 613.4 1462.59C614.41 1462.21 616.16 1461.25 617.17 1460.05C618.17 1458.84 619.93 1455.26 620.94 1453.53C621.94 1451.8 623.7 1449.26 624.7 1447.08C625.71 1444.91 627.47 1439.94 628.47 1437.23C629.47 1434.53 631.23 1429.68 632.24 1426.79C633.24 1423.9 635 1418.08 636 1415.57C637.01 1413.07 638.77 1409.97 639.77 1407.97C640.78 1405.98 642.53 1402.52 643.54 1400.64C644.54 1398.77 646.3 1395.54 647.3 1393.92C648.31 1392.3 650.07 1389.95 651.07 1388.5C652.08 1387.06 653.83 1384.53 654.84 1383.08C655.84 1381.64 657.6 1379.06 658.61 1377.66C659.61 1376.27 661.37 1373.85 662.37 1372.61C663.38 1371.37 665.13 1369.48 666.14 1368.34C667.14 1367.2 668.9 1365.21 669.91 1364.07C670.91 1362.93 672.67 1360.88 673.67 1359.79C674.68 1358.71 676.44 1356.84 677.44 1355.91C678.44 1354.98 680.2 1353.67 681.21 1352.85C682.21 1352.03 683.97 1350.61 684.97 1349.79C685.98 1348.97 687.74 1347.52 688.74 1346.73C689.75 1345.93 691.5 1344.56 692.51 1343.83C693.51 1343.11 695.27 1341.96 696.27 1341.28C697.28 1340.6 699.04 1339.41 700.04 1338.73C701.05 1338.05 702.8 1336.84 703.81 1336.18C704.81 1335.52 706.57 1334.38 707.58 1333.78C708.58 1333.19 710.34 1332.26 711.34 1331.71C712.35 1331.16 714.1 1330.19 715.11 1329.64C716.11 1329.09 717.87 1328.09 718.88 1327.57C719.88 1327.05 721.64 1326.15 722.64 1325.73C723.65 1325.31 725.41 1324.75 726.41 1324.39C727.41 1324.03 729.17 1323.41 730.18 1323.05C731.18 1322.69 732.94 1322.16 733.94 1321.71C734.95 1321.27 736.71 1320.44 737.71 1319.73C738.72 1319.02 740.47 1317.28 741.48 1316.38C742.48 1315.49 744.24 1314.33 745.24 1313.04C746.25 1311.74 748.01 1308.51 749.01 1306.68C750.02 1304.86 751.77 1301.51 752.78 1299.34C753.78 1297.18 755.54 1292.84 756.55 1290.47C757.55 1288.1 759.31 1283.9 760.31 1281.6C761.32 1279.29 763.08 1275.28 764.08 1273.19C765.08 1271.09 766.84 1267.53 767.85 1265.88C768.85 1264.24 770.61 1262.18 771.61 1260.84C772.62 1259.49 774.38 1256.78 775.38 1255.79C776.39 1254.8 778.14 1253.92 779.15 1253.4C780.15 1252.89 781.91 1252.14 782.91 1251.94C783.92 1251.75 785.68 1251.77 786.68 1251.94C787.69 1252.11 789.44 1252.83 790.45 1253.24C791.45 1253.66 793.21 1254.47 794.22 1255.05C795.22 1255.63 796.98 1256.71 797.98 1257.59C798.99 1258.48 800.74 1260.61 801.75 1261.71C802.75 1262.8 804.51 1264.72 805.52 1265.82C806.52 1266.91 808.28 1268.72 809.28 1269.93C810.29 1271.14 812.05 1273.32 813.05 1274.87C814.05 1276.42 815.81 1279.78 816.82 1281.56C817.82 1283.35 819.58 1286.47 820.58 1288.26C821.59 1290.04 823.35 1293.14 824.35 1294.95C825.36 1296.77 827.11 1299.95 828.12 1301.85C829.12 1303.75 830.88 1307.23 831.88 1309.18C832.89 1311.14 834.65 1314.56 835.65 1316.52C836.66 1318.47 838.41 1321.87 839.42 1323.85C840.42 1325.83 842.18 1329.32 843.19 1331.4C844.19 1333.47 845.95 1337.26 846.95 1339.4C847.96 1341.53 849.71 1345.27 850.72 1347.4C851.72 1349.53 853.48 1353.27 854.49 1355.4C855.49 1357.54 857.25 1361.28 858.25 1363.42C859.26 1365.57 861.02 1369.34 862.02 1371.49C863.02 1373.64 864.78 1377.4 865.79 1379.56C866.79 1381.71 868.55 1385.29 869.55 1387.62C870.56 1389.95 872.32 1394.13 873.32 1397.02C874.33 1399.9 876.08 1405.51 877.09 1409.24C878.09 1412.96 879.85 1419.1 880.86 1424.97C881.86 1430.83 883.62 1445.26 884.62 1453.22C885.63 1461.18 887.38 1476.88 888.39 1484.68C889.39 1492.47 891.15 1502.78 892.16 1511.67C893.16 1520.56 894.92 1530.96 895.92 1551.34C896.93 1571.73 898.69 1648.82 899.69 1664.55C900.69 1680.28 902.45 1668.68 903.46 1669.31C904.46 1669.95 906.22 1683.28 907.22 1669.31C908.23 1655.35 909.99 1584.96 910.99 1564.58C912 1544.2 913.75 1529.18 914.76 1516.46C915.76 1503.73 917.52 1480.76 918.52 1469.14C919.53 1457.51 921.29 1437.83 922.29 1429.29C923.3 1420.75 925.05 1410.59 926.06 1405.09C927.06 1399.6 928.82 1392.47 929.83 1388.09C930.83 1383.71 932.59 1376.16 933.59 1372.28C934.6 1368.4 936.35 1362.54 937.36 1358.99C938.36 1355.45 940.12 1349.04 941.13 1345.71C942.13 1342.38 943.89 1336.95 944.89 1334.02C945.9 1331.08 947.66 1326.1 948.66 1323.7C949.66 1321.3 951.42 1318.06 952.43 1316.02C953.43 1313.97 955.19 1310.38 956.19 1308.33C957.2 1306.28 958.96 1302.61 959.96 1300.65C960.97 1298.69 962.72 1295.3 963.73 1293.61C964.73 1291.91 966.49 1289.45 967.49 1287.93C968.5 1286.42 970.26 1283.77 971.26 1282.26C972.27 1280.75 974.02 1278.04 975.03 1276.59C976.03 1275.13 977.79 1272.62 978.8 1271.34C979.8 1270.06 981.56 1268.16 982.56 1267C983.57 1265.85 985.32 1263.82 986.33 1262.67C987.33 1261.51 989.09 1259.46 990.1 1258.33C991.1 1257.2 992.86 1255.25 993.86 1254.21C994.87 1253.17 996.63 1251.52 997.63 1250.54C998.63 1249.57 1000.39 1247.86 1001.4 1246.88C1002.4 1245.9 1004.16 1244.15 1005.16 1243.21C1006.17 1242.28 1007.93 1240.66 1008.93 1239.85C1009.94 1239.04 1011.69 1237.86 1012.7 1237.14C1013.7 1236.42 1015.46 1235.16 1016.46 1234.43C1017.47 1233.71 1019.23 1232.38 1020.23 1231.72C1021.24 1231.06 1022.99 1229.94 1024 1229.47C1025 1229 1026.76 1228.54 1027.77 1228.2C1028.77 1227.86 1030.53 1227.11 1031.53 1226.92C1032.54 1226.74 1034.3 1226.73 1035.3 1226.82C1036.3 1226.91 1038.06 1227.16 1039.07 1227.57C1040.07 1227.98 1041.83 1229.28 1042.83 1229.91C1043.84 1230.53 1045.6 1231.21 1046.6 1232.24C1047.61 1233.28 1049.36 1236.18 1050.37 1237.66C1051.37 1239.14 1053.13 1241.7 1054.13 1243.35C1055.14 1244.99 1056.9 1248.09 1057.9 1249.97C1058.91 1251.85 1060.66 1255.46 1061.67 1257.46C1062.67 1259.46 1064.43 1262.95 1065.44 1264.95C1066.44 1266.96 1068.2 1270.48 1069.2 1272.51C1070.21 1274.55 1071.96 1278.16 1072.97 1280.22C1073.97 1282.27 1075.73 1286.08 1076.74 1287.92C1077.74 1289.77 1079.5 1292.63 1080.5 1294.04C1081.51 1295.45 1083.27 1297.73 1084.27 1298.49C1085.27 1299.24 1087.03 1299.75 1088.04 1299.68C1089.04 1299.61 1090.8 1298.61 1091.8 1297.95C1092.81 1297.29 1094.57 1295.93 1095.57 1294.72C1096.58 1293.5 1098.33 1290.38 1099.34 1288.82C1100.34 1287.26 1102.1 1284.53 1103.1 1282.98C1104.11 1281.44 1105.87 1278.75 1106.87 1277.21C1107.88 1275.66 1109.63 1272.92 1110.64 1271.43C1111.64 1269.94 1113.4 1267.36 1114.41 1266.02C1115.41 1264.68 1117.17 1262.63 1118.17 1261.4C1119.18 1260.16 1120.93 1258.01 1121.94 1256.77C1122.94 1255.54 1124.7 1253.33 1125.71 1252.15C1126.71 1250.97 1128.47 1248.94 1129.47 1247.92C1130.48 1246.9 1132.24 1245.41 1133.24 1244.51C1134.24 1243.6 1136 1242 1137.01 1241.09C1138.01 1240.18 1139.77 1238.56 1140.77 1237.68C1141.78 1236.81 1143.54 1235.29 1144.54 1234.52C1145.55 1233.74 1147.3 1232.58 1148.31 1231.87C1149.31 1231.16 1151.07 1229.93 1152.07 1229.22C1153.08 1228.52 1154.84 1227.24 1155.84 1226.58C1156.85 1225.92 1158.6 1224.8 1159.61 1224.3C1160.61 1223.8 1162.37 1223.2 1163.38 1222.8C1164.38 1222.4 1166.14 1221.7 1167.14 1221.3C1168.15 1220.9 1169.91 1220.18 1170.91 1219.8C1171.91 1219.43 1173.67 1218.8 1174.68 1218.51C1175.68 1218.22 1177.44 1217.88 1178.44 1217.65C1179.45 1217.42 1181.21 1217.02 1182.21 1216.79C1183.22 1216.56 1184.97 1216.13 1185.98 1215.93C1186.98 1215.72 1188.74 1215.37 1189.74 1215.24C1190.75 1215.11 1192.51 1215.01 1193.51 1214.92C1194.52 1214.84 1196.27 1214.69 1197.28 1214.6C1198.28 1214.52 1200.04 1214.36 1201.05 1214.28C1202.05 1214.21 1203.81 1214.1 1204.81 1214.07C1205.82 1214.04 1207.57 1214.07 1208.58 1214.07C1209.58 1214.07 1211.34 1214.07 1212.35 1214.07C1213.35 1214.07 1215.11 1214.05 1216.11 1214.07C1217.12 1214.09 1218.88 1214.14 1219.88 1214.23C1220.88 1214.32 1222.64 1214.6 1223.65 1214.74C1224.65 1214.88 1226.41 1215.11 1227.41 1215.25C1228.42 1215.39 1230.18 1215.61 1231.18 1215.76C1232.19 1215.91 1233.94 1216.18 1234.95 1216.37C1235.95 1216.57 1237.71 1216.98 1238.71 1217.2C1239.72 1217.42 1241.48 1217.81 1242.48 1218.03C1243.49 1218.25 1245.24 1218.63 1246.25 1218.86C1247.25 1219.09 1249.01 1219.51 1250.02 1219.78C1251.02 1220.05 1252.78 1220.6 1253.78 1220.9C1254.79 1221.19 1256.54 1221.71 1257.55 1222.01C1258.55 1222.31 1260.31 1222.83 1261.32 1223.13C1262.32 1223.43 1264.08 1223.91 1265.08 1224.24C1266.09 1224.57 1267.85 1225.21 1268.85 1225.61C1269.85 1226 1271.61 1226.78 1272.62 1227.2C1273.62 1227.63 1275.38 1228.37 1276.38 1228.8C1277.39 1229.22 1279.15 1229.97 1280.15 1230.39C1281.16 1230.82 1282.91 1231.56 1283.92 1231.98C1284.92 1232.41 1286.68 1233.15 1287.68 1233.58C1288.69 1234 1290.45 1234.71 1291.45 1235.17C1292.46 1235.64 1294.21 1236.48 1295.22 1237.07C1296.22 1237.67 1297.98 1238.94 1298.99 1239.62C1299.99 1240.3 1301.75 1241.49 1302.75 1242.17C1303.76 1242.85 1305.52 1244 1306.52 1244.72C1307.52 1245.44 1309.28 1246.73 1310.29 1247.58C1311.29 1248.43 1313.05 1250.15 1314.05 1251.09C1315.06 1252.02 1316.82 1253.66 1317.82 1254.59C1318.83 1255.53 1320.58 1257.17 1321.59 1258.1C1322.59 1259.04 1324.35 1260.67 1325.35 1261.61C1326.36 1262.54 1328.12 1264.18 1329.12 1265.11C1330.13 1266.05 1331.88 1267.69 1332.89 1268.62C1333.89 1269.56 1335.65 1271.07 1336.66 1272.13C1337.66 1273.18 1339.42 1275.11 1340.42 1276.55C1341.43 1277.99 1343.18 1281.23 1344.19 1282.93C1345.19 1284.63 1346.95 1287.6 1347.96 1289.3C1348.96 1291 1350.72 1293.98 1351.72 1295.68C1352.73 1297.38 1354.49 1300.36 1355.49 1302.06C1356.49 1303.76 1358.25 1306.73 1359.26 1308.43C1360.26 1310.13 1362.02 1313.11 1363.02 1314.81C1364.03 1316.51 1365.79 1319.35 1366.79 1321.18C1367.8 1323.02 1369.55 1326.32 1370.56 1328.58C1371.56 1330.84 1373.82 1336.87 1374.32 1338.14" stroke="#0000ff" stroke-dasharray="21 11.5"/>
<path d="M135 1296.16C135.5 1295.89 137.76 1294.65 138.77 1294.09C139.77 1293.54 141.53 1292.57 142.53 1292.02C143.54 1291.47 145.3 1290.47 146.3 1289.95C147.31 1289.43 149.06 1288.54 150.07 1288.13C151.07 1287.72 152.83 1287.2 153.83 1286.86C154.84 1286.52 156.6 1285.92 157.6 1285.58C158.61 1285.24 160.36 1284.57 161.37 1284.31C162.37 1284.04 164.13 1283.63 165.14 1283.61C166.14 1283.59 167.9 1284 168.9 1284.14C169.91 1284.28 171.66 1284.18 172.67 1284.67C173.67 1285.16 175.43 1286.93 176.44 1287.79C177.44 1288.66 179.2 1290.25 180.2 1291.14C181.21 1292.03 182.97 1293.48 183.97 1294.49C184.97 1295.5 186.73 1297.54 187.74 1298.72C188.74 1299.89 190.5 1302.11 191.5 1303.28C192.51 1304.46 194.27 1306.48 195.27 1307.51C196.28 1308.55 198.03 1310.09 199.04 1311.02C200.04 1311.96 201.8 1313.59 202.81 1314.53C203.81 1315.46 205.57 1317.14 206.57 1318.03C207.58 1318.93 209.33 1320.47 210.34 1321.24C211.34 1322 213.1 1323.11 214.11 1323.79C215.11 1324.47 216.87 1325.66 217.87 1326.34C218.88 1327.02 220.64 1328.25 221.64 1328.89C222.64 1329.53 224.4 1330.62 225.41 1331.13C226.41 1331.64 228.17 1332.3 229.17 1332.72C230.18 1333.15 231.94 1333.89 232.94 1334.32C233.95 1334.74 235.7 1335.53 236.71 1335.91C237.71 1336.3 239.47 1336.94 240.47 1337.2C241.48 1337.46 243.24 1337.67 244.24 1337.84C245.25 1338.01 247 1338.31 248.01 1338.48C249.01 1338.65 250.77 1339.03 251.78 1339.11C252.78 1339.2 254.54 1339.31 255.54 1339.14C256.55 1338.97 258.3 1338.2 259.31 1337.86C260.31 1337.52 262.07 1336.93 263.08 1336.59C264.08 1336.25 265.84 1335.64 266.84 1335.31C267.85 1334.99 269.61 1334.42 270.61 1334.14C271.61 1333.86 273.37 1333.44 274.38 1333.18C275.38 1332.93 277.14 1332.48 278.14 1332.23C279.15 1331.97 280.91 1331.48 281.91 1331.27C282.92 1331.07 284.67 1330.74 285.68 1330.69C286.68 1330.64 288.44 1330.86 289.44 1330.92C290.45 1330.97 292.21 1331.08 293.21 1331.14C294.22 1331.2 295.97 1331.28 296.98 1331.36C297.98 1331.44 299.74 1331.6 300.75 1331.75C301.75 1331.9 303.51 1332.29 304.51 1332.48C305.52 1332.68 307.27 1333.02 308.28 1333.21C309.28 1333.41 311.04 1333.74 312.05 1333.95C313.05 1334.15 314.81 1334.52 315.81 1334.75C316.82 1334.99 318.58 1335.45 319.58 1335.71C320.58 1335.96 322.34 1336.41 323.35 1336.67C324.35 1336.92 326.11 1337.25 327.11 1337.62C328.12 1337.99 329.88 1338.71 330.88 1339.45C331.89 1340.18 333.64 1342.13 334.65 1343.11C335.65 1344.09 337.41 1345.8 338.41 1346.78C339.42 1347.76 341.18 1349.31 342.18 1350.44C343.19 1351.58 344.94 1353.66 345.95 1355.28C346.95 1356.91 348.71 1360.66 349.72 1362.62C350.72 1364.57 352.48 1367.99 353.48 1369.95C354.49 1371.9 356.25 1375.36 357.25 1377.28C358.25 1379.2 360.01 1382.54 361.02 1384.36C362.02 1386.17 363.78 1389.15 364.78 1390.89C365.79 1392.64 367.55 1395.69 368.55 1397.43C369.56 1399.17 371.31 1402.21 372.32 1403.96C373.32 1405.71 375.08 1408.58 376.08 1410.55C377.09 1412.52 378.85 1416.18 379.85 1418.73C380.86 1421.27 382.61 1426.68 383.62 1429.62C384.62 1432.56 386.38 1437.65 387.39 1440.76C388.39 1443.86 390.15 1449.42 391.15 1452.93C392.16 1456.44 393.91 1463.28 394.92 1467.1C395.92 1470.93 397.68 1477.72 398.69 1481.64C399.69 1485.57 401.45 1493.14 402.45 1496.54C403.46 1499.94 405.22 1505.03 406.22 1507.15C407.22 1509.27 408.98 1511.01 409.99 1512.42C410.99 1513.82 412.75 1516.28 413.75 1517.69C414.76 1519.09 416.52 1521.5 417.52 1522.96C418.53 1524.41 420.28 1526.99 421.29 1528.6C422.29 1530.2 424.05 1533.31 425.05 1535.02C426.06 1536.73 427.82 1540.51 428.82 1541.44C429.83 1542.36 431.58 1542.22 432.59 1541.95C433.59 1541.69 435.35 1540.83 436.36 1539.45C437.36 1538.08 439.12 1534.66 440.12 1531.64C441.13 1528.62 442.88 1521.47 443.89 1516.8C444.89 1512.14 446.65 1503.02 447.66 1496.66C448.66 1490.31 450.42 1476.2 451.42 1469.14C452.43 1462.09 454.19 1450.36 455.19 1443.75C456.19 1437.13 457.95 1424.95 458.96 1419.53C459.96 1414.1 461.72 1407 462.72 1403.08C463.73 1399.15 465.49 1393.08 466.49 1390.1C467.5 1387.11 469.25 1383.2 470.26 1380.69C471.26 1378.18 473.02 1373.79 474.02 1371.29C475.03 1368.78 476.79 1364.23 477.79 1361.88C478.8 1359.54 480.55 1355.54 481.56 1353.7C482.56 1351.87 484.32 1349.61 485.33 1348.12C486.33 1346.64 488.09 1344.03 489.09 1342.54C490.1 1341.06 491.86 1338.32 492.86 1336.96C493.86 1335.61 495.62 1333.33 496.63 1332.41C497.63 1331.48 499.39 1330.65 500.39 1330.02C501.4 1329.38 503.16 1327.75 504.16 1327.62C505.17 1327.49 506.92 1328.49 507.93 1329.05C508.93 1329.6 510.69 1330.78 511.69 1331.8C512.7 1332.82 514.46 1335.38 515.46 1336.68C516.47 1337.98 518.22 1340.25 519.23 1341.55C520.23 1342.86 521.99 1344.94 523 1346.43C524 1347.93 525.76 1350.67 526.76 1352.78C527.77 1354.89 529.52 1359.72 530.53 1362.25C531.53 1364.77 533.29 1369.19 534.3 1371.72C535.3 1374.24 537.06 1378.64 538.06 1381.18C539.07 1383.73 540.83 1388.2 541.83 1390.82C542.83 1393.44 544.59 1398.14 545.6 1400.81C546.6 1403.47 548.36 1407.97 549.36 1410.8C550.37 1413.63 552.13 1419.03 553.13 1422.03C554.14 1425.04 555.89 1430.98 556.9 1433.31C557.9 1435.64 559.66 1437.85 560.66 1439.51C561.67 1441.18 563.43 1444.62 564.43 1445.79C565.44 1446.96 567.19 1447.67 568.2 1448.3C569.2 1448.92 570.96 1449.85 571.97 1450.48C572.97 1451.11 574.73 1452.3 575.73 1453.02C576.74 1453.75 578.49 1455.14 579.5 1455.91C580.5 1456.68 582.26 1457.99 583.27 1458.82C584.27 1459.64 586.03 1461.12 587.03 1462.11C588.04 1463.09 589.8 1465.12 590.8 1466.21C591.8 1467.31 593.56 1469.58 594.57 1470.35C595.57 1471.12 597.33 1471.86 598.33 1471.99C599.34 1472.12 601.1 1472.09 602.1 1471.32C603.11 1470.55 604.86 1467.59 605.87 1466.24C606.87 1464.89 608.63 1463.21 609.63 1461.2C610.64 1459.19 612.4 1453.75 613.4 1451.15C614.41 1448.56 616.16 1443.97 617.17 1441.72C618.17 1439.47 619.93 1436.23 620.94 1434.26C621.94 1432.28 623.7 1428.85 624.7 1426.9C625.71 1424.95 627.47 1421.44 628.47 1419.65C629.47 1417.86 631.23 1414.84 632.24 1413.46C633.24 1412.08 635 1410.42 636 1409.31C637.01 1408.21 638.77 1406.27 639.77 1405.17C640.78 1404.06 642.53 1402.18 643.54 1401.02C644.54 1399.87 646.3 1397.8 647.3 1396.47C648.31 1395.14 650.07 1392.5 651.07 1391.05C652.08 1389.61 653.83 1387.08 654.84 1385.63C655.84 1384.19 657.6 1381.59 658.61 1380.21C659.61 1378.83 661.37 1376.45 662.37 1375.27C663.38 1374.09 665.13 1372.4 666.14 1371.35C667.14 1370.31 668.9 1368.48 669.91 1367.43C670.91 1366.39 672.67 1364.53 673.67 1363.51C674.68 1362.49 676.44 1360.71 677.44 1359.75C678.44 1358.8 680.2 1357.25 681.21 1356.34C682.21 1355.43 683.97 1353.84 684.97 1352.93C685.98 1352.02 687.74 1350.39 688.74 1349.52C689.75 1348.65 691.5 1347.14 692.51 1346.38C693.51 1345.62 695.27 1344.51 696.27 1343.83C697.28 1343.15 699.04 1341.96 700.04 1341.28C701.05 1340.6 702.8 1339.39 703.81 1338.73C704.81 1338.07 706.57 1336.93 707.58 1336.34C708.58 1335.75 710.34 1334.85 711.34 1334.3C712.35 1333.76 714.1 1332.81 715.11 1332.26C716.11 1331.72 717.87 1330.75 718.88 1330.22C719.88 1329.7 721.64 1328.78 722.64 1328.31C723.65 1327.83 725.41 1327.09 726.41 1326.65C727.41 1326.21 729.17 1325.43 730.18 1324.99C731.18 1324.55 732.94 1323.92 733.94 1323.33C734.95 1322.75 736.71 1321.64 737.71 1320.61C738.72 1319.58 740.47 1316.94 741.48 1315.61C742.48 1314.28 744.24 1312.36 745.24 1310.62C746.25 1308.87 748.01 1304.74 749.01 1302.52C750.02 1300.3 751.77 1296.3 752.78 1293.97C753.78 1291.64 755.54 1287.43 756.55 1285.05C757.55 1282.66 759.31 1278.12 760.31 1276.12C761.32 1274.12 763.08 1271.35 764.08 1270.05C765.08 1268.75 766.84 1266.75 767.85 1266.38C768.85 1266 770.61 1266.68 771.61 1267.25C772.62 1267.83 774.38 1269.63 775.38 1270.67C776.39 1271.72 778.14 1273.75 779.15 1275.08C780.15 1276.41 781.91 1278.84 782.91 1280.65C783.92 1282.47 785.68 1286.54 786.68 1288.69C787.69 1290.83 789.44 1294.58 790.45 1296.72C791.45 1298.86 793.21 1302.48 794.22 1304.75C795.22 1307.03 796.98 1311.1 797.98 1313.79C798.99 1316.48 800.74 1321.97 801.75 1324.95C802.75 1327.92 804.51 1333.55 805.52 1336.1C806.52 1338.66 808.28 1342.03 809.28 1344.13C810.29 1346.24 812.05 1350.18 813.05 1351.89C814.05 1353.6 815.81 1355.93 816.82 1356.94C817.82 1357.95 819.58 1358.81 820.58 1359.49C821.59 1360.17 823.35 1361.47 824.35 1362.04C825.36 1362.61 827.11 1363.54 828.12 1363.78C829.12 1364.01 830.88 1363.78 831.88 1363.78C832.89 1363.78 834.65 1363.58 835.65 1363.78C836.66 1363.97 838.41 1364.83 839.42 1365.24C840.42 1365.65 842.18 1366.2 843.19 1366.84C844.19 1367.47 845.95 1368.95 846.95 1369.98C847.96 1371.02 849.71 1373.35 850.72 1374.57C851.72 1375.79 853.48 1377.81 854.49 1379.15C855.49 1380.49 857.25 1382.91 858.25 1384.61C859.26 1386.32 861.02 1389.99 862.02 1391.95C863.02 1393.9 864.78 1397.32 865.79 1399.28C866.79 1401.23 868.55 1404.31 869.55 1406.61C870.56 1408.91 872.32 1412.29 873.32 1416.54C874.33 1420.78 876.08 1432.49 877.09 1438.47C878.09 1444.44 879.85 1455.58 880.86 1461.38C881.86 1467.18 883.62 1477.13 884.62 1481.95C885.63 1486.76 887.38 1496.1 888.39 1497.48C889.39 1498.85 891.15 1494.77 892.16 1492.25C893.16 1489.73 894.92 1483.44 895.92 1478.6C896.93 1473.76 898.69 1461.98 899.69 1455.96C900.69 1449.94 902.45 1439.08 903.46 1433.45C904.46 1427.83 906.22 1417.96 907.22 1413.77C908.23 1409.58 909.99 1405.15 910.99 1402.02C912 1398.88 913.75 1393.27 914.76 1390.26C915.76 1387.25 917.52 1382.05 918.52 1379.41C919.53 1376.77 921.29 1372.86 922.29 1370.48C923.3 1368.1 925.05 1363.54 926.06 1361.56C927.06 1359.57 928.82 1357.16 929.83 1355.61C930.83 1354.06 932.59 1351.21 933.59 1349.93C934.6 1348.64 936.35 1346.8 937.36 1345.96C938.36 1345.11 940.12 1344.2 941.13 1343.56C942.13 1342.93 943.89 1341.75 944.89 1341.17C945.9 1340.6 947.66 1339.63 948.66 1339.24C949.66 1338.86 951.42 1338.54 952.43 1338.28C953.43 1338.03 955.19 1337.58 956.19 1337.33C957.2 1337.07 958.96 1336.63 959.96 1336.37C960.97 1336.11 962.72 1335.66 963.73 1335.38C964.73 1335.11 966.49 1334.61 967.49 1334.33C968.5 1334.05 970.26 1333.56 971.26 1333.28C972.27 1333 974.02 1332.49 975.03 1332.23C976.03 1331.97 977.79 1331.53 978.8 1331.34C979.8 1331.15 981.56 1330.94 982.56 1330.8C983.57 1330.65 985.32 1330.4 986.33 1330.26C987.33 1330.11 989.09 1329.85 990.1 1329.71C991.1 1329.57 992.86 1329.33 993.86 1329.2C994.87 1329.08 996.63 1328.88 997.63 1328.76C998.63 1328.64 1000.39 1328.43 1001.4 1328.31C1002.4 1328.19 1004.16 1328.06 1005.16 1327.86C1006.17 1327.67 1007.93 1327.28 1008.93 1326.85C1009.94 1326.41 1011.69 1325.21 1012.7 1324.61C1013.7 1324.02 1015.46 1323.23 1016.46 1322.38C1017.47 1321.53 1019.23 1319.52 1020.23 1318.24C1021.24 1316.97 1022.99 1314.6 1024 1312.85C1025 1311.11 1026.76 1307.2 1027.77 1305.15C1028.77 1303.09 1030.53 1299.38 1031.53 1297.44C1032.54 1295.5 1034.3 1292.41 1035.3 1290.6C1036.3 1288.78 1038.06 1285.65 1039.07 1283.86C1040.07 1282.08 1041.83 1278.99 1042.83 1277.22C1043.84 1275.45 1045.6 1271.94 1046.6 1270.58C1047.61 1269.22 1049.36 1267.93 1050.37 1267.02C1051.37 1266.1 1053.13 1264.44 1054.13 1263.72C1055.14 1263.01 1056.9 1262.07 1057.9 1261.67C1058.91 1261.28 1060.66 1260.97 1061.67 1260.77C1062.67 1260.57 1064.43 1260.04 1065.44 1260.15C1066.44 1260.26 1068.2 1261.2 1069.2 1261.58C1070.21 1261.96 1071.96 1262.4 1072.97 1263.02C1073.97 1263.63 1075.73 1265.27 1076.74 1266.21C1077.74 1267.15 1079.5 1268.98 1080.5 1270.09C1081.51 1271.19 1083.27 1273.17 1084.27 1274.49C1085.27 1275.82 1087.03 1278.55 1088.04 1280.02C1089.04 1281.49 1090.8 1284.03 1091.8 1285.55C1092.81 1287.07 1094.57 1289.86 1095.57 1291.41C1096.58 1292.97 1098.33 1295.7 1099.34 1297.22C1100.34 1298.74 1102.1 1301.34 1103.1 1302.83C1104.11 1304.33 1105.87 1306.95 1106.87 1308.44C1107.88 1309.94 1109.63 1312.59 1110.64 1314.05C1111.64 1315.51 1113.4 1318.05 1114.41 1319.4C1115.41 1320.75 1117.17 1322.91 1118.17 1324.18C1119.18 1325.46 1120.93 1327.69 1121.94 1328.96C1122.94 1330.24 1124.7 1332.53 1125.71 1333.75C1126.71 1334.96 1128.47 1337.04 1129.47 1338.06C1130.48 1339.07 1132.24 1340.49 1133.24 1341.37C1134.24 1342.26 1136 1343.8 1137.01 1344.69C1138.01 1345.57 1139.77 1347.15 1140.77 1348C1141.78 1348.86 1143.54 1350.34 1144.54 1351.11C1145.55 1351.87 1147.3 1353.05 1148.31 1353.75C1149.31 1354.46 1151.07 1355.69 1152.07 1356.4C1153.08 1357.1 1154.84 1358.36 1155.84 1359.04C1156.85 1359.73 1158.6 1360.92 1159.61 1361.54C1160.61 1362.16 1162.37 1363.13 1163.38 1363.7C1164.38 1364.28 1166.14 1365.29 1167.14 1365.87C1168.15 1366.45 1169.91 1367.52 1170.91 1368.04C1171.91 1368.56 1173.67 1369.43 1174.68 1369.77C1175.68 1370.11 1177.44 1370.35 1178.44 1370.57C1179.45 1370.78 1181.21 1371.15 1182.21 1371.36C1183.22 1371.58 1184.97 1371.98 1185.98 1372.16C1186.98 1372.34 1188.74 1372.62 1189.74 1372.68C1190.75 1372.74 1192.51 1372.64 1193.51 1372.62C1194.52 1372.6 1196.27 1372.57 1197.28 1372.55C1198.28 1372.54 1200.04 1372.49 1201.05 1372.49C1202.05 1372.49 1203.81 1372.51 1204.81 1372.57C1205.82 1372.63 1207.57 1372.85 1208.58 1372.95C1209.58 1373.05 1211.34 1373.23 1212.35 1373.33C1213.35 1373.44 1215.11 1373.6 1216.11 1373.72C1217.12 1373.84 1218.88 1374.06 1219.88 1374.23C1220.88 1374.41 1222.64 1374.82 1223.65 1375.03C1224.65 1375.24 1226.41 1375.61 1227.41 1375.83C1228.42 1376.04 1230.18 1376.41 1231.18 1376.62C1232.19 1376.84 1233.94 1377.19 1234.95 1377.42C1235.95 1377.65 1237.71 1378.08 1238.71 1378.34C1239.72 1378.59 1241.48 1379.09 1242.48 1379.36C1243.49 1379.63 1245.24 1380.11 1246.25 1380.39C1247.25 1380.66 1249.01 1381.14 1250.02 1381.41C1251.02 1381.68 1252.78 1382.16 1253.78 1382.43C1254.79 1382.71 1256.54 1383.19 1257.55 1383.46C1258.55 1383.73 1260.31 1384.21 1261.32 1384.48C1262.32 1384.76 1264.08 1385.24 1265.08 1385.51C1266.09 1385.78 1267.85 1386.26 1268.85 1386.53C1269.85 1386.81 1271.61 1387.29 1272.62 1387.56C1273.62 1387.83 1275.38 1388.29 1276.38 1388.58C1277.39 1388.88 1279.15 1389.42 1280.15 1389.79C1281.16 1390.16 1282.91 1390.96 1283.92 1391.38C1284.92 1391.81 1286.68 1392.55 1287.68 1392.98C1288.69 1393.4 1290.45 1394.15 1291.45 1394.57C1292.46 1395 1294.21 1395.74 1295.22 1396.17C1296.22 1396.59 1297.98 1397.34 1298.99 1397.76C1299.99 1398.19 1301.75 1398.93 1302.75 1399.35C1303.76 1399.78 1305.52 1400.52 1306.52 1400.95C1307.52 1401.37 1309.28 1402.12 1310.29 1402.54C1311.29 1402.97 1313.05 1403.71 1314.05 1404.14C1315.06 1404.56 1316.82 1405.31 1317.82 1405.73C1318.83 1406.16 1320.58 1406.9 1321.59 1407.32C1322.59 1407.75 1324.35 1408.49 1325.35 1408.92C1326.36 1409.34 1328.12 1410.09 1329.12 1410.51C1330.13 1410.94 1331.88 1411.68 1332.89 1412.11C1333.89 1412.53 1335.65 1413.07 1336.66 1413.7C1337.66 1414.33 1339.42 1415.55 1340.42 1416.82C1341.43 1418.1 1343.18 1421.52 1344.19 1423.25C1345.19 1424.98 1346.95 1428.02 1347.96 1429.76C1348.96 1431.51 1350.72 1434.59 1351.72 1436.37C1352.73 1438.14 1354.49 1441.26 1355.49 1443.06C1356.49 1444.85 1358.25 1448.01 1359.26 1449.83C1360.26 1451.65 1362.02 1454.85 1363.02 1456.7C1364.03 1458.54 1365.79 1461.78 1366.79 1463.65C1367.8 1465.51 1369.55 1468.8 1370.56 1470.68C1371.56 1472.57 1373.82 1476.86 1374.32 1477.81" stroke="#0000ff" stroke-dasharray="21 11.5"/>
<path d="M135 1289.81C137.01 1286.84 146.05 1273.86 150.07 1267.5C154.09 1261.14 161.12 1247.65 165.14 1242.12C169.15 1236.6 176.19 1228.91 180.2 1226.05C184.22 1223.2 191.25 1221.04 195.27 1220.7C199.29 1220.36 206.32 1222.45 210.34 1223.5C214.36 1224.56 221.39 1227.07 225.41 1228.6C229.42 1230.14 236.46 1232.65 240.47 1234.98C244.49 1237.31 251.52 1243.18 255.54 1246.08C259.56 1248.97 266.59 1253.63 270.61 1256.66C274.63 1259.69 281.66 1265.03 285.68 1268.77C289.7 1272.51 296.73 1279.87 300.75 1284.71C304.76 1289.56 311.8 1299.59 315.81 1305.12C319.83 1310.64 326.86 1320.55 330.88 1326.16C334.9 1331.77 341.93 1341.16 345.95 1347.2C349.97 1353.23 357 1365.31 361.02 1371.43C365.03 1377.55 372.07 1385.96 376.08 1393.11C380.1 1400.25 387.13 1415.04 391.15 1424.99C395.17 1434.93 403.81 1461.07 406.22 1467.7C408.63 1474.34 408.43 1474.29 409.23 1474.72C410.04 1475.14 410.64 1476.84 412.25 1470.89C413.85 1464.94 418.07 1441.9 421.29 1430.09C424.5 1418.27 432.34 1393.66 436.36 1382.27C440.37 1370.87 447.41 1354.59 451.42 1344.65C455.44 1334.7 462.47 1317.26 466.49 1307.67C470.51 1298.08 477.54 1280.38 481.56 1272.73C485.58 1265.08 493.81 1253.79 496.63 1250.28C499.44 1246.78 500.64 1246.46 502.65 1246.46C504.66 1246.46 508.48 1246.78 511.69 1250.28C514.91 1253.79 522.74 1265.81 526.76 1272.73C530.78 1279.65 537.81 1294.7 541.83 1302.18C545.85 1309.67 552.88 1321.71 556.9 1328.84C560.92 1335.96 567.95 1346.71 571.97 1355.61C575.98 1364.52 583.82 1386.41 587.03 1395.66C590.25 1404.91 593.66 1418.76 596.07 1424.99C598.48 1431.21 603.11 1439.61 605.11 1442.33C607.12 1445.05 609.53 1445.07 611.14 1445.39C612.75 1445.71 615.16 1446.11 617.17 1444.75C619.18 1443.39 624.2 1437.82 626.21 1435.19C628.22 1432.55 629.42 1430.26 632.24 1424.99C635.05 1419.71 643.29 1402.46 647.3 1395.66C651.32 1388.85 658.35 1379.15 662.37 1373.98C666.39 1368.81 673.42 1360.8 677.44 1356.89C681.46 1352.98 688.49 1347.64 692.51 1344.65C696.53 1341.66 703.56 1336.91 707.58 1334.45C711.59 1331.98 718.63 1327.98 722.64 1326.16C726.66 1324.34 734.5 1322.59 737.71 1320.8C740.93 1319.02 744.74 1315.25 746.75 1312.77C748.76 1310.29 750.77 1306.43 752.78 1302.18C754.79 1297.93 759.81 1285.51 761.82 1280.89C763.83 1276.26 765.84 1270.9 767.85 1267.5C769.86 1264.1 774.88 1257.46 776.89 1255.38C778.9 1253.31 781.31 1252.4 782.91 1251.94C784.52 1251.48 786.93 1251.36 788.94 1251.94C790.95 1252.52 794.77 1253.51 797.98 1256.28C801.2 1259.05 809.03 1266.96 813.05 1272.73C817.07 1278.49 824.1 1292.02 828.12 1299.51C832.14 1306.99 839.17 1320.66 843.19 1328.84C847.2 1337.01 854.24 1352.27 858.25 1360.84C862.27 1369.41 870.11 1384.89 873.32 1393.11C876.54 1401.32 880.35 1414.61 882.36 1422.44C884.37 1430.26 886.78 1443.6 888.39 1451.76C890 1459.93 893.21 1474.97 894.42 1483.64C895.62 1492.32 896.55 1498.78 897.43 1516.8C898.31 1534.82 899.52 1605.21 901.05 1618.82C902.57 1632.42 907.35 1632.42 908.88 1618.82C910.41 1605.21 911.21 1538.39 912.5 1516.8C913.78 1495.21 916.92 1470.13 918.52 1456.87C920.13 1443.6 922.54 1428.05 924.55 1417.33C926.56 1406.62 931.18 1386.22 933.59 1376.53C936 1366.84 940.62 1351.36 942.63 1344.65C944.64 1337.93 945.85 1332.72 948.66 1326.16C951.47 1319.59 959.71 1302.55 963.73 1295.43C967.75 1288.3 974.78 1278.07 978.8 1272.73C982.81 1267.39 989.85 1259.65 993.86 1255.38C997.88 1251.12 1004.91 1244.12 1008.93 1240.72C1012.95 1237.32 1020.78 1231.73 1024 1229.88C1027.21 1228.03 1031.03 1227.23 1033.04 1226.82C1035.05 1226.41 1037.06 1226.07 1039.07 1226.82C1041.08 1227.57 1045.7 1229.86 1048.11 1232.43C1050.52 1235 1054.34 1241.06 1057.15 1246.08C1059.96 1251.09 1066.39 1264.39 1069.2 1270.05C1072.01 1275.71 1076.23 1284.8 1078.24 1288.54C1080.25 1292.28 1082.66 1296.57 1084.27 1298.1C1085.88 1299.63 1088.69 1300.37 1090.3 1300.02C1091.9 1299.66 1094.72 1297.3 1096.32 1295.43C1097.93 1293.55 1099.94 1289.71 1102.35 1285.99C1104.76 1282.27 1110.79 1272.43 1114.41 1267.5C1118.02 1262.57 1125.46 1253.29 1129.47 1249.01C1133.49 1244.72 1140.52 1238.59 1144.54 1235.36C1148.56 1232.13 1155.59 1226.99 1159.61 1224.78C1163.63 1222.57 1170.66 1220.04 1174.68 1218.79C1178.69 1217.53 1185.73 1215.97 1189.74 1215.34C1193.76 1214.71 1200.79 1214.24 1204.81 1214.07C1208.83 1213.9 1215.86 1213.8 1219.88 1214.07C1223.9 1214.34 1230.93 1215.39 1234.95 1216.11C1238.97 1216.82 1245.6 1218.27 1250.02 1219.42C1254.44 1220.58 1264.08 1223.38 1268.1 1224.78C1272.11 1226.17 1276.53 1228.35 1280.15 1229.88C1283.77 1231.41 1291.2 1234.05 1295.22 1236.26C1299.24 1238.47 1304.26 1241.36 1310.29 1246.46C1316.31 1251.56 1332.39 1263.97 1340.42 1274.51C1348.46 1285.05 1366.54 1318.72 1370.56 1325.52" stroke="#0000ff"/>
<path d="M135 1296.83C137.01 1295.72 146.05 1290.32 150.07 1288.54C154.09 1286.75 161.92 1283.95 165.14 1283.44C168.35 1282.93 171.36 1283.12 174.18 1284.71C176.99 1286.31 183.42 1292.53 186.23 1295.43C189.04 1298.32 192.06 1303.06 195.27 1306.39C198.49 1309.72 206.32 1317.19 210.34 1320.42C214.36 1323.65 221.39 1328.41 225.41 1330.62C229.42 1332.83 236.46 1335.81 240.47 1337C244.49 1338.19 251.52 1339.89 255.54 1339.55C259.56 1339.21 266.59 1335.64 270.61 1334.45C274.63 1333.26 281.66 1331.01 285.68 1330.62C289.7 1330.23 296.73 1331 300.75 1331.51C304.76 1332.02 311.8 1333.55 315.81 1334.45C319.83 1335.35 326.86 1335.81 330.88 1338.27C334.9 1340.74 341.93 1347.07 345.95 1352.94C349.97 1358.8 357 1374.87 361.02 1382.27C365.03 1389.66 372.07 1401.35 376.08 1408.41C380.1 1415.46 387.13 1427.28 391.15 1435.19C395.17 1443.09 402.2 1460.9 406.22 1467.7C410.24 1474.51 418.07 1481.93 421.29 1486.2C424.5 1490.46 428.32 1497.91 430.33 1499.71C432.34 1501.51 434.75 1501.17 436.36 1499.71C437.96 1498.25 440.37 1495.14 442.38 1488.75C444.39 1482.35 448.21 1464.52 451.42 1451.76C454.64 1439.01 462.47 1405.94 466.49 1393.11C470.51 1380.27 477.54 1363.48 481.56 1355.49C485.58 1347.5 493.41 1336.91 496.63 1333.17C499.84 1329.43 503.66 1327.82 505.67 1327.43C507.68 1327.04 508.88 1327.26 511.69 1330.24C514.51 1333.21 522.74 1342.1 526.76 1349.75C530.78 1357.4 538.62 1379.38 541.83 1387.62C545.04 1395.87 548.86 1406.61 550.87 1411.6C552.88 1416.58 554.89 1422.01 556.9 1424.99C558.91 1427.96 563.53 1432.31 565.94 1433.91C568.35 1435.51 572.17 1435.85 574.98 1436.97C577.79 1438.09 584.22 1440.87 587.03 1442.33C589.85 1443.79 594.06 1447.02 596.07 1447.94C598.08 1448.86 600.09 1449.96 602.1 1449.21C604.11 1448.47 609.13 1444.54 611.14 1442.33C613.15 1440.12 614.36 1436.31 617.17 1432.64C619.98 1428.96 628.22 1419.37 632.24 1414.78C636.25 1410.19 643.29 1403.31 647.3 1398.21C651.32 1393.11 658.35 1381.51 662.37 1376.53C666.39 1371.55 673.42 1364.75 677.44 1360.84C681.46 1356.93 688.49 1350.38 692.51 1347.2C696.53 1344.02 703.56 1339.45 707.58 1337C711.59 1334.55 718.63 1330.81 722.64 1328.84C726.66 1326.86 734.5 1324.69 737.71 1322.2C740.93 1319.72 744.74 1313.6 746.75 1310.22C748.76 1306.83 750.77 1301.47 752.78 1296.83C754.79 1292.19 759.81 1279.5 761.82 1275.4C763.83 1271.31 766.24 1267.15 767.85 1266.1C769.45 1265.04 771.86 1265.9 773.87 1267.5C775.88 1269.1 779.7 1272.39 782.91 1278.08C786.13 1283.78 794.77 1302.36 797.98 1310.22C801.2 1318.07 804.61 1330.94 807.02 1337C809.43 1343.05 813.25 1352.04 816.06 1355.61C818.88 1359.19 825.31 1362.69 828.12 1363.78C830.93 1364.86 834.75 1363.27 837.16 1363.78C839.57 1364.29 843.39 1365.14 846.2 1367.6C849.01 1370.07 854.64 1376.4 858.25 1382.27C861.87 1388.13 870.11 1403.4 873.32 1411.6C876.54 1419.79 880.35 1437.01 882.36 1443.73C884.37 1450.45 887.18 1459.3 888.39 1461.97C889.59 1464.64 890.2 1465.11 891.4 1463.75C892.61 1462.39 895.42 1457.61 897.43 1451.76C899.44 1445.92 903.66 1429.15 906.47 1419.88C909.28 1410.62 915.71 1390.14 918.52 1382.27C921.34 1374.39 925.15 1365.52 927.57 1360.84C929.98 1356.17 933.79 1350.04 936.61 1347.2C939.42 1344.36 945.04 1341.08 948.66 1339.55C952.28 1338.02 959.71 1336.79 963.73 1335.72C967.75 1334.65 974.78 1332.36 978.8 1331.51C982.81 1330.66 989.85 1329.87 993.86 1329.35C997.88 1328.82 1005.72 1328.51 1008.93 1327.56C1012.15 1326.61 1015.96 1323.84 1017.97 1322.2C1019.98 1320.57 1021.99 1318.7 1024 1315.32C1026.01 1311.93 1031.03 1300.74 1033.04 1296.83C1035.05 1292.92 1037.06 1289.56 1039.07 1285.99C1041.08 1282.42 1045.7 1273.23 1048.11 1270.05C1050.52 1266.87 1054.74 1263.49 1057.15 1262.14C1059.56 1260.8 1063.78 1259.8 1066.19 1259.97C1068.6 1260.14 1072.82 1261.72 1075.23 1263.42C1077.64 1265.12 1081.86 1269.72 1084.27 1272.73C1086.68 1275.74 1091.3 1282.96 1093.31 1285.99C1095.32 1289.02 1096.53 1291.17 1099.34 1295.43C1102.15 1299.68 1110.39 1312.33 1114.41 1317.87C1118.42 1323.41 1125.46 1332.68 1129.47 1337C1133.49 1341.32 1140.52 1347.08 1144.54 1350.26C1148.56 1353.44 1155.59 1358.28 1159.61 1360.84C1163.63 1363.41 1170.66 1367.93 1174.68 1369.51C1178.69 1371.1 1185.73 1372.31 1189.74 1372.7C1193.76 1373.09 1200.79 1372.28 1204.81 1372.45C1208.83 1372.62 1215.46 1373.26 1219.88 1373.98C1224.3 1374.69 1229.93 1375.76 1237.96 1377.8C1246 1379.84 1266.49 1384.35 1280.15 1389.28C1293.81 1394.21 1332.39 1411.38 1340.42 1414.78" stroke="#0000ff"/>
<path d="M1417.5 1490C1417.7 1491.12 1418.01 1494.67 1419 1498.4C1419.99 1502.13 1424.11 1515.39 1424.9 1518" stroke="#0000ff"/>
<path d="M1421 1490C1421.27 1491.33 1422.07 1496.27 1423 1500C1423.93 1503.73 1427.33 1515.6 1428 1518" stroke="#0000ff" stroke-dasharray="21 11.5"/>
<path d="M1437.4 1518C1437.64 1514.27 1438.96 1493.73 1439.2 1490" stroke="#0000ff"/>
<path d="M1440.4 1518C1440.69 1514.27 1442.31 1493.73 1442.6 1490" stroke="#0000ff" stroke-dasharray="21 11.5"/>
<path d="M1445 1490C1445.89 1491.75 1450.1 1500.37 1451.7 1503.1C1453.3 1505.83 1455.75 1509.01 1457 1510.5C1458.25 1511.99 1460.09 1514.05 1461.1 1514.3C1462.11 1514.55 1463.67 1513.27 1464.6 1512.4C1465.53 1511.53 1467.01 1511.85 1468.1 1507.8C1469.19 1503.75 1471.88 1487.04 1472.8 1482C1473.72 1476.96 1474.71 1471.6 1475 1470" stroke="#000"/>
<path d="M1466 1352C1466.44 1350.33 1468.09 1343.66 1469.3 1339.5C1470.51 1335.34 1473.39 1326.4 1475.1 1320.8C1476.81 1315.2 1479.91 1303.1 1482.1 1297.5C1484.29 1291.9 1490.25 1281.29 1491.5 1278.8" stroke="#0000ff"/>
<path d="M1466 1358C1466.53 1356 1468.67 1347.6 1470 1343C1471.33 1338.4 1474.27 1329.1 1476 1323.5C1477.73 1317.9 1480.93 1306.27 1483 1301C1485.07 1295.73 1490.37 1286.27 1491.5 1284" stroke="#0000ff" stroke-dasharray="21 11.5"/>
<path d="M1466 1381C1466.44 1379.83 1467.46 1377.41 1469.3 1372.2C1471.14 1366.99 1476.84 1349.99 1479.8 1341.9C1482.76 1333.81 1489.94 1315.55 1491.5 1311.5" stroke="#000"/>
<path d="M1466 1368C1466.8 1367.47 1470 1365.2 1472 1364C1474 1362.8 1479.8 1359.67 1481 1359" stroke="#000" stroke-dasharray="21 11.5"/>
<path d="M1466 1276C1466.59 1277 1468.56 1280.02 1470.4 1283.5C1472.24 1286.98 1476.99 1297.13 1479.8 1302.1C1482.61 1307.07 1489.94 1318.31 1491.5 1320.8" stroke="#000" stroke-dasharray="2.8 5.4"/>
<path d="M1472.8 1518C1472.93 1514.27 1473.49 1496.35 1473.8 1490C1474.11 1483.65 1474.3 1479.25 1475.1 1470.4C1475.9 1461.55 1478.56 1433.57 1479.8 1423.6C1481.04 1413.63 1482.84 1403.07 1484.4 1395.6C1485.96 1388.13 1490.55 1371.33 1491.5 1367.6" stroke="#0000ff"/>
<path d="M1471.3 1518C1471.43 1514.27 1471.97 1496.93 1472.3 1490C1472.63 1483.07 1473.01 1475.2 1473.8 1466C1474.59 1456.8 1476.97 1430.87 1478.2 1421C1479.43 1411.13 1481.23 1400.13 1483 1392C1484.77 1383.87 1490.37 1364.27 1491.5 1360" stroke="#0000ff" stroke-dasharray="21 11.5"/>
<path d="M1466 1470C1466.59 1467.87 1469.19 1458.93 1470.4 1454C1471.61 1449.07 1473.69 1438.6 1475.1 1433C1476.51 1427.4 1478.81 1418.4 1481 1412C1483.19 1405.6 1490.1 1388.6 1491.5 1385" stroke="#0000ff" stroke-dasharray="2.8 5.4"/>
<path d="M1466 1476C1466.59 1474.32 1468.56 1468.83 1470.4 1463.4C1472.24 1457.97 1476.99 1442.47 1479.8 1435.3C1482.61 1428.13 1489.94 1413.03 1491.5 1409.6" stroke="#000"/>
<path d="M1466 1422C1466.59 1422.84 1469.19 1424.97 1470.4 1428.3C1471.61 1431.63 1474.17 1438.28 1475.1 1447C1476.03 1455.72 1476.93 1484.98 1477.4 1493.7C1477.87 1502.42 1478.39 1508.89 1478.6 1512.4C1478.81 1515.91 1478.95 1518.99 1479 1520" stroke="#000" stroke-dasharray="2.8 5.4"/>
</g></svg>
<path d="M135 1198H1491.1V1516.8H135ZM285.68 1516.8v-14.5M285.68 1198v14.5M436.36 1516.8v-14.5M436.36 1198v14.5M587.03 1516.8v-14.5M587.03 1198v14.5M737.71 1516.8v-14.5M737.71 1198v14.5M888.39 1516.8v-14.5M888.39 1198v14.5M1039.07 1516.8v-14.5M1039.07 1198v14.5M1189.74 1516.8v-14.5M1189.74 1198v14.5M1340.42 1516.8v-14.5M1340.42 1198v14.5M135 1325.52h14.5M1491.1 1325.52h-14.5M135 1453.04h14.5M1491.1 1453.04h-14.5" stroke="#1a1a1a" stroke-width="1.9" fill="none"/>
<text x="120.4" y="1211.7" font-size="37" text-anchor="end"  >0</text>
<text x="120.4" y="1339.22" font-size="37" text-anchor="end"  >-10</text>
<text x="120.4" y="1466.74" font-size="37" text-anchor="end"  >-20</text>
<text x="134.2" y="1566.7" font-size="37" text-anchor="middle"  >0.5</text>
<text x="284.88" y="1566.7" font-size="37" text-anchor="middle"  >1</text>
<text x="435.56" y="1566.7" font-size="37" text-anchor="middle"  >1.5</text>
<text x="586.23" y="1566.7" font-size="37" text-anchor="middle"  >2</text>
<text x="736.91" y="1566.7" font-size="37" text-anchor="middle"  >2.5</text>
<text x="887.59" y="1566.7" font-size="37" text-anchor="middle"  >3</text>
<text x="1038.27" y="1566.7" font-size="37" text-anchor="middle"  >3.5</text>
<text x="1188.94" y="1566.7" font-size="37" text-anchor="middle"  >4</text>
<text x="1339.62" y="1566.7" font-size="37" text-anchor="middle"  >4.5</text>
<text x="1490.3" y="1566.7" font-size="37" text-anchor="middle"  >5</text>
<text x="812.2" y="1615.9" font-size="42" text-anchor="middle"  >Frequency [GHz]</text>
<text transform="translate(35.0,1359.1) rotate(-90) scale(1.065,1)" font-size="41.3" text-anchor="middle">|<tspan font-style="italic">S</tspan><tspan font-size="32.5" dy="20.5">22</tspan><tspan dy="-20.5">|, |</tspan><tspan font-style="italic">S</tspan><tspan font-size="32.5" dy="20.5">32</tspan><tspan dy="-20.5">| [dB]</tspan></text>
<rect x="1237.6" y="1239.1" width="231.2" height="259.2" fill="#fff" stroke="#1f1f1f" stroke-width="1.8"/>
<path d="M1245.2 1263.9H1322.3" stroke="#000" stroke-width="1.8" fill="none" stroke-dasharray="2.9 5.33"/>
<text x="1333" y="1275.8" font-size="34.6" text-anchor="start"  >LPW=8</text>
<path d="M1245.2 1305.95H1328" stroke="#000" stroke-width="1.8" fill="none" stroke-dasharray="21 11.8"/>
<text x="1333" y="1317.85" font-size="34.6" text-anchor="start"  >LPW=9</text>
<path d="M1245.2 1348H1328" stroke="#000" stroke-width="1.8" fill="none"/>
<text x="1333" y="1359.9" font-size="34.6" text-anchor="start"  >LPW=10</text>
<path d="M1245.2 1390.05H1322.3" stroke="#0000ff" stroke-width="1.8" fill="none" stroke-dasharray="2.9 5.33"/>
<text x="1333" y="1401.95" font-size="34.6" text-anchor="start"  >LPW=12</text>
<path d="M1245.2 1432.1H1328" stroke="#0000ff" stroke-width="1.8" fill="none" stroke-dasharray="21 11.8"/>
<text x="1333" y="1444" font-size="34.6" text-anchor="start"  >LPW=20</text>
<path d="M1245.2 1474.15H1328" stroke="#0000ff" stroke-width="1.8" fill="none"/>
<text x="1333" y="1486.05" font-size="34.6" text-anchor="start"  >LPW=27</text>
</g>
<text x="818.5" y="1692" font-size="44" text-anchor="middle"  >(b)</text>
</svg></body></html>
